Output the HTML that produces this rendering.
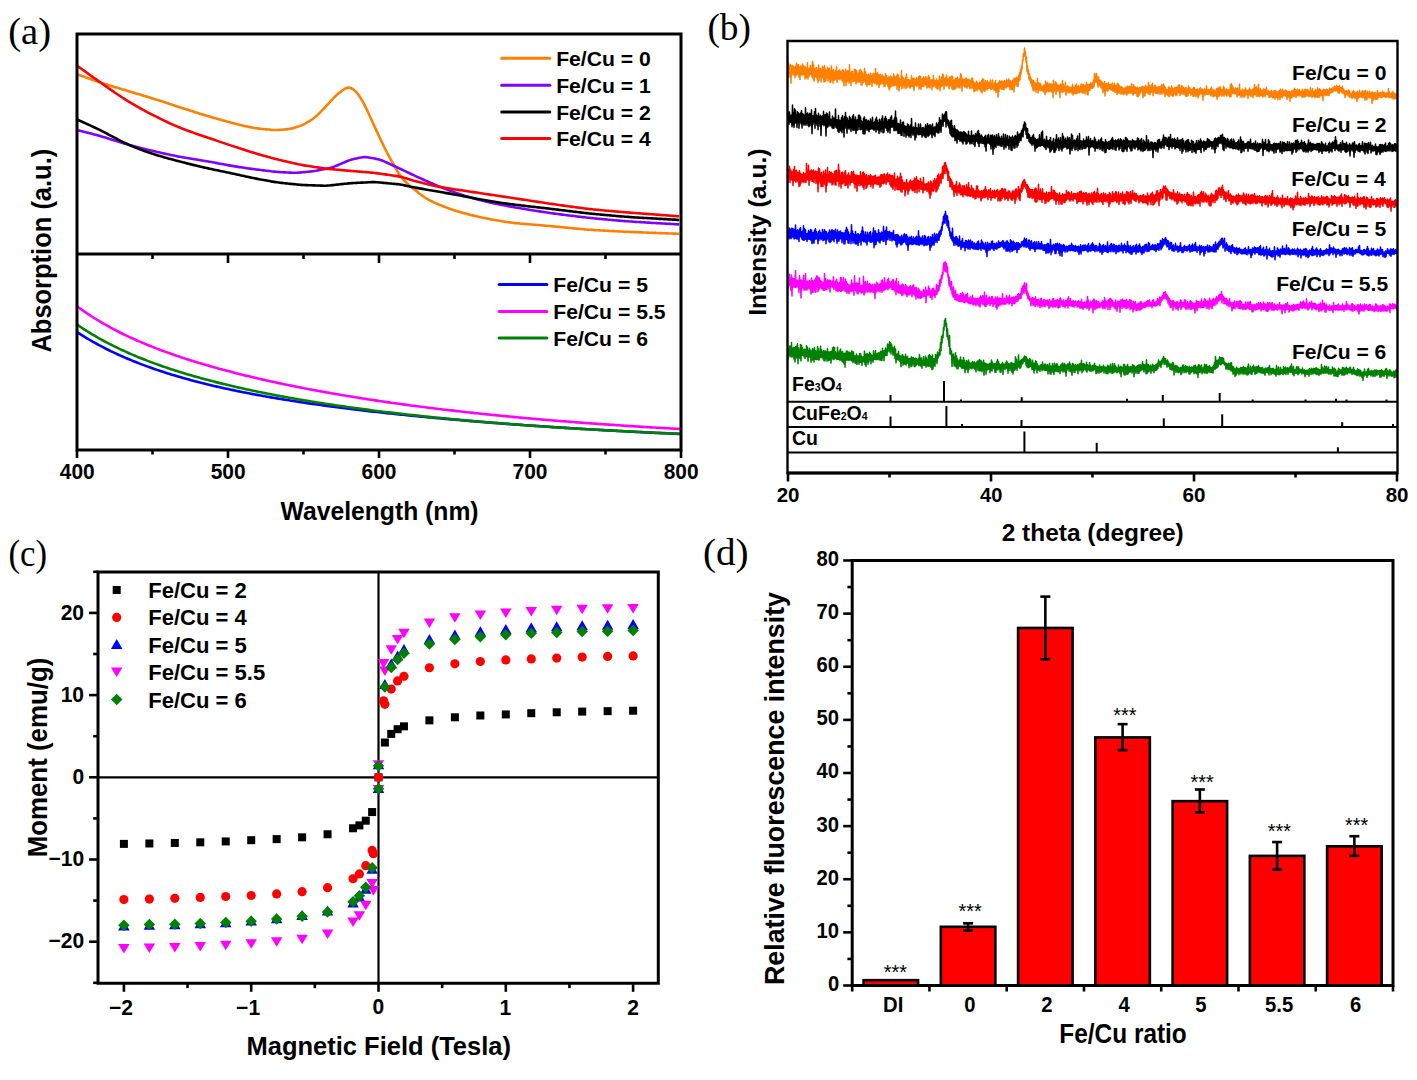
<!DOCTYPE html>
<html><head><meta charset="utf-8"><title>Figure</title>
<style>html,body{margin:0;padding:0;background:#fff;}svg{display:block;}</style></head>
<body><svg width="1417" height="1080" viewBox="0 0 1417 1080">
<rect x="0" y="0" width="1417" height="1080" fill="#fff"/>
<path d="M77.6,74.41 79.1,74.95 80.6,75.50 82.1,76.05 83.6,76.59 85.1,77.14 86.6,77.68 88.1,78.22 89.6,78.76 91.1,79.29 92.6,79.83 94.1,80.35 95.6,80.87 97.1,81.39 98.6,81.90 100.1,82.40 101.6,82.90 103.1,83.39 104.6,83.88 106.1,84.36 107.6,84.83 109.1,85.30 110.6,85.77 112.1,86.23 113.6,86.69 115.1,87.14 116.6,87.60 118.1,88.05 119.6,88.50 121.1,88.95 122.6,89.40 124.1,89.85 125.6,90.30 127.1,90.75 128.6,91.20 130.1,91.65 131.6,92.09 133.1,92.54 134.6,92.99 136.1,93.44 137.6,93.88 139.1,94.33 140.6,94.78 142.1,95.23 143.6,95.69 145.1,96.14 146.6,96.60 148.1,97.06 149.6,97.52 151.1,97.98 152.6,98.45 154.1,98.92 155.6,99.39 157.1,99.87 158.6,100.35 160.1,100.83 161.6,101.31 163.1,101.80 164.6,102.28 166.1,102.77 167.6,103.26 169.1,103.75 170.6,104.24 172.1,104.73 173.6,105.22 175.1,105.71 176.6,106.20 178.1,106.69 179.6,107.17 181.1,107.66 182.6,108.15 184.1,108.64 185.6,109.12 187.1,109.61 188.6,110.09 190.1,110.57 191.6,111.05 193.1,111.53 194.6,112.01 196.1,112.49 197.6,112.96 199.1,113.43 200.6,113.89 202.1,114.36 203.6,114.81 205.1,115.27 206.6,115.72 208.1,116.16 209.6,116.60 211.1,117.04 212.6,117.48 214.1,117.91 215.6,118.33 217.1,118.76 218.6,119.18 220.1,119.61 221.6,120.02 223.1,120.44 224.6,120.86 226.1,121.27 227.6,121.68 229.1,122.09 230.6,122.50 232.1,122.90 233.6,123.30 235.1,123.69 236.6,124.08 238.1,124.46 239.6,124.83 241.1,125.20 242.6,125.55 244.1,125.90 245.6,126.23 247.1,126.55 248.6,126.86 250.1,127.15 251.6,127.43 253.1,127.69 254.6,127.94 256.1,128.17 257.6,128.39 259.1,128.60 260.6,128.79 262.1,128.96 263.6,129.12 265.1,129.26 266.6,129.38 268.1,129.48 269.6,129.56 271.1,129.93 272.6,129.99 274.1,130.02 275.6,130.03 277.1,130.02 278.6,129.97 280.1,129.90 281.6,129.80 283.1,129.67 284.6,129.52 286.1,129.34 287.6,129.13 289.1,128.89 290.6,128.72 292.1,128.37 293.6,127.96 295.1,127.52 296.6,127.08 298.1,126.61 299.6,126.12 301.1,125.57 302.6,124.92 304.1,124.17 305.6,123.35 307.1,122.48 308.6,121.59 310.1,120.68 311.6,119.73 313.1,118.70 314.6,117.54 316.1,116.24 317.6,114.83 319.1,113.35 320.6,111.84 322.1,110.33 323.6,108.80 325.1,107.25 326.6,105.66 328.1,104.03 329.6,102.38 331.1,100.71 332.6,99.05 334.1,97.46 335.6,95.96 337.1,94.60 338.6,93.36 340.1,92.20 341.6,91.07 343.1,89.98 344.6,88.96 346.1,88.14 347.6,87.66 349.1,87.64 350.6,88.05 352.1,88.76 353.6,89.69 355.1,90.87 356.6,92.40 358.1,94.29 359.6,96.50 361.1,98.90 362.6,101.45 364.1,104.16 365.6,107.08 367.1,110.19 368.6,113.44 370.1,116.76 371.6,120.09 373.1,123.41 374.6,126.69 376.1,129.92 377.6,133.12 379.1,136.29 380.6,139.46 382.1,142.61 383.6,145.74 385.1,148.80 386.6,151.77 388.1,154.63 389.6,157.39 391.1,160.10 392.6,162.79 394.1,165.46 395.6,168.12 397.1,170.71 398.6,173.17 400.1,175.41 401.6,177.39 403.1,179.15 404.6,180.78 406.1,182.32 407.6,183.78 409.1,185.14 410.6,186.43 412.1,187.67 413.6,188.88 415.1,190.08 416.6,191.28 418.1,192.48 419.6,193.68 421.1,194.81 422.6,195.93 424.1,196.99 425.6,197.99 427.1,198.91 428.6,199.75 430.1,200.53 431.6,201.27 433.1,201.97 434.6,202.66 436.1,203.34 437.6,204.02 439.1,204.69 440.6,205.17 442.1,205.82 443.6,206.45 445.1,207.06 446.6,207.65 448.1,208.22 449.6,208.77 451.1,209.30 452.6,209.81 454.1,210.30 455.6,210.78 457.1,211.23 458.6,211.68 460.1,212.11 461.6,212.53 463.1,212.94 464.6,213.35 466.1,213.74 467.6,214.13 469.1,214.52 470.6,214.89 472.1,215.27 473.6,215.63 475.1,215.99 476.6,216.34 478.1,216.69 479.6,217.02 481.1,217.35 482.6,217.67 484.1,217.98 485.6,218.29 487.1,218.59 488.6,218.88 490.1,219.17 491.6,219.45 493.1,219.72 494.6,220.00 496.1,220.26 497.6,220.53 499.1,220.78 500.6,221.04 502.1,221.28 503.6,221.52 505.1,221.75 506.6,221.97 508.1,222.19 509.6,222.39 511.1,222.58 512.6,222.76 514.1,222.94 515.6,223.10 517.1,223.26 518.6,223.41 520.1,223.55 521.6,223.69 523.1,223.82 524.6,223.95 526.1,224.07 527.6,224.20 529.1,224.32 530.6,224.45 532.1,224.57 533.6,224.69 535.1,224.81 536.6,224.93 538.1,225.06 539.6,225.18 541.1,225.30 542.6,225.43 544.1,225.55 545.6,225.68 547.1,225.81 548.6,225.94 550.1,226.08 551.6,226.21 553.1,226.35 554.6,226.49 556.1,226.63 557.6,226.77 559.1,226.91 560.6,227.06 562.1,227.20 563.6,227.35 565.1,227.49 566.6,227.64 568.1,227.79 569.6,227.93 571.1,228.08 572.6,228.23 574.1,228.37 575.6,228.52 577.1,228.66 578.6,228.80 580.1,228.94 581.6,229.07 583.1,229.21 584.6,229.34 586.1,229.46 587.6,229.58 589.1,229.70 590.6,229.81 592.1,229.91 593.6,230.02 595.1,230.11 596.6,230.21 598.1,230.30 599.6,230.38 601.1,230.47 602.6,230.55 604.1,230.63 605.6,230.71 607.1,230.79 608.6,230.86 610.1,230.94 611.6,231.02 613.1,231.09 614.6,231.17 616.1,231.24 617.6,231.32 619.1,231.39 620.6,231.46 622.1,231.54 623.6,231.61 625.1,231.68 626.6,231.75 628.1,231.82 629.6,231.88 631.1,231.95 632.6,232.02 634.1,232.08 635.6,232.14 637.1,232.20 638.6,232.27 640.1,232.33 641.6,232.39 643.1,232.45 644.6,232.51 646.1,232.56 647.6,232.62 649.1,232.68 650.6,232.74 652.1,232.80 653.6,232.86 655.1,232.92 656.6,232.97 658.1,233.03 659.6,233.09 661.1,233.15 662.6,233.21 664.1,233.27 665.6,233.32 667.1,233.38 668.6,233.44 670.1,233.50 671.6,233.56 673.1,233.62 674.6,233.67 676.1,233.73 677.6,233.79 679.1,233.85" stroke="#FF8000" stroke-width="2.6" fill="none" stroke-linejoin="round" />
<path d="M77.6,130.19 79.1,130.56 80.6,130.94 82.1,131.31 83.6,131.69 85.1,132.06 86.6,132.44 88.1,132.82 89.6,133.21 91.1,133.60 92.6,133.99 94.1,134.39 95.6,134.79 97.1,135.20 98.6,135.62 100.1,136.05 101.6,136.48 103.1,136.92 104.6,137.37 106.1,137.82 107.6,138.28 109.1,138.74 110.6,139.21 112.1,139.68 113.6,140.16 115.1,140.63 116.6,141.10 118.1,141.57 119.6,142.04 121.1,142.50 122.6,142.96 124.1,143.41 125.6,143.85 127.1,144.29 128.6,144.71 130.1,145.13 131.6,145.55 133.1,145.96 134.6,146.36 136.1,146.75 137.6,147.14 139.1,147.53 140.6,147.91 142.1,148.29 143.6,148.66 145.1,149.04 146.6,149.41 148.1,149.77 149.6,150.14 151.1,150.50 152.6,150.85 154.1,151.21 155.6,151.56 157.1,151.91 158.6,152.26 160.1,152.60 161.6,152.94 163.1,153.28 164.6,153.61 166.1,153.95 167.6,154.27 169.1,154.60 170.6,154.92 172.1,155.23 173.6,155.54 175.1,155.84 176.6,156.13 178.1,156.42 179.6,156.70 181.1,156.97 182.6,157.24 184.1,157.50 185.6,157.75 187.1,158.00 188.6,158.25 190.1,158.49 191.6,158.73 193.1,158.96 194.6,159.20 196.1,159.44 197.6,159.68 199.1,159.93 200.6,160.17 202.1,160.43 203.6,160.68 205.1,160.94 206.6,161.20 208.1,161.47 209.6,161.75 211.1,162.02 212.6,162.30 214.1,162.58 215.6,162.87 217.1,163.15 218.6,163.44 220.1,163.72 221.6,164.00 223.1,164.28 224.6,164.56 226.1,164.84 227.6,165.10 229.1,165.37 230.6,165.63 232.1,165.89 233.6,166.14 235.1,166.38 236.6,166.62 238.1,166.86 239.6,167.10 241.1,167.33 242.6,167.55 244.1,167.78 245.6,168.00 247.1,168.21 248.6,168.43 250.1,168.64 251.6,168.84 253.1,169.05 254.6,169.25 256.1,169.44 257.6,169.63 259.1,169.82 260.6,170.01 262.1,170.19 263.6,170.37 265.1,170.54 266.6,170.71 268.1,170.88 269.6,171.04 271.1,171.27 272.6,171.44 274.1,171.60 275.6,171.75 277.1,171.89 278.6,172.02 280.1,172.13 281.6,172.22 283.1,172.30 284.6,172.38 286.1,172.45 287.6,172.51 289.1,172.58 290.6,172.65 292.1,172.71 293.6,172.76 295.1,172.77 296.6,172.74 298.1,172.66 299.6,172.55 301.1,172.41 302.6,172.26 304.1,172.11 305.6,171.97 307.1,171.82 308.6,171.67 310.1,171.51 311.6,171.35 313.1,171.17 314.6,170.95 316.1,170.71 317.6,170.43 319.1,170.14 320.6,169.84 322.1,169.54 323.6,169.24 325.1,168.94 326.6,168.64 328.1,168.33 329.6,168.00 331.1,167.62 332.6,167.17 334.1,166.64 335.6,166.05 337.1,165.43 338.6,164.78 340.1,164.14 341.6,163.49 343.1,162.85 344.6,162.20 346.1,161.56 347.6,160.94 349.1,160.37 350.6,159.86 352.1,159.43 353.6,159.06 355.1,158.73 356.6,158.41 358.1,158.10 359.6,157.79 361.1,157.50 362.6,157.26 364.1,157.12 365.6,157.11 367.1,157.24 368.6,157.45 370.1,157.72 371.6,158.00 373.1,158.29 374.6,158.57 376.1,158.87 377.6,159.19 379.1,159.55 380.6,160.00 382.1,160.55 383.6,161.17 385.1,161.83 386.6,162.52 388.1,163.21 389.6,163.90 391.1,164.59 392.6,165.28 394.1,165.98 395.6,166.67 397.1,167.36 398.6,168.06 400.1,168.76 401.6,169.47 403.1,170.19 404.6,170.90 406.1,171.62 407.6,172.34 409.1,173.05 410.6,173.77 412.1,174.48 413.6,175.19 415.1,175.88 416.6,176.56 418.1,177.24 419.6,177.92 421.1,178.59 422.6,179.27 424.1,179.94 425.6,180.62 427.1,181.29 428.6,181.97 430.1,182.64 431.6,183.31 433.1,183.98 434.6,184.64 436.1,185.28 437.6,185.91 439.1,186.53 440.6,186.99 442.1,187.59 443.6,188.18 445.1,188.77 446.6,189.35 448.1,189.92 449.6,190.48 451.1,191.04 452.6,191.59 454.1,192.13 455.6,192.67 457.1,193.19 458.6,193.71 460.1,194.21 461.6,194.71 463.1,195.19 464.6,195.67 466.1,196.13 467.6,196.59 469.1,197.03 470.6,197.47 472.1,197.90 473.6,198.32 475.1,198.74 476.6,199.14 478.1,199.54 479.6,199.94 481.1,200.32 482.6,200.70 484.1,201.07 485.6,201.43 487.1,201.79 488.6,202.14 490.1,202.48 491.6,202.81 493.1,203.13 494.6,203.45 496.1,203.77 497.6,204.08 499.1,204.38 500.6,204.68 502.1,204.97 503.6,205.27 505.1,205.55 506.6,205.84 508.1,206.12 509.6,206.39 511.1,206.66 512.6,206.93 514.1,207.19 515.6,207.46 517.1,207.71 518.6,207.97 520.1,208.22 521.6,208.47 523.1,208.72 524.6,208.96 526.1,209.21 527.6,209.46 529.1,209.70 530.6,209.94 532.1,210.19 533.6,210.43 535.1,210.67 536.6,210.91 538.1,211.15 539.6,211.39 541.1,211.62 542.6,211.86 544.1,212.09 545.6,212.32 547.1,212.54 548.6,212.76 550.1,212.98 551.6,213.19 553.1,213.40 554.6,213.60 556.1,213.81 557.6,214.00 559.1,214.20 560.6,214.39 562.1,214.59 563.6,214.78 565.1,214.97 566.6,215.15 568.1,215.34 569.6,215.53 571.1,215.71 572.6,215.90 574.1,216.08 575.6,216.27 577.1,216.45 578.6,216.63 580.1,216.81 581.6,216.99 583.1,217.16 584.6,217.33 586.1,217.50 587.6,217.67 589.1,217.83 590.6,217.99 592.1,218.14 593.6,218.30 595.1,218.44 596.6,218.59 598.1,218.73 599.6,218.87 601.1,219.01 602.6,219.15 604.1,219.29 605.6,219.42 607.1,219.56 608.6,219.69 610.1,219.82 611.6,219.95 613.1,220.09 614.6,220.22 616.1,220.35 617.6,220.48 619.1,220.60 620.6,220.73 622.1,220.85 623.6,220.98 625.1,221.09 626.6,221.21 628.1,221.32 629.6,221.44 631.1,221.54 632.6,221.65 634.1,221.75 635.6,221.85 637.1,221.95 638.6,222.04 640.1,222.13 641.6,222.23 643.1,222.32 644.6,222.41 646.1,222.50 647.6,222.58 649.1,222.67 650.6,222.76 652.1,222.85 653.6,222.94 655.1,223.02 656.6,223.11 658.1,223.20 659.6,223.29 661.1,223.37 662.6,223.46 664.1,223.55 665.6,223.64 667.1,223.72 668.6,223.81 670.1,223.90 671.6,223.99 673.1,224.07 674.6,224.16 676.1,224.25 677.6,224.34 679.1,224.42" stroke="#8000FF" stroke-width="2.6" fill="none" stroke-linejoin="round" />
<path d="M77.6,119.79 79.1,120.46 80.6,121.13 82.1,121.80 83.6,122.47 85.1,123.14 86.6,123.82 88.1,124.50 89.6,125.18 91.1,125.87 92.6,126.57 94.1,127.27 95.6,127.98 97.1,128.70 98.6,129.43 100.1,130.17 101.6,130.92 103.1,131.67 104.6,132.44 106.1,133.22 107.6,134.00 109.1,134.79 110.6,135.58 112.1,136.37 113.6,137.17 115.1,137.96 116.6,138.75 118.1,139.53 119.6,140.31 121.1,141.07 122.6,141.81 124.1,142.55 125.6,143.26 127.1,143.96 128.6,144.64 130.1,145.31 131.6,145.96 133.1,146.59 134.6,147.20 136.1,147.81 137.6,148.40 139.1,148.98 140.6,149.55 142.1,150.11 143.6,150.66 145.1,151.21 146.6,151.74 148.1,152.26 149.6,152.78 151.1,153.28 152.6,153.77 154.1,154.26 155.6,154.73 157.1,155.19 158.6,155.65 160.1,156.09 161.6,156.53 163.1,156.96 164.6,157.39 166.1,157.81 167.6,158.23 169.1,158.64 170.6,159.05 172.1,159.46 173.6,159.86 175.1,160.26 176.6,160.66 178.1,161.06 179.6,161.45 181.1,161.84 182.6,162.23 184.1,162.61 185.6,162.99 187.1,163.38 188.6,163.75 190.1,164.13 191.6,164.50 193.1,164.87 194.6,165.24 196.1,165.61 197.6,165.97 199.1,166.33 200.6,166.68 202.1,167.03 203.6,167.38 205.1,167.72 206.6,168.05 208.1,168.38 209.6,168.71 211.1,169.03 212.6,169.35 214.1,169.67 215.6,169.98 217.1,170.29 218.6,170.60 220.1,170.91 221.6,171.22 223.1,171.54 224.6,171.85 226.1,172.16 227.6,172.48 229.1,172.80 230.6,173.12 232.1,173.45 233.6,173.77 235.1,174.10 236.6,174.43 238.1,174.77 239.6,175.10 241.1,175.43 242.6,175.76 244.1,176.09 245.6,176.42 247.1,176.74 248.6,177.07 250.1,177.38 251.6,177.70 253.1,178.00 254.6,178.31 256.1,178.60 257.6,178.89 259.1,179.18 260.6,179.46 262.1,179.73 263.6,180.00 265.1,180.27 266.6,180.53 268.1,180.78 269.6,181.03 271.1,181.36 272.6,181.61 274.1,181.86 275.6,182.10 277.1,182.33 278.6,182.54 280.1,182.73 281.6,182.91 283.1,183.07 284.6,183.23 286.1,183.39 287.6,183.54 289.1,183.69 290.6,183.84 292.1,183.99 293.6,184.14 295.1,184.29 296.6,184.44 298.1,184.59 299.6,184.73 301.1,184.85 302.6,184.96 304.1,185.04 305.6,185.11 307.1,185.16 308.6,185.21 310.1,185.26 311.6,185.31 313.1,185.36 314.6,185.41 316.1,185.46 317.6,185.51 319.1,185.56 320.6,185.61 322.1,185.65 323.6,185.69 325.1,185.69 326.6,185.65 328.1,185.56 329.6,185.43 331.1,185.28 332.6,185.12 334.1,184.96 335.6,184.80 337.1,184.63 338.6,184.47 340.1,184.31 341.6,184.15 343.1,183.99 344.6,183.83 346.1,183.67 347.6,183.51 349.1,183.37 350.6,183.24 352.1,183.14 353.6,183.05 355.1,182.97 356.6,182.89 358.1,182.82 359.6,182.74 361.1,182.67 362.6,182.59 364.1,182.52 365.6,182.44 367.1,182.37 368.6,182.29 370.1,182.22 371.6,182.17 373.1,182.13 374.6,182.15 376.1,182.21 377.6,182.31 379.1,182.44 380.6,182.57 382.1,182.72 383.6,182.86 385.1,183.00 386.6,183.14 388.1,183.28 389.6,183.42 391.1,183.56 392.6,183.70 394.1,183.85 395.6,183.99 397.1,184.15 398.6,184.32 400.1,184.54 401.6,184.79 403.1,185.08 404.6,185.39 406.1,185.71 407.6,186.03 409.1,186.35 410.6,186.67 412.1,186.98 413.6,187.28 415.1,187.57 416.6,187.85 418.1,188.12 419.6,188.38 421.1,188.64 422.6,188.90 424.1,189.17 425.6,189.43 427.1,189.69 428.6,189.95 430.1,190.22 431.6,190.48 433.1,190.74 434.6,191.00 436.1,191.27 437.6,191.53 439.1,191.79 440.6,192.06 442.1,192.32 443.6,192.58 445.1,192.85 446.6,193.11 448.1,193.37 449.6,193.64 451.1,193.90 452.6,194.17 454.1,194.44 455.6,194.71 457.1,194.98 458.6,195.26 460.1,195.54 461.6,195.81 463.1,196.10 464.6,196.38 466.1,196.67 467.6,196.95 469.1,197.24 470.6,197.53 472.1,197.82 473.6,198.11 475.1,198.40 476.6,198.69 478.1,198.98 479.6,199.26 481.1,199.54 482.6,199.81 484.1,200.08 485.6,200.35 487.1,200.61 488.6,200.87 490.1,201.12 491.6,201.36 493.1,201.61 494.6,201.84 496.1,202.08 497.6,202.31 499.1,202.53 500.6,202.75 502.1,202.97 503.6,203.19 505.1,203.40 506.6,203.61 508.1,203.81 509.6,204.01 511.1,204.21 512.6,204.40 514.1,204.59 515.6,204.78 517.1,204.96 518.6,205.14 520.1,205.31 521.6,205.49 523.1,205.66 524.6,205.84 526.1,206.01 527.6,206.18 529.1,206.35 530.6,206.52 532.1,206.69 533.6,206.86 535.1,207.03 536.6,207.20 538.1,207.37 539.6,207.54 541.1,207.71 542.6,207.88 544.1,208.05 545.6,208.23 547.1,208.40 548.6,208.58 550.1,208.75 551.6,208.93 553.1,209.11 554.6,209.29 556.1,209.47 557.6,209.65 559.1,209.84 560.6,210.02 562.1,210.21 563.6,210.39 565.1,210.57 566.6,210.76 568.1,210.95 569.6,211.13 571.1,211.32 572.6,211.50 574.1,211.68 575.6,211.87 577.1,212.05 578.6,212.23 580.1,212.41 581.6,212.59 583.1,212.76 584.6,212.93 586.1,213.10 587.6,213.27 589.1,213.43 590.6,213.59 592.1,213.74 593.6,213.90 595.1,214.04 596.6,214.19 598.1,214.33 599.6,214.47 601.1,214.61 602.6,214.75 604.1,214.89 605.6,215.02 607.1,215.16 608.6,215.29 610.1,215.42 611.6,215.55 613.1,215.69 614.6,215.82 616.1,215.95 617.6,216.08 619.1,216.20 620.6,216.33 622.1,216.45 623.6,216.57 625.1,216.69 626.6,216.81 628.1,216.92 629.6,217.03 631.1,217.13 632.6,217.24 634.1,217.34 635.6,217.43 637.1,217.53 638.6,217.62 640.1,217.71 641.6,217.80 643.1,217.89 644.6,217.98 646.1,218.06 647.6,218.15 649.1,218.23 650.6,218.32 652.1,218.40 653.6,218.49 655.1,218.57 656.6,218.66 658.1,218.74 659.6,218.83 661.1,218.91 662.6,219.00 664.1,219.08 665.6,219.16 667.1,219.25 668.6,219.33 670.1,219.42 671.6,219.50 673.1,219.59 674.6,219.67 676.1,219.76 677.6,219.84 679.1,219.93" stroke="#000" stroke-width="2.6" fill="none" stroke-linejoin="round" />
<path d="M77.6,66.00 79.1,67.09 80.6,68.18 82.1,69.27 83.6,70.35 85.1,71.44 86.6,72.53 88.1,73.61 89.6,74.70 91.1,75.78 92.6,76.86 94.1,77.94 95.6,79.01 97.1,80.09 98.6,81.16 100.1,82.23 101.6,83.29 103.1,84.35 104.6,85.41 106.1,86.47 107.6,87.52 109.1,88.57 110.6,89.62 112.1,90.66 113.6,91.69 115.1,92.72 116.6,93.74 118.1,94.76 119.6,95.76 121.1,96.76 122.6,97.74 124.1,98.71 125.6,99.67 127.1,100.61 128.6,101.53 130.1,102.45 131.6,103.35 133.1,104.23 134.6,105.10 136.1,105.97 137.6,106.82 139.1,107.66 140.6,108.50 142.1,109.33 143.6,110.15 145.1,110.96 146.6,111.77 148.1,112.57 149.6,113.36 151.1,114.14 152.6,114.92 154.1,115.69 155.6,116.45 157.1,117.20 158.6,117.94 160.1,118.68 161.6,119.41 163.1,120.13 164.6,120.84 166.1,121.55 167.6,122.26 169.1,122.95 170.6,123.63 172.1,124.31 173.6,124.98 175.1,125.63 176.6,126.27 178.1,126.90 179.6,127.52 181.1,128.13 182.6,128.72 184.1,129.30 185.6,129.87 187.1,130.43 188.6,130.99 190.1,131.53 191.6,132.07 193.1,132.61 194.6,133.14 196.1,133.67 197.6,134.19 199.1,134.71 200.6,135.24 202.1,135.75 203.6,136.27 205.1,136.79 206.6,137.30 208.1,137.81 209.6,138.32 211.1,138.83 212.6,139.34 214.1,139.85 215.6,140.35 217.1,140.86 218.6,141.36 220.1,141.87 221.6,142.37 223.1,142.87 224.6,143.37 226.1,143.87 227.6,144.37 229.1,144.87 230.6,145.37 232.1,145.87 233.6,146.36 235.1,146.86 236.6,147.35 238.1,147.84 239.6,148.33 241.1,148.82 242.6,149.30 244.1,149.79 245.6,150.27 247.1,150.74 248.6,151.22 250.1,151.68 251.6,152.15 253.1,152.60 254.6,153.06 256.1,153.50 257.6,153.94 259.1,154.38 260.6,154.81 262.1,155.23 263.6,155.66 265.1,156.07 266.6,156.48 268.1,156.89 269.6,157.30 271.1,157.75 272.6,158.16 274.1,158.56 275.6,158.96 277.1,159.34 278.6,159.72 280.1,160.09 281.6,160.44 283.1,160.79 284.6,161.14 286.1,161.48 287.6,161.81 289.1,162.15 290.6,162.49 292.1,162.83 293.6,163.16 295.1,163.50 296.6,163.84 298.1,164.17 299.6,164.50 301.1,164.81 302.6,165.10 304.1,165.36 305.6,165.60 307.1,165.83 308.6,166.06 310.1,166.28 311.6,166.50 313.1,166.73 314.6,166.95 316.1,167.18 317.6,167.40 319.1,167.62 320.6,167.85 322.1,168.07 323.6,168.29 325.1,168.49 326.6,168.68 328.1,168.84 329.6,168.99 331.1,169.14 332.6,169.27 334.1,169.41 335.6,169.55 337.1,169.69 338.6,169.82 340.1,169.96 341.6,170.10 343.1,170.23 344.6,170.37 346.1,170.51 347.6,170.64 349.1,170.78 350.6,170.91 352.1,171.04 353.6,171.16 355.1,171.29 356.6,171.41 358.1,171.54 359.6,171.66 361.1,171.79 362.6,171.91 364.1,172.04 365.6,172.16 367.1,172.29 368.6,172.41 370.1,172.54 371.6,172.67 373.1,172.81 374.6,172.97 376.1,173.15 377.6,173.35 379.1,173.55 380.6,173.76 382.1,173.97 383.6,174.18 385.1,174.40 386.6,174.61 388.1,174.82 389.6,175.03 391.1,175.24 392.6,175.46 394.1,175.67 395.6,175.89 397.1,176.12 398.6,176.38 400.1,176.69 401.6,177.06 403.1,177.47 404.6,177.92 406.1,178.37 407.6,178.83 409.1,179.29 410.6,179.75 412.1,180.20 413.6,180.63 415.1,181.04 416.6,181.44 418.1,181.82 419.6,182.20 421.1,182.57 422.6,182.95 424.1,183.32 425.6,183.70 427.1,184.07 428.6,184.45 430.1,184.82 431.6,185.19 433.1,185.55 434.6,185.91 436.1,186.24 437.6,186.56 439.1,186.85 440.6,186.95 442.1,187.22 443.6,187.49 445.1,187.75 446.6,188.01 448.1,188.26 449.6,188.50 451.1,188.74 452.6,188.97 454.1,189.20 455.6,189.43 457.1,189.66 458.6,189.89 460.1,190.11 461.6,190.34 463.1,190.56 464.6,190.79 466.1,191.01 467.6,191.24 469.1,191.46 470.6,191.69 472.1,191.91 473.6,192.14 475.1,192.36 476.6,192.59 478.1,192.82 479.6,193.04 481.1,193.27 482.6,193.49 484.1,193.72 485.6,193.94 487.1,194.17 488.6,194.39 490.1,194.62 491.6,194.84 493.1,195.07 494.6,195.29 496.1,195.52 497.6,195.74 499.1,195.97 500.6,196.19 502.1,196.42 503.6,196.64 505.1,196.87 506.6,197.10 508.1,197.32 509.6,197.55 511.1,197.78 512.6,198.00 514.1,198.23 515.6,198.46 517.1,198.69 518.6,198.91 520.1,199.14 521.6,199.37 523.1,199.60 524.6,199.83 526.1,200.06 527.6,200.28 529.1,200.51 530.6,200.74 532.1,200.97 533.6,201.20 535.1,201.43 536.6,201.65 538.1,201.88 539.6,202.11 541.1,202.33 542.6,202.56 544.1,202.78 545.6,203.00 547.1,203.23 548.6,203.45 550.1,203.67 551.6,203.89 553.1,204.10 554.6,204.32 556.1,204.53 557.6,204.74 559.1,204.96 560.6,205.17 562.1,205.38 563.6,205.59 565.1,205.80 566.6,206.01 568.1,206.22 569.6,206.43 571.1,206.63 572.6,206.84 574.1,207.05 575.6,207.25 577.1,207.45 578.6,207.66 580.1,207.85 581.6,208.05 583.1,208.24 584.6,208.43 586.1,208.61 587.6,208.79 589.1,208.96 590.6,209.13 592.1,209.29 593.6,209.45 595.1,209.60 596.6,209.75 598.1,209.90 599.6,210.04 601.1,210.18 602.6,210.31 604.1,210.45 605.6,210.58 607.1,210.71 608.6,210.84 610.1,210.97 611.6,211.10 613.1,211.23 614.6,211.36 616.1,211.49 617.6,211.61 619.1,211.74 620.6,211.87 622.1,211.99 623.6,212.12 625.1,212.24 626.6,212.36 628.1,212.48 629.6,212.60 631.1,212.72 632.6,212.84 634.1,212.96 635.6,213.07 637.1,213.19 638.6,213.30 640.1,213.41 641.6,213.53 643.1,213.64 644.6,213.75 646.1,213.86 647.6,213.97 649.1,214.09 650.6,214.20 652.1,214.31 653.6,214.42 655.1,214.53 656.6,214.64 658.1,214.75 659.6,214.86 661.1,214.97 662.6,215.08 664.1,215.19 665.6,215.31 667.1,215.42 668.6,215.53 670.1,215.64 671.6,215.75 673.1,215.86 674.6,215.97 676.1,216.08 677.6,216.19 679.1,216.30" stroke="#FF0000" stroke-width="2.6" fill="none" stroke-linejoin="round" />
<path d="M77.0,306.23 79.0,307.71 81.0,309.16 83.0,310.58 85.0,311.97 87.0,313.33 89.0,314.66 91.0,315.97 93.0,317.25 95.0,318.51 97.0,319.75 99.0,320.96 101.0,322.15 103.0,323.32 105.0,324.47 107.0,325.60 109.0,326.70 111.0,327.79 113.0,328.86 115.0,329.92 117.0,330.95 119.0,331.97 121.0,332.97 123.0,333.96 125.0,334.93 127.0,335.88 129.0,336.82 131.0,337.75 133.0,338.66 135.0,339.56 137.0,340.44 139.0,341.32 141.0,342.18 143.0,343.03 145.0,343.86 147.0,344.69 149.0,345.50 151.0,346.30 153.0,347.10 155.0,347.88 157.0,348.65 159.0,349.41 161.0,350.17 163.0,350.91 165.0,351.64 167.0,352.37 169.0,353.08 171.0,353.79 173.0,354.49 175.0,355.18 177.0,355.87 179.0,356.54 181.0,357.21 183.0,357.87 185.0,358.53 187.0,359.17 189.0,359.81 191.0,360.45 193.0,361.07 195.0,361.69 197.0,362.31 199.0,362.91 201.0,363.51 203.0,364.11 205.0,364.70 207.0,365.28 209.0,365.86 211.0,366.43 213.0,367.00 215.0,367.56 217.0,368.11 219.0,368.66 221.0,369.21 223.0,369.75 225.0,370.29 227.0,370.82 229.0,371.34 231.0,371.86 233.0,372.38 235.0,372.89 237.0,373.40 239.0,373.90 241.0,374.40 243.0,374.90 245.0,375.39 247.0,375.87 249.0,376.36 251.0,376.83 253.0,377.31 255.0,377.78 257.0,378.25 259.0,378.71 261.0,379.17 263.0,379.62 265.0,380.07 267.0,380.52 269.0,380.97 271.0,381.41 273.0,381.84 275.0,382.28 277.0,382.71 279.0,383.14 281.0,383.56 283.0,383.98 285.0,384.40 287.0,384.81 289.0,385.22 291.0,385.63 293.0,386.04 295.0,386.44 297.0,386.84 299.0,387.23 301.0,387.63 303.0,388.02 305.0,388.41 307.0,388.79 309.0,389.17 311.0,389.55 313.0,389.93 315.0,390.30 317.0,390.67 319.0,391.04 321.0,391.40 323.0,391.77 325.0,392.13 327.0,392.48 329.0,392.84 331.0,393.19 333.0,393.54 335.0,393.89 337.0,394.23 339.0,394.57 341.0,394.91 343.0,395.25 345.0,395.59 347.0,395.92 349.0,396.25 351.0,396.58 353.0,396.90 355.0,397.23 357.0,397.55 359.0,397.87 361.0,398.19 363.0,398.50 365.0,398.81 367.0,399.12 369.0,399.43 371.0,399.74 373.0,400.04 375.0,400.34 377.0,400.64 379.0,400.94 381.0,401.24 383.0,401.53 385.0,401.82 387.0,402.11 389.0,402.40 391.0,402.68 393.0,402.97 395.0,403.25 397.0,403.53 399.0,403.81 401.0,404.08 403.0,404.36 405.0,404.63 407.0,404.90 409.0,405.17 411.0,405.44 413.0,405.70 415.0,405.96 417.0,406.23 419.0,406.49 421.0,406.74 423.0,407.00 425.0,407.25 427.0,407.51 429.0,407.76 431.0,408.01 433.0,408.25 435.0,408.50 437.0,408.75 439.0,408.99 441.0,409.23 443.0,409.47 445.0,409.71 447.0,409.94 449.0,410.18 451.0,410.41 453.0,410.64 455.0,410.87 457.0,411.10 459.0,411.33 461.0,411.55 463.0,411.78 465.0,412.00 467.0,412.22 469.0,412.44 471.0,412.66 473.0,412.87 475.0,413.09 477.0,413.30 479.0,413.51 481.0,413.72 483.0,413.93 485.0,414.14 487.0,414.35 489.0,414.55 491.0,414.76 493.0,414.96 495.0,415.16 497.0,415.36 499.0,415.56 501.0,415.75 503.0,415.95 505.0,416.14 507.0,416.34 509.0,416.53 511.0,416.72 513.0,416.91 515.0,417.10 517.0,417.28 519.0,417.47 521.0,417.65 523.0,417.84 525.0,418.02 527.0,418.20 529.0,418.38 531.0,418.55 533.0,418.73 535.0,418.91 537.0,419.08 539.0,419.26 541.0,419.43 543.0,419.60 545.0,419.77 547.0,419.94 549.0,420.11 551.0,420.27 553.0,420.44 555.0,420.60 557.0,420.77 559.0,420.93 561.0,421.09 563.0,421.25 565.0,421.41 567.0,421.57 569.0,421.72 571.0,421.88 573.0,422.03 575.0,422.19 577.0,422.34 579.0,422.49 581.0,422.64 583.0,422.79 585.0,422.94 587.0,423.09 589.0,423.24 591.0,423.38 593.0,423.53 595.0,423.67 597.0,423.81 599.0,423.96 601.0,424.10 603.0,424.24 605.0,424.38 607.0,424.51 609.0,424.65 611.0,424.79 613.0,424.92 615.0,425.06 617.0,425.19 619.0,425.32 621.0,425.46 623.0,425.59 625.0,425.72 627.0,425.85 629.0,425.97 631.0,426.10 633.0,426.23 635.0,426.36 637.0,426.48 639.0,426.60 641.0,426.73 643.0,426.85 645.0,426.97 647.0,427.09 649.0,427.21 651.0,427.33 653.0,427.45 655.0,427.57 657.0,427.69 659.0,427.80 661.0,427.92 663.0,428.03 665.0,428.15 667.0,428.26 669.0,428.37 671.0,428.48 673.0,428.59 675.0,428.70 677.0,428.81 679.0,428.92 681.0,429.03" stroke="#FF00FF" stroke-width="2.6" fill="none" stroke-linejoin="round" />
<path d="M77.0,332.10 79.0,333.39 81.0,334.65 83.0,335.90 85.0,337.12 87.0,338.32 89.0,339.50 91.0,340.66 93.0,341.80 95.0,342.92 97.0,344.01 99.0,345.10 101.0,346.16 103.0,347.20 105.0,348.23 107.0,349.24 109.0,350.23 111.0,351.21 113.0,352.17 115.0,353.11 117.0,354.04 119.0,354.96 121.0,355.86 123.0,356.74 125.0,357.61 127.0,358.47 129.0,359.31 131.0,360.15 133.0,360.96 135.0,361.77 137.0,362.56 139.0,363.34 141.0,364.11 143.0,364.87 145.0,365.62 147.0,366.35 149.0,367.08 151.0,367.79 153.0,368.49 155.0,369.19 157.0,369.87 159.0,370.54 161.0,371.21 163.0,371.86 165.0,372.51 167.0,373.14 169.0,373.77 171.0,374.39 173.0,375.00 175.0,375.60 177.0,376.20 179.0,376.78 181.0,377.36 183.0,377.93 185.0,378.50 187.0,379.05 189.0,379.60 191.0,380.14 193.0,380.68 195.0,381.21 197.0,381.73 199.0,382.24 201.0,382.75 203.0,383.26 205.0,383.75 207.0,384.24 209.0,384.73 211.0,385.21 213.0,385.68 215.0,386.15 217.0,386.61 219.0,387.07 221.0,387.52 223.0,387.97 225.0,388.41 227.0,388.84 229.0,389.28 231.0,389.70 233.0,390.13 235.0,390.54 237.0,390.96 239.0,391.36 241.0,391.77 243.0,392.17 245.0,392.56 247.0,392.96 249.0,393.34 251.0,393.73 253.0,394.11 255.0,394.48 257.0,394.85 259.0,395.22 261.0,395.59 263.0,395.95 265.0,396.31 267.0,396.66 269.0,397.01 271.0,397.36 273.0,397.70 275.0,398.04 277.0,398.38 279.0,398.71 281.0,399.04 283.0,399.37 285.0,399.70 287.0,400.02 289.0,400.34 291.0,400.66 293.0,400.97 295.0,401.28 297.0,401.59 299.0,401.89 301.0,402.20 303.0,402.50 305.0,402.79 307.0,403.09 309.0,403.38 311.0,403.67 313.0,403.96 315.0,404.24 317.0,404.52 319.0,404.80 321.0,405.08 323.0,405.36 325.0,405.63 327.0,405.90 329.0,406.17 331.0,406.44 333.0,406.70 335.0,406.97 337.0,407.23 339.0,407.49 341.0,407.74 343.0,408.00 345.0,408.25 347.0,408.50 349.0,408.75 351.0,409.00 353.0,409.24 355.0,409.49 357.0,409.73 359.0,409.97 361.0,410.21 363.0,410.44 365.0,410.68 367.0,410.91 369.0,411.14 371.0,411.37 373.0,411.60 375.0,411.82 377.0,412.05 379.0,412.27 381.0,412.49 383.0,412.71 385.0,412.93 387.0,413.15 389.0,413.36 391.0,413.58 393.0,413.79 395.0,414.00 397.0,414.21 399.0,414.42 401.0,414.63 403.0,414.83 405.0,415.03 407.0,415.24 409.0,415.44 411.0,415.64 413.0,415.84 415.0,416.03 417.0,416.23 419.0,416.43 421.0,416.62 423.0,416.81 425.0,417.00 427.0,417.19 429.0,417.38 431.0,417.57 433.0,417.75 435.0,417.94 437.0,418.12 439.0,418.30 441.0,418.49 443.0,418.67 445.0,418.85 447.0,419.02 449.0,419.20 451.0,419.38 453.0,419.55 455.0,419.73 457.0,419.90 459.0,420.07 461.0,420.24 463.0,420.41 465.0,420.58 467.0,420.75 469.0,420.91 471.0,421.08 473.0,421.24 475.0,421.40 477.0,421.57 479.0,421.73 481.0,421.89 483.0,422.05 485.0,422.21 487.0,422.36 489.0,422.52 491.0,422.68 493.0,422.83 495.0,422.99 497.0,423.14 499.0,423.29 501.0,423.44 503.0,423.59 505.0,423.74 507.0,423.89 509.0,424.04 511.0,424.18 513.0,424.33 515.0,424.48 517.0,424.62 519.0,424.76 521.0,424.91 523.0,425.05 525.0,425.19 527.0,425.33 529.0,425.47 531.0,425.61 533.0,425.74 535.0,425.88 537.0,426.02 539.0,426.15 541.0,426.29 543.0,426.42 545.0,426.55 547.0,426.69 549.0,426.82 551.0,426.95 553.0,427.08 555.0,427.21 557.0,427.34 559.0,427.47 561.0,427.59 563.0,427.72 565.0,427.84 567.0,427.97 569.0,428.09 571.0,428.22 573.0,428.34 575.0,428.46 577.0,428.58 579.0,428.71 581.0,428.83 583.0,428.95 585.0,429.06 587.0,429.18 589.0,429.30 591.0,429.42 593.0,429.53 595.0,429.65 597.0,429.76 599.0,429.88 601.0,429.99 603.0,430.11 605.0,430.22 607.0,430.33 609.0,430.44 611.0,430.55 613.0,430.66 615.0,430.77 617.0,430.88 619.0,430.99 621.0,431.10 623.0,431.20 625.0,431.31 627.0,431.41 629.0,431.52 631.0,431.62 633.0,431.73 635.0,431.83 637.0,431.94 639.0,432.04 641.0,432.14 643.0,432.24 645.0,432.34 647.0,432.44 649.0,432.54 651.0,432.64 653.0,432.74 655.0,432.84 657.0,432.93 659.0,433.03 661.0,433.13 663.0,433.22 665.0,433.32 667.0,433.41 669.0,433.51 671.0,433.60 673.0,433.70 675.0,433.79 677.0,433.88 679.0,433.97 681.0,434.06" stroke="#0000FF" stroke-width="2.6" fill="none" stroke-linejoin="round" />
<path d="M77.0,324.58 79.0,325.94 81.0,327.28 83.0,328.60 85.0,329.89 87.0,331.15 89.0,332.40 91.0,333.62 93.0,334.82 95.0,335.99 97.0,337.15 99.0,338.28 101.0,339.40 103.0,340.49 105.0,341.57 107.0,342.63 109.0,343.67 111.0,344.70 113.0,345.70 115.0,346.69 117.0,347.67 119.0,348.63 121.0,349.57 123.0,350.50 125.0,351.41 127.0,352.31 129.0,353.20 131.0,354.07 133.0,354.93 135.0,355.78 137.0,356.62 139.0,357.44 141.0,358.25 143.0,359.05 145.0,359.83 147.0,360.61 149.0,361.38 151.0,362.13 153.0,362.88 155.0,363.61 157.0,364.33 159.0,365.05 161.0,365.75 163.0,366.45 165.0,367.14 167.0,367.82 169.0,368.49 171.0,369.15 173.0,369.80 175.0,370.44 177.0,371.08 179.0,371.71 181.0,372.33 183.0,372.95 185.0,373.55 187.0,374.15 189.0,374.75 191.0,375.33 193.0,375.91 195.0,376.48 197.0,377.05 199.0,377.61 201.0,378.16 203.0,378.71 205.0,379.25 207.0,379.78 209.0,380.31 211.0,380.84 213.0,381.36 215.0,381.87 217.0,382.38 219.0,382.88 221.0,383.37 223.0,383.87 225.0,384.35 227.0,384.83 229.0,385.31 231.0,385.78 233.0,386.25 235.0,386.71 237.0,387.17 239.0,387.62 241.0,388.07 243.0,388.52 245.0,388.96 247.0,389.40 249.0,389.83 251.0,390.26 253.0,390.68 255.0,391.10 257.0,391.52 259.0,391.93 261.0,392.34 263.0,392.74 265.0,393.14 267.0,393.54 269.0,393.94 271.0,394.33 273.0,394.71 275.0,395.10 277.0,395.48 279.0,395.85 281.0,396.23 283.0,396.60 285.0,396.96 287.0,397.33 289.0,397.69 291.0,398.05 293.0,398.40 295.0,398.75 297.0,399.10 299.0,399.45 301.0,399.79 303.0,400.13 305.0,400.46 307.0,400.80 309.0,401.13 311.0,401.46 313.0,401.78 315.0,402.11 317.0,402.43 319.0,402.75 321.0,403.06 323.0,403.37 325.0,403.68 327.0,403.99 329.0,404.30 331.0,404.60 333.0,404.90 335.0,405.20 337.0,405.49 339.0,405.79 341.0,406.08 343.0,406.36 345.0,406.65 347.0,406.93 349.0,407.22 351.0,407.50 353.0,407.77 355.0,408.05 357.0,408.32 359.0,408.59 361.0,408.86 363.0,409.13 365.0,409.39 367.0,409.65 369.0,409.91 371.0,410.17 373.0,410.43 375.0,410.68 377.0,410.94 379.0,411.19 381.0,411.43 383.0,411.68 385.0,411.93 387.0,412.17 389.0,412.41 391.0,412.65 393.0,412.89 395.0,413.12 397.0,413.36 399.0,413.59 401.0,413.82 403.0,414.05 405.0,414.27 407.0,414.50 409.0,414.72 411.0,414.94 413.0,415.16 415.0,415.38 417.0,415.60 419.0,415.81 421.0,416.03 423.0,416.24 425.0,416.45 427.0,416.66 429.0,416.86 431.0,417.07 433.0,417.27 435.0,417.48 437.0,417.68 439.0,417.88 441.0,418.08 443.0,418.27 445.0,418.47 447.0,418.66 449.0,418.85 451.0,419.04 453.0,419.23 455.0,419.42 457.0,419.61 459.0,419.79 461.0,419.98 463.0,420.16 465.0,420.34 467.0,420.52 469.0,420.70 471.0,420.88 473.0,421.05 475.0,421.23 477.0,421.40 479.0,421.57 481.0,421.74 483.0,421.91 485.0,422.08 487.0,422.25 489.0,422.41 491.0,422.58 493.0,422.74 495.0,422.90 497.0,423.06 499.0,423.22 501.0,423.38 503.0,423.54 505.0,423.69 507.0,423.85 509.0,424.00 511.0,424.16 513.0,424.31 515.0,424.46 517.0,424.61 519.0,424.76 521.0,424.90 523.0,425.05 525.0,425.19 527.0,425.34 529.0,425.48 531.0,425.62 533.0,425.76 535.0,425.90 537.0,426.04 539.0,426.18 541.0,426.32 543.0,426.45 545.0,426.59 547.0,426.72 549.0,426.86 551.0,426.99 553.0,427.12 555.0,427.25 557.0,427.38 559.0,427.51 561.0,427.63 563.0,427.76 565.0,427.89 567.0,428.01 569.0,428.13 571.0,428.26 573.0,428.38 575.0,428.50 577.0,428.62 579.0,428.74 581.0,428.86 583.0,428.97 585.0,429.09 587.0,429.21 589.0,429.32 591.0,429.43 593.0,429.55 595.0,429.66 597.0,429.77 599.0,429.88 601.0,429.99 603.0,430.10 605.0,430.21 607.0,430.32 609.0,430.42 611.0,430.53 613.0,430.64 615.0,430.74 617.0,430.84 619.0,430.95 621.0,431.05 623.0,431.15 625.0,431.25 627.0,431.35 629.0,431.45 631.0,431.55 633.0,431.65 635.0,431.74 637.0,431.84 639.0,431.94 641.0,432.03 643.0,432.12 645.0,432.22 647.0,432.31 649.0,432.40 651.0,432.50 653.0,432.59 655.0,432.68 657.0,432.77 659.0,432.86 661.0,432.94 663.0,433.03 665.0,433.12 667.0,433.20 669.0,433.29 671.0,433.38 673.0,433.46 675.0,433.54 677.0,433.63 679.0,433.71 681.0,433.79" stroke="#008000" stroke-width="2.6" fill="none" stroke-linejoin="round" />
<path d="M77,34 H681 V450 H77 Z" stroke="#000" stroke-width="3" fill="none" stroke-linejoin="miter"/>
<line x1="77.00" y1="254.00" x2="681.00" y2="254.00" stroke="#000" stroke-width="3" stroke-linecap="butt"/>
<line x1="77.00" y1="450.00" x2="77.00" y2="458.00" stroke="#000" stroke-width="2.6" stroke-linecap="butt"/>
<line x1="152.50" y1="450.00" x2="152.50" y2="454.50" stroke="#000" stroke-width="2.6" stroke-linecap="butt"/>
<line x1="152.50" y1="254.00" x2="152.50" y2="259.00" stroke="#000" stroke-width="2.6" stroke-linecap="butt"/>
<line x1="228.00" y1="450.00" x2="228.00" y2="458.00" stroke="#000" stroke-width="2.6" stroke-linecap="butt"/>
<line x1="228.00" y1="254.00" x2="228.00" y2="263.00" stroke="#000" stroke-width="2.6" stroke-linecap="butt"/>
<line x1="303.50" y1="450.00" x2="303.50" y2="454.50" stroke="#000" stroke-width="2.6" stroke-linecap="butt"/>
<line x1="303.50" y1="254.00" x2="303.50" y2="259.00" stroke="#000" stroke-width="2.6" stroke-linecap="butt"/>
<line x1="379.00" y1="450.00" x2="379.00" y2="458.00" stroke="#000" stroke-width="2.6" stroke-linecap="butt"/>
<line x1="379.00" y1="254.00" x2="379.00" y2="263.00" stroke="#000" stroke-width="2.6" stroke-linecap="butt"/>
<line x1="454.50" y1="450.00" x2="454.50" y2="454.50" stroke="#000" stroke-width="2.6" stroke-linecap="butt"/>
<line x1="454.50" y1="254.00" x2="454.50" y2="259.00" stroke="#000" stroke-width="2.6" stroke-linecap="butt"/>
<line x1="530.00" y1="450.00" x2="530.00" y2="458.00" stroke="#000" stroke-width="2.6" stroke-linecap="butt"/>
<line x1="530.00" y1="254.00" x2="530.00" y2="263.00" stroke="#000" stroke-width="2.6" stroke-linecap="butt"/>
<line x1="605.50" y1="450.00" x2="605.50" y2="454.50" stroke="#000" stroke-width="2.6" stroke-linecap="butt"/>
<line x1="605.50" y1="254.00" x2="605.50" y2="259.00" stroke="#000" stroke-width="2.6" stroke-linecap="butt"/>
<line x1="681.00" y1="450.00" x2="681.00" y2="458.00" stroke="#000" stroke-width="2.6" stroke-linecap="butt"/>
<line x1="501.70" y1="58.30" x2="549.80" y2="58.30" stroke="#FF8000" stroke-width="3" stroke-linecap="round"/>
<text x="556.18" y="66.10" font-family="Liberation Sans" font-weight="bold" font-size="20.5" fill="#000" textLength="94.68" lengthAdjust="spacingAndGlyphs">Fe/Cu = 0</text>
<line x1="501.70" y1="85.20" x2="549.80" y2="85.20" stroke="#8000FF" stroke-width="3" stroke-linecap="round"/>
<text x="556.18" y="93.00" font-family="Liberation Sans" font-weight="bold" font-size="20.5" fill="#000" textLength="94.68" lengthAdjust="spacingAndGlyphs">Fe/Cu = 1</text>
<line x1="501.70" y1="112.00" x2="549.80" y2="112.00" stroke="#000" stroke-width="3" stroke-linecap="round"/>
<text x="556.18" y="119.80" font-family="Liberation Sans" font-weight="bold" font-size="20.5" fill="#000" textLength="94.68" lengthAdjust="spacingAndGlyphs">Fe/Cu = 2</text>
<line x1="501.70" y1="138.40" x2="549.80" y2="138.40" stroke="#FF0000" stroke-width="3" stroke-linecap="round"/>
<text x="556.18" y="146.20" font-family="Liberation Sans" font-weight="bold" font-size="20.5" fill="#000" textLength="94.68" lengthAdjust="spacingAndGlyphs">Fe/Cu = 4</text>
<line x1="499.10" y1="284.40" x2="546.90" y2="284.40" stroke="#0000FF" stroke-width="3" stroke-linecap="round"/>
<text x="553.28" y="292.20" font-family="Liberation Sans" font-weight="bold" font-size="20.5" fill="#000" textLength="94.68" lengthAdjust="spacingAndGlyphs">Fe/Cu = 5</text>
<line x1="499.10" y1="311.50" x2="546.90" y2="311.50" stroke="#FF00FF" stroke-width="3" stroke-linecap="round"/>
<text x="553.28" y="319.30" font-family="Liberation Sans" font-weight="bold" font-size="20.5" fill="#000" textLength="112.33" lengthAdjust="spacingAndGlyphs">Fe/Cu = 5.5</text>
<line x1="499.10" y1="337.90" x2="546.90" y2="337.90" stroke="#008000" stroke-width="3" stroke-linecap="round"/>
<text x="553.28" y="345.70" font-family="Liberation Sans" font-weight="bold" font-size="20.5" fill="#000" textLength="94.68" lengthAdjust="spacingAndGlyphs">Fe/Cu = 6</text>
<text x="59.79" y="479.15" font-family="Liberation Sans" font-weight="bold" font-size="21.5" fill="#000" textLength="34.91" lengthAdjust="spacingAndGlyphs">400</text>
<text x="210.66" y="479.15" font-family="Liberation Sans" font-weight="bold" font-size="21.5" fill="#000" textLength="34.91" lengthAdjust="spacingAndGlyphs">500</text>
<text x="361.60" y="479.15" font-family="Liberation Sans" font-weight="bold" font-size="21.5" fill="#000" textLength="34.91" lengthAdjust="spacingAndGlyphs">600</text>
<text x="512.54" y="479.15" font-family="Liberation Sans" font-weight="bold" font-size="21.5" fill="#000" textLength="34.91" lengthAdjust="spacingAndGlyphs">700</text>
<text x="663.66" y="479.15" font-family="Liberation Sans" font-weight="bold" font-size="21.5" fill="#000" textLength="34.91" lengthAdjust="spacingAndGlyphs">800</text>
<text x="280.60" y="520.00" font-family="Liberation Sans" font-weight="bold" font-size="26.6" fill="#000" textLength="197.97" lengthAdjust="spacingAndGlyphs">Wavelength (nm)</text>
<text transform="translate(51.00,352.58) rotate(-90)" x="0" y="0" font-family="Liberation Sans" font-weight="bold" font-size="27.3" textLength="203.84" lengthAdjust="spacingAndGlyphs">Absorption (a.u.)</text>
<text x="8.23" y="43.60" font-family="Liberation Serif" font-weight="normal" font-size="37.5" fill="#000" textLength="42.84" lengthAdjust="spacingAndGlyphs">(a)</text>
<path d="M788.0,77.4 788.5,62.4 789.0,77.1 789.5,65.9 790.0,72.6 790.5,64.5 791.0,83.2 791.5,66.1 792.0,73.1 792.5,65.5 793.0,75.0 793.5,66.5 794.0,73.9 794.5,67.2 795.0,77.6 795.5,66.2 796.0,75.5 796.5,63.3 797.0,73.7 797.5,64.5 798.0,74.6 798.5,64.7 799.0,77.1 799.5,67.5 800.0,79.4 800.5,66.0 801.0,73.9 801.5,66.2 802.0,75.2 802.5,64.1 803.0,74.5 803.5,65.6 804.0,74.8 804.5,67.1 805.0,78.9 805.5,66.9 806.0,77.8 806.5,68.9 807.0,77.6 807.5,62.8 808.0,79.0 808.5,69.4 809.0,76.3 809.5,68.3 810.0,74.7 810.5,65.4 811.0,74.4 811.5,68.0 812.0,77.0 812.5,61.3 813.0,79.0 813.5,64.2 814.0,81.2 814.5,69.1 815.0,77.1 815.5,68.3 816.0,76.4 816.5,67.7 817.0,78.8 817.5,70.4 818.0,82.7 818.5,65.1 819.0,80.3 819.5,69.1 820.0,76.8 820.5,68.2 821.0,81.9 821.5,70.5 822.0,76.8 822.5,66.3 823.0,78.0 823.5,67.8 824.0,82.1 824.5,65.4 825.0,81.5 825.5,69.3 826.0,80.4 826.5,70.8 827.0,77.6 827.5,67.8 828.0,81.1 828.5,68.7 829.0,78.4 829.5,68.3 830.0,82.4 830.5,71.5 831.0,82.1 831.5,66.0 832.0,78.9 832.5,71.0 833.0,83.2 833.5,69.4 834.0,80.2 834.5,72.6 835.0,80.0 835.5,70.6 836.0,78.8 836.5,66.6 837.0,82.4 837.5,71.8 838.0,79.1 838.5,70.8 839.0,78.9 839.5,70.1 840.0,79.6 840.5,71.4 841.0,78.2 841.5,71.2 842.0,80.6 842.5,69.8 843.0,82.0 843.5,70.6 844.0,85.7 844.5,73.0 845.0,80.8 845.5,69.2 846.0,85.7 846.5,71.5 847.0,81.7 847.5,70.7 848.0,81.1 848.5,71.2 849.0,83.1 849.5,64.8 850.0,81.7 850.5,73.2 851.0,85.6 851.5,71.6 852.0,79.6 852.5,71.6 853.0,81.7 853.5,74.0 854.0,81.2 854.5,69.1 855.0,80.7 855.5,69.8 856.0,83.9 856.5,70.5 857.0,82.2 857.5,73.3 858.0,81.5 858.5,73.5 859.0,82.3 859.5,70.3 860.0,80.9 860.5,69.4 861.0,84.9 861.5,71.3 862.0,85.0 862.5,73.1 863.0,82.5 863.5,76.0 864.0,81.9 864.5,68.4 865.0,81.2 865.5,72.0 866.0,84.5 866.5,74.4 867.0,86.3 867.5,74.6 868.0,84.6 868.5,74.3 869.0,84.5 869.5,75.6 870.0,84.6 870.5,73.4 871.0,81.6 871.5,75.8 872.0,86.2 872.5,74.2 873.0,81.7 873.5,73.3 874.0,82.7 874.5,74.5 875.0,83.7 875.5,68.4 876.0,82.9 876.5,73.8 877.0,84.9 877.5,72.8 878.0,83.2 878.5,74.7 879.0,87.4 879.5,74.9 880.0,84.7 880.5,74.4 881.0,83.6 881.5,76.3 882.0,83.1 882.5,75.1 883.0,83.8 883.5,76.5 884.0,86.3 884.5,77.6 885.0,86.3 885.5,73.5 886.0,82.9 886.5,75.8 887.0,84.1 887.5,77.8 888.0,86.5 888.5,77.0 889.0,89.7 889.5,77.1 890.0,87.9 890.5,76.1 891.0,86.6 891.5,77.1 892.0,86.0 892.5,78.4 893.0,85.4 893.5,73.8 894.0,85.4 894.5,76.2 895.0,85.7 895.5,77.3 896.0,84.2 896.5,76.1 897.0,89.5 897.5,74.1 898.0,86.6 898.5,75.3 899.0,91.1 899.5,78.5 900.0,86.5 900.5,79.2 901.0,84.9 901.5,70.4 902.0,88.8 902.5,77.0 903.0,85.2 903.5,78.0 904.0,88.1 904.5,80.1 905.0,85.4 905.5,77.6 906.0,88.8 906.5,74.0 907.0,87.4 907.5,79.9 908.0,84.9 908.5,79.4 909.0,87.0 909.5,80.1 910.0,88.2 910.5,80.6 911.0,86.8 911.5,75.7 912.0,86.3 912.5,78.4 913.0,86.5 913.5,78.2 914.0,90.6 914.5,78.7 915.0,86.0 915.5,79.8 916.0,84.6 916.5,77.7 917.0,86.1 917.5,79.4 918.0,85.4 918.5,77.1 919.0,89.0 919.5,75.9 920.0,87.2 920.5,76.3 921.0,89.4 921.5,79.4 922.0,86.1 922.5,78.8 923.0,86.4 923.5,76.9 924.0,86.2 924.5,78.7 925.0,84.5 925.5,77.0 926.0,85.2 926.5,77.1 927.0,87.9 927.5,79.5 928.0,86.9 928.5,75.4 929.0,86.9 929.5,77.4 930.0,88.0 930.5,80.0 931.0,84.9 931.5,80.1 932.0,89.8 932.5,80.1 933.0,85.7 933.5,75.5 934.0,86.7 934.5,80.3 935.0,85.1 935.5,81.2 936.0,87.4 936.5,78.9 937.0,88.7 937.5,80.4 938.0,89.0 938.5,81.1 939.0,85.8 939.5,76.2 940.0,90.7 940.5,80.5 941.0,86.5 941.5,77.3 942.0,85.9 942.5,73.9 943.0,85.3 943.5,75.1 944.0,89.1 944.5,79.1 945.0,84.3 945.5,77.8 946.0,86.3 946.5,75.1 947.0,85.6 947.5,78.4 948.0,85.6 948.5,79.4 949.0,88.6 949.5,76.9 950.0,85.8 950.5,77.1 951.0,85.7 951.5,76.2 952.0,88.8 952.5,76.3 953.0,89.7 953.5,80.3 954.0,89.1 954.5,80.0 955.0,89.1 955.5,78.4 956.0,88.0 956.5,78.2 957.0,86.2 957.5,77.0 958.0,87.6 958.5,79.7 959.0,86.7 959.5,78.9 960.0,87.9 960.5,73.5 961.0,85.2 961.5,75.3 962.0,91.3 962.5,79.1 963.0,85.5 963.5,79.8 964.0,86.0 964.5,79.6 965.0,87.1 965.5,78.6 966.0,86.9 966.5,78.0 967.0,88.2 967.5,79.9 968.0,86.5 968.5,79.3 969.0,85.8 969.5,80.3 970.0,88.8 970.5,81.0 971.0,88.3 971.5,78.5 972.0,86.7 972.5,78.0 973.0,88.2 973.5,81.4 974.0,91.8 974.5,83.0 975.0,91.2 975.5,83.3 976.0,89.5 976.5,81.2 977.0,90.7 977.5,82.6 978.0,88.8 978.5,83.9 979.0,88.8 979.5,82.3 980.0,90.1 980.5,82.5 981.0,91.4 981.5,80.7 982.0,92.9 982.5,78.8 983.0,88.7 983.5,79.2 984.0,90.9 984.5,82.8 985.0,91.3 985.5,80.6 986.0,89.1 986.5,83.3 987.0,89.9 987.5,80.7 988.0,88.3 988.5,82.4 989.0,88.2 989.5,82.5 990.0,87.9 990.5,80.1 991.0,89.8 991.5,83.8 992.0,88.9 992.5,80.0 993.0,88.5 993.5,84.7 994.0,90.3 994.5,83.1 995.0,90.5 995.5,80.6 996.0,92.4 996.5,84.4 997.0,91.1 997.5,83.2 998.0,97.2 998.5,82.7 999.0,91.6 999.5,80.8 1000.0,87.0 1000.5,81.7 1001.0,89.1 1001.5,80.9 1002.0,89.0 1002.5,81.3 1003.0,89.2 1003.5,81.7 1004.0,89.8 1004.5,80.5 1005.0,86.9 1005.5,81.8 1006.0,88.1 1006.5,79.8 1007.0,86.6 1007.5,81.3 1008.0,86.7 1008.5,79.1 1009.0,86.7 1009.5,80.2 1010.0,89.7 1010.5,81.1 1011.0,88.5 1011.5,82.4 1012.0,89.8 1012.5,80.5 1013.0,89.3 1013.5,79.1 1014.0,91.9 1014.5,78.4 1015.0,85.7 1015.5,78.3 1016.0,83.8 1016.5,77.3 1017.0,86.1 1017.5,78.0 1018.0,86.5 1018.5,75.7 1019.0,81.3 1019.5,72.8 1020.0,80.0 1020.5,69.7 1021.0,74.1 1021.5,66.0 1022.0,69.1 1022.5,59.7 1023.0,60.8 1023.5,53.6 1024.0,56.4 1024.5,48.1 1025.0,55.5 1025.5,51.8 1026.0,62.2 1026.5,57.2 1027.0,71.4 1027.5,66.1 1028.0,74.2 1028.5,70.0 1029.0,78.9 1029.5,73.7 1030.0,80.9 1030.5,76.8 1031.0,83.8 1031.5,79.3 1032.0,86.8 1032.5,80.2 1033.0,90.1 1033.5,80.5 1034.0,90.9 1034.5,82.4 1035.0,88.8 1035.5,82.9 1036.0,92.3 1036.5,83.7 1037.0,89.5 1037.5,78.4 1038.0,92.9 1038.5,82.8 1039.0,90.6 1039.5,83.6 1040.0,89.6 1040.5,83.5 1041.0,90.6 1041.5,86.2 1042.0,90.4 1042.5,86.8 1043.0,91.2 1043.5,85.2 1044.0,92.2 1044.5,85.5 1045.0,94.8 1045.5,81.2 1046.0,92.5 1046.5,84.5 1047.0,91.0 1047.5,82.2 1048.0,91.0 1048.5,85.5 1049.0,91.8 1049.5,83.4 1050.0,91.2 1050.5,84.0 1051.0,90.7 1051.5,84.0 1052.0,92.2 1052.5,85.0 1053.0,97.7 1053.5,80.2 1054.0,91.8 1054.5,85.2 1055.0,90.4 1055.5,82.0 1056.0,94.5 1056.5,83.1 1057.0,91.1 1057.5,84.9 1058.0,90.6 1058.5,85.6 1059.0,91.5 1059.5,85.5 1060.0,97.8 1060.5,84.1 1061.0,90.9 1061.5,85.3 1062.0,92.3 1062.5,80.5 1063.0,92.0 1063.5,84.5 1064.0,91.2 1064.5,86.5 1065.0,91.0 1065.5,82.2 1066.0,95.3 1066.5,87.6 1067.0,91.2 1067.5,85.9 1068.0,92.9 1068.5,86.7 1069.0,91.6 1069.5,87.6 1070.0,92.8 1070.5,87.2 1071.0,92.2 1071.5,87.3 1072.0,93.6 1072.5,84.3 1073.0,94.9 1073.5,87.0 1074.0,93.3 1074.5,87.4 1075.0,93.5 1075.5,85.8 1076.0,93.5 1076.5,83.9 1077.0,93.6 1077.5,87.0 1078.0,92.5 1078.5,85.7 1079.0,93.0 1079.5,87.7 1080.0,92.5 1080.5,85.2 1081.0,91.5 1081.5,83.9 1082.0,92.4 1082.5,85.2 1083.0,93.3 1083.5,84.4 1084.0,91.9 1084.5,86.6 1085.0,94.0 1085.5,85.3 1086.0,90.7 1086.5,82.4 1087.0,94.0 1087.5,84.6 1088.0,94.9 1088.5,84.5 1089.0,90.7 1089.5,84.8 1090.0,90.2 1090.5,82.9 1091.0,88.0 1091.5,83.5 1092.0,88.4 1092.5,82.6 1093.0,87.8 1093.5,80.1 1094.0,86.7 1094.5,73.5 1095.0,82.2 1095.5,75.7 1096.0,81.9 1096.5,73.4 1097.0,82.4 1097.5,77.1 1098.0,86.9 1098.5,76.9 1099.0,84.9 1099.5,80.1 1100.0,85.9 1100.5,80.4 1101.0,87.4 1101.5,81.5 1102.0,88.6 1102.5,82.6 1103.0,92.6 1103.5,83.6 1104.0,89.9 1104.5,81.6 1105.0,95.9 1105.5,84.1 1106.0,89.4 1106.5,83.8 1107.0,91.1 1107.5,84.1 1108.0,90.7 1108.5,82.8 1109.0,88.8 1109.5,85.2 1110.0,88.8 1110.5,84.2 1111.0,90.2 1111.5,84.3 1112.0,89.9 1112.5,83.1 1113.0,91.2 1113.5,85.7 1114.0,91.1 1114.5,83.2 1115.0,92.2 1115.5,86.0 1116.0,91.9 1116.5,85.2 1117.0,94.5 1117.5,83.3 1118.0,92.9 1118.5,84.2 1119.0,93.1 1119.5,86.0 1120.0,91.8 1120.5,87.3 1121.0,94.3 1121.5,86.5 1122.0,93.3 1122.5,87.7 1123.0,94.5 1123.5,88.2 1124.0,94.1 1124.5,88.6 1125.0,93.0 1125.5,87.2 1126.0,94.0 1126.5,87.3 1127.0,95.0 1127.5,86.3 1128.0,93.4 1128.5,86.9 1129.0,92.2 1129.5,86.3 1130.0,93.1 1130.5,87.3 1131.0,92.8 1131.5,83.7 1132.0,93.5 1132.5,86.7 1133.0,95.2 1133.5,84.5 1134.0,93.6 1134.5,87.1 1135.0,93.2 1135.5,86.9 1136.0,93.2 1136.5,88.1 1137.0,96.3 1137.5,87.6 1138.0,96.7 1138.5,88.5 1139.0,95.5 1139.5,87.6 1140.0,93.5 1140.5,87.8 1141.0,91.6 1141.5,86.9 1142.0,91.7 1142.5,86.4 1143.0,97.8 1143.5,87.1 1144.0,95.6 1144.5,87.2 1145.0,95.9 1145.5,85.6 1146.0,92.8 1146.5,86.8 1147.0,92.0 1147.5,88.1 1148.0,93.4 1148.5,82.4 1149.0,94.1 1149.5,85.4 1150.0,94.7 1150.5,87.3 1151.0,92.3 1151.5,84.9 1152.0,91.8 1152.5,83.2 1153.0,95.8 1153.5,87.6 1154.0,91.8 1154.5,85.5 1155.0,92.7 1155.5,85.8 1156.0,93.3 1156.5,87.3 1157.0,93.6 1157.5,87.4 1158.0,93.7 1158.5,86.7 1159.0,91.7 1159.5,86.7 1160.0,94.5 1160.5,86.7 1161.0,92.7 1161.5,85.1 1162.0,94.1 1162.5,84.9 1163.0,92.1 1163.5,84.1 1164.0,93.1 1164.5,85.9 1165.0,96.7 1165.5,87.7 1166.0,94.5 1166.5,89.8 1167.0,93.8 1167.5,90.1 1168.0,95.8 1168.5,87.1 1169.0,96.8 1169.5,87.5 1170.0,93.6 1170.5,88.8 1171.0,95.8 1171.5,85.9 1172.0,95.0 1172.5,88.0 1173.0,96.4 1173.5,89.1 1174.0,94.8 1174.5,88.0 1175.0,93.5 1175.5,87.4 1176.0,95.8 1176.5,87.4 1177.0,95.0 1177.5,87.1 1178.0,92.6 1178.5,84.9 1179.0,92.4 1179.5,84.9 1180.0,95.4 1180.5,88.9 1181.0,93.8 1181.5,85.8 1182.0,93.2 1182.5,86.3 1183.0,94.4 1183.5,87.8 1184.0,93.6 1184.5,88.7 1185.0,95.0 1185.5,87.5 1186.0,96.2 1186.5,88.0 1187.0,96.5 1187.5,89.4 1188.0,95.4 1188.5,86.0 1189.0,93.0 1189.5,87.5 1190.0,92.9 1190.5,89.5 1191.0,95.2 1191.5,89.3 1192.0,94.2 1192.5,89.0 1193.0,96.2 1193.5,87.7 1194.0,96.3 1194.5,87.5 1195.0,93.8 1195.5,90.3 1196.0,96.6 1196.5,89.5 1197.0,95.1 1197.5,89.0 1198.0,97.9 1198.5,90.6 1199.0,95.6 1199.5,88.6 1200.0,93.7 1200.5,87.8 1201.0,93.5 1201.5,89.3 1202.0,94.5 1202.5,89.3 1203.0,100.2 1203.5,90.2 1204.0,93.6 1204.5,89.1 1205.0,95.2 1205.5,90.0 1206.0,93.9 1206.5,86.0 1207.0,94.2 1207.5,90.0 1208.0,94.6 1208.5,89.6 1209.0,93.9 1209.5,89.9 1210.0,93.7 1210.5,88.8 1211.0,95.9 1211.5,87.0 1212.0,94.8 1212.5,89.4 1213.0,96.8 1213.5,90.4 1214.0,96.2 1214.5,90.0 1215.0,95.6 1215.5,91.4 1216.0,95.8 1216.5,88.7 1217.0,99.2 1217.5,88.2 1218.0,96.6 1218.5,88.2 1219.0,96.1 1219.5,86.7 1220.0,95.3 1220.5,87.5 1221.0,94.4 1221.5,89.6 1222.0,96.1 1222.5,89.5 1223.0,94.6 1223.5,86.3 1224.0,96.2 1224.5,88.0 1225.0,94.0 1225.5,90.6 1226.0,94.9 1226.5,89.0 1227.0,96.1 1227.5,89.9 1228.0,94.1 1228.5,90.1 1229.0,95.4 1229.5,89.7 1230.0,97.0 1230.5,84.5 1231.0,96.6 1231.5,83.7 1232.0,93.5 1232.5,86.0 1233.0,93.6 1233.5,87.9 1234.0,92.8 1234.5,89.6 1235.0,94.2 1235.5,88.1 1236.0,93.1 1236.5,88.5 1237.0,96.9 1237.5,88.2 1238.0,95.6 1238.5,90.6 1239.0,94.9 1239.5,84.3 1240.0,95.0 1240.5,90.5 1241.0,96.9 1241.5,90.6 1242.0,97.0 1242.5,89.3 1243.0,95.2 1243.5,90.7 1244.0,97.4 1244.5,90.0 1245.0,96.1 1245.5,88.1 1246.0,94.5 1246.5,90.5 1247.0,95.0 1247.5,90.2 1248.0,98.4 1248.5,90.0 1249.0,94.6 1249.5,88.1 1250.0,95.5 1250.5,90.1 1251.0,96.8 1251.5,90.4 1252.0,94.2 1252.5,89.2 1253.0,97.8 1253.5,89.1 1254.0,94.8 1254.5,84.4 1255.0,94.8 1255.5,87.8 1256.0,94.7 1256.5,86.8 1257.0,96.6 1257.5,88.6 1258.0,95.1 1258.5,84.2 1259.0,96.8 1259.5,89.4 1260.0,96.1 1260.5,88.7 1261.0,95.0 1261.5,90.8 1262.0,96.0 1262.5,90.4 1263.0,96.9 1263.5,89.0 1264.0,95.6 1264.5,89.2 1265.0,96.7 1265.5,89.4 1266.0,93.8 1266.5,87.3 1267.0,94.5 1267.5,90.8 1268.0,94.3 1268.5,90.9 1269.0,97.3 1269.5,91.9 1270.0,97.5 1270.5,91.6 1271.0,96.4 1271.5,90.4 1272.0,96.8 1272.5,92.5 1273.0,98.1 1273.5,91.3 1274.0,97.4 1274.5,90.4 1275.0,98.9 1275.5,90.6 1276.0,97.2 1276.5,91.9 1277.0,97.4 1277.5,92.1 1278.0,99.7 1278.5,91.2 1279.0,96.6 1279.5,90.6 1280.0,99.4 1280.5,89.2 1281.0,96.4 1281.5,91.0 1282.0,97.7 1282.5,89.3 1283.0,96.4 1283.5,91.1 1284.0,95.6 1284.5,90.9 1285.0,95.7 1285.5,90.0 1286.0,96.2 1286.5,91.0 1287.0,99.4 1287.5,91.2 1288.0,97.5 1288.5,91.8 1289.0,96.2 1289.5,91.6 1290.0,101.3 1290.5,92.3 1291.0,97.9 1291.5,91.0 1292.0,97.4 1292.5,91.0 1293.0,96.0 1293.5,90.1 1294.0,96.8 1294.5,88.2 1295.0,95.5 1295.5,89.8 1296.0,97.5 1296.5,90.9 1297.0,95.6 1297.5,89.0 1298.0,95.9 1298.5,90.9 1299.0,94.7 1299.5,89.6 1300.0,96.0 1300.5,91.4 1301.0,95.1 1301.5,91.2 1302.0,97.5 1302.5,89.2 1303.0,96.2 1303.5,91.7 1304.0,97.4 1304.5,89.7 1305.0,96.3 1305.5,89.2 1306.0,96.2 1306.5,90.3 1307.0,95.0 1307.5,89.5 1308.0,96.1 1308.5,90.8 1309.0,96.4 1309.5,91.9 1310.0,95.6 1310.5,87.5 1311.0,96.2 1311.5,91.7 1312.0,97.4 1312.5,88.7 1313.0,96.5 1313.5,91.9 1314.0,96.1 1314.5,91.3 1315.0,97.7 1315.5,90.1 1316.0,96.2 1316.5,90.2 1317.0,97.2 1317.5,87.7 1318.0,96.7 1318.5,90.1 1319.0,97.6 1319.5,88.7 1320.0,95.7 1320.5,89.7 1321.0,96.0 1321.5,91.5 1322.0,94.9 1322.5,90.4 1323.0,100.6 1323.5,89.2 1324.0,95.5 1324.5,90.0 1325.0,94.5 1325.5,89.9 1326.0,95.7 1326.5,89.3 1327.0,95.0 1327.5,89.7 1328.0,94.9 1328.5,90.5 1329.0,95.8 1329.5,88.0 1330.0,93.5 1330.5,89.6 1331.0,92.8 1331.5,88.4 1332.0,92.3 1332.5,88.2 1333.0,91.8 1333.5,87.2 1334.0,90.4 1334.5,86.2 1335.0,90.8 1335.5,87.6 1336.0,90.7 1336.5,85.3 1337.0,90.6 1337.5,86.4 1338.0,92.6 1338.5,86.8 1339.0,93.5 1339.5,85.6 1340.0,91.6 1340.5,87.7 1341.0,91.5 1341.5,87.8 1342.0,92.6 1342.5,86.2 1343.0,93.3 1343.5,88.9 1344.0,94.0 1344.5,90.4 1345.0,97.5 1345.5,91.6 1346.0,94.9 1346.5,90.4 1347.0,94.3 1347.5,91.6 1348.0,95.4 1348.5,90.1 1349.0,96.7 1349.5,90.7 1350.0,97.2 1350.5,93.2 1351.0,96.7 1351.5,93.8 1352.0,98.6 1352.5,91.7 1353.0,97.4 1353.5,90.7 1354.0,97.1 1354.5,92.0 1355.0,98.6 1355.5,93.1 1356.0,97.6 1356.5,92.6 1357.0,101.6 1357.5,91.3 1358.0,98.9 1358.5,93.2 1359.0,97.5 1359.5,90.5 1360.0,96.9 1360.5,94.0 1361.0,96.7 1361.5,92.0 1362.0,97.3 1362.5,90.8 1363.0,97.6 1363.5,91.7 1364.0,96.7 1364.5,91.1 1365.0,100.3 1365.5,90.4 1366.0,98.5 1366.5,93.3 1367.0,99.8 1367.5,91.3 1368.0,97.1 1368.5,93.9 1369.0,97.3 1369.5,91.2 1370.0,98.2 1370.5,93.4 1371.0,96.6 1371.5,92.4 1372.0,103.4 1372.5,92.0 1373.0,100.6 1373.5,92.9 1374.0,98.2 1374.5,93.1 1375.0,99.4 1375.5,92.6 1376.0,99.0 1376.5,93.9 1377.0,99.6 1377.5,90.6 1378.0,97.9 1378.5,93.0 1379.0,96.5 1379.5,92.9 1380.0,97.1 1380.5,92.4 1381.0,97.4 1381.5,93.0 1382.0,97.6 1382.5,91.3 1383.0,96.6 1383.5,93.1 1384.0,96.6 1384.5,92.6 1385.0,97.0 1385.5,93.6 1386.0,97.3 1386.5,93.1 1387.0,97.1 1387.5,93.1 1388.0,96.3 1388.5,88.4 1389.0,97.8 1389.5,92.2 1390.0,97.0 1390.5,93.7 1391.0,98.0 1391.5,93.1 1392.0,97.6 1392.5,91.6 1393.0,99.0 1393.5,92.5 1394.0,98.7 1394.5,93.8 1395.0,98.8 1395.5,94.3 1396.0,98.3 1396.5,93.0 1397.0,99.3" stroke="#FF8000" stroke-width="1.5" fill="none" stroke-linejoin="round" />
<path d="M788.0,123.7 788.5,112.0 789.0,124.3 789.5,112.0 790.0,122.4 790.5,115.5 791.0,122.3 791.5,115.1 792.0,126.8 792.5,104.9 793.0,124.8 793.5,113.2 794.0,127.4 794.5,108.7 795.0,123.3 795.5,110.2 796.0,122.6 796.5,115.5 797.0,127.4 797.5,111.8 798.0,121.2 798.5,113.1 799.0,128.3 799.5,114.2 800.0,121.7 800.5,113.0 801.0,123.8 801.5,110.5 802.0,128.1 802.5,113.8 803.0,123.4 803.5,114.3 804.0,125.3 804.5,116.4 805.0,124.1 805.5,107.8 806.0,125.3 806.5,113.9 807.0,123.3 807.5,112.9 808.0,125.4 808.5,115.0 809.0,126.8 809.5,113.2 810.0,125.7 810.5,114.2 811.0,124.0 811.5,109.9 812.0,133.8 812.5,116.0 813.0,124.2 813.5,115.8 814.0,122.3 814.5,111.7 815.0,128.3 815.5,108.4 816.0,123.3 816.5,115.2 817.0,125.2 817.5,116.2 818.0,129.8 818.5,113.2 819.0,123.3 819.5,116.8 820.0,126.3 820.5,115.3 821.0,135.6 821.5,116.5 822.0,124.5 822.5,115.8 823.0,124.4 823.5,111.3 824.0,125.7 824.5,115.0 825.0,124.3 825.5,114.7 826.0,136.0 826.5,112.9 827.0,127.4 827.5,114.1 828.0,126.7 828.5,116.7 829.0,124.8 829.5,111.9 830.0,126.0 830.5,119.3 831.0,125.5 831.5,119.5 832.0,127.8 832.5,116.0 833.0,128.4 833.5,118.3 834.0,128.2 834.5,118.1 835.0,125.6 835.5,109.0 836.0,127.4 836.5,119.7 837.0,128.2 837.5,120.0 838.0,131.2 838.5,115.4 839.0,132.4 839.5,120.2 840.0,129.8 840.5,120.6 841.0,131.3 841.5,117.4 842.0,132.7 842.5,115.4 843.0,129.2 843.5,119.3 844.0,137.0 844.5,116.7 845.0,126.7 845.5,112.5 846.0,128.5 846.5,117.3 847.0,133.3 847.5,118.3 848.0,127.1 848.5,120.9 849.0,129.3 849.5,116.3 850.0,127.9 850.5,118.0 851.0,131.4 851.5,119.8 852.0,129.0 852.5,116.2 853.0,130.5 853.5,114.4 854.0,129.8 854.5,120.0 855.0,130.2 855.5,117.1 856.0,133.4 856.5,120.4 857.0,130.3 857.5,119.4 858.0,129.7 858.5,115.3 859.0,126.4 859.5,115.2 860.0,129.4 860.5,116.9 861.0,129.5 861.5,121.1 862.0,128.8 862.5,121.7 863.0,133.4 863.5,118.2 864.0,134.0 864.5,117.1 865.0,133.8 865.5,120.3 866.0,128.5 866.5,119.5 867.0,130.2 867.5,121.6 868.0,129.7 868.5,120.5 869.0,131.7 869.5,122.1 870.0,129.3 870.5,119.1 871.0,129.0 871.5,121.6 872.0,128.4 872.5,117.3 873.0,129.3 873.5,123.1 874.0,130.3 874.5,122.0 875.0,129.4 875.5,119.3 876.0,131.9 876.5,117.3 877.0,129.2 877.5,120.5 878.0,129.9 878.5,123.1 879.0,133.4 879.5,119.3 880.0,130.0 880.5,121.6 881.0,131.9 881.5,119.0 882.0,129.1 882.5,116.1 883.0,132.7 883.5,122.0 884.0,132.3 884.5,118.4 885.0,127.5 885.5,116.5 886.0,128.1 886.5,118.8 887.0,130.4 887.5,121.7 888.0,132.2 888.5,119.8 889.0,129.6 889.5,120.1 890.0,132.9 890.5,117.6 891.0,127.0 891.5,115.8 892.0,127.3 892.5,120.8 893.0,126.7 893.5,120.3 894.0,130.7 894.5,118.3 895.0,129.7 895.5,110.9 896.0,130.8 896.5,117.9 897.0,129.7 897.5,123.6 898.0,133.4 898.5,123.4 899.0,133.3 899.5,124.6 900.0,133.0 900.5,119.9 901.0,135.2 901.5,125.2 902.0,135.4 902.5,122.6 903.0,131.4 903.5,122.1 904.0,136.3 904.5,125.7 905.0,132.4 905.5,126.2 906.0,137.1 906.5,126.8 907.0,134.8 907.5,124.1 908.0,135.2 908.5,124.5 909.0,137.0 909.5,126.8 910.0,135.3 910.5,125.3 911.0,137.6 911.5,118.5 912.0,132.7 912.5,128.1 913.0,135.3 913.5,126.9 914.0,134.1 914.5,127.7 915.0,139.9 915.5,123.0 916.0,137.4 916.5,127.7 917.0,133.6 917.5,128.3 918.0,134.8 918.5,124.0 919.0,134.5 919.5,127.9 920.0,134.5 920.5,124.0 921.0,134.3 921.5,128.4 922.0,137.0 922.5,127.4 923.0,135.8 923.5,127.5 924.0,134.8 924.5,129.3 925.0,136.9 925.5,124.7 926.0,137.6 926.5,126.6 927.0,135.0 927.5,123.6 928.0,136.5 928.5,125.7 929.0,135.5 929.5,124.9 930.0,134.1 930.5,125.0 931.0,133.5 931.5,126.5 932.0,137.6 932.5,123.9 933.0,134.0 933.5,127.5 934.0,135.1 934.5,127.0 935.0,136.4 935.5,127.0 936.0,131.6 936.5,123.1 937.0,132.5 937.5,125.1 938.0,132.9 938.5,122.8 939.0,132.7 939.5,117.8 940.0,130.0 940.5,120.2 941.0,132.3 941.5,120.5 942.0,124.5 942.5,113.9 943.0,126.3 943.5,115.7 944.0,121.3 944.5,114.4 945.0,121.1 945.5,112.0 946.0,127.0 946.5,111.7 947.0,123.4 947.5,119.2 948.0,125.4 948.5,120.5 949.0,128.0 949.5,123.0 950.0,133.6 950.5,120.9 951.0,135.2 951.5,120.2 952.0,136.6 952.5,126.0 953.0,136.9 953.5,128.8 954.0,136.0 954.5,125.8 955.0,140.8 955.5,129.3 956.0,139.5 956.5,130.0 957.0,143.1 957.5,130.0 958.0,138.8 958.5,131.3 959.0,139.5 959.5,132.6 960.0,141.1 960.5,131.9 961.0,140.6 961.5,132.2 962.0,141.9 962.5,133.0 963.0,143.9 963.5,131.4 964.0,140.2 964.5,131.9 965.0,141.5 965.5,133.1 966.0,144.1 966.5,134.2 967.0,143.5 967.5,135.6 968.0,141.4 968.5,131.2 969.0,141.8 969.5,135.6 970.0,144.0 970.5,136.1 971.0,142.7 971.5,131.0 972.0,143.7 972.5,135.9 973.0,141.3 973.5,134.9 974.0,144.8 974.5,135.9 975.0,146.5 975.5,133.6 976.0,141.0 976.5,134.6 977.0,141.5 977.5,131.6 978.0,143.2 978.5,130.6 979.0,146.6 979.5,133.7 980.0,143.2 980.5,136.3 981.0,142.0 981.5,134.9 982.0,143.4 982.5,137.1 983.0,143.2 983.5,137.8 984.0,143.7 984.5,136.8 985.0,146.7 985.5,135.3 986.0,151.1 986.5,138.5 987.0,143.8 987.5,135.6 988.0,142.8 988.5,134.6 989.0,143.3 989.5,138.9 990.0,144.5 990.5,135.3 991.0,149.0 991.5,135.5 992.0,145.5 992.5,134.9 993.0,154.2 993.5,137.0 994.0,148.7 994.5,135.5 995.0,145.9 995.5,137.3 996.0,147.5 996.5,134.7 997.0,143.9 997.5,138.2 998.0,145.6 998.5,133.5 999.0,144.2 999.5,137.1 1000.0,145.7 1000.5,138.8 1001.0,145.9 1001.5,136.3 1002.0,146.4 1002.5,139.1 1003.0,144.0 1003.5,134.1 1004.0,149.3 1004.5,138.9 1005.0,145.9 1005.5,134.6 1006.0,147.7 1006.5,138.2 1007.0,144.8 1007.5,135.6 1008.0,145.6 1008.5,140.1 1009.0,149.2 1009.5,136.3 1010.0,145.1 1010.5,137.7 1011.0,149.9 1011.5,137.4 1012.0,150.4 1012.5,136.0 1013.0,145.1 1013.5,138.2 1014.0,148.1 1014.5,136.5 1015.0,147.9 1015.5,135.6 1016.0,143.8 1016.5,137.0 1017.0,147.3 1017.5,132.0 1018.0,145.4 1018.5,134.6 1019.0,142.4 1019.5,134.2 1020.0,140.0 1020.5,133.2 1021.0,140.7 1021.5,130.7 1022.0,136.0 1022.5,129.1 1023.0,137.0 1023.5,124.9 1024.0,130.6 1024.5,121.9 1025.0,128.9 1025.5,123.2 1026.0,134.3 1026.5,128.0 1027.0,138.5 1027.5,128.8 1028.0,138.0 1028.5,133.8 1029.0,141.5 1029.5,135.1 1030.0,142.7 1030.5,137.4 1031.0,143.8 1031.5,137.8 1032.0,145.2 1032.5,135.9 1033.0,143.5 1033.5,134.6 1034.0,145.1 1034.5,138.0 1035.0,151.1 1035.5,138.6 1036.0,148.3 1036.5,139.9 1037.0,147.4 1037.5,139.3 1038.0,146.5 1038.5,139.2 1039.0,145.6 1039.5,134.5 1040.0,146.2 1040.5,139.3 1041.0,145.7 1041.5,132.4 1042.0,145.3 1042.5,131.1 1043.0,145.5 1043.5,140.6 1044.0,146.6 1044.5,139.3 1045.0,147.8 1045.5,141.6 1046.0,149.5 1046.5,136.3 1047.0,146.1 1047.5,140.4 1048.0,147.7 1048.5,141.1 1049.0,146.9 1049.5,139.8 1050.0,152.1 1050.5,137.4 1051.0,151.0 1051.5,142.6 1052.0,149.4 1052.5,141.2 1053.0,148.4 1053.5,138.6 1054.0,152.5 1054.5,142.7 1055.0,152.1 1055.5,139.5 1056.0,149.9 1056.5,134.7 1057.0,146.8 1057.5,140.1 1058.0,148.0 1058.5,138.1 1059.0,150.6 1059.5,140.8 1060.0,147.0 1060.5,137.6 1061.0,149.2 1061.5,141.4 1062.0,150.9 1062.5,133.5 1063.0,148.1 1063.5,136.5 1064.0,147.5 1064.5,139.7 1065.0,146.6 1065.5,138.3 1066.0,147.1 1066.5,140.9 1067.0,148.9 1067.5,137.1 1068.0,147.7 1068.5,138.5 1069.0,148.4 1069.5,137.8 1070.0,153.9 1070.5,139.7 1071.0,148.6 1071.5,133.9 1072.0,150.4 1072.5,135.6 1073.0,148.1 1073.5,140.9 1074.0,145.3 1074.5,140.0 1075.0,149.9 1075.5,141.1 1076.0,149.4 1076.5,139.1 1077.0,146.6 1077.5,136.1 1078.0,150.8 1078.5,141.1 1079.0,148.6 1079.5,133.6 1080.0,149.6 1080.5,140.8 1081.0,147.2 1081.5,141.1 1082.0,149.5 1082.5,141.5 1083.0,148.3 1083.5,138.9 1084.0,147.9 1084.5,141.0 1085.0,148.5 1085.5,140.6 1086.0,148.0 1086.5,136.9 1087.0,146.3 1087.5,139.7 1088.0,146.7 1088.5,136.6 1089.0,155.1 1089.5,141.1 1090.0,147.8 1090.5,138.6 1091.0,147.0 1091.5,141.2 1092.0,146.0 1092.5,140.4 1093.0,147.0 1093.5,141.5 1094.0,147.9 1094.5,137.3 1095.0,151.1 1095.5,139.6 1096.0,148.0 1096.5,142.1 1097.0,148.3 1097.5,142.0 1098.0,148.8 1098.5,139.9 1099.0,146.9 1099.5,141.6 1100.0,149.4 1100.5,139.5 1101.0,147.7 1101.5,138.1 1102.0,150.3 1102.5,141.7 1103.0,150.9 1103.5,142.1 1104.0,147.3 1104.5,143.1 1105.0,152.7 1105.5,139.6 1106.0,152.3 1106.5,142.1 1107.0,148.6 1107.5,142.7 1108.0,148.0 1108.5,141.4 1109.0,149.5 1109.5,141.6 1110.0,149.0 1110.5,140.8 1111.0,147.9 1111.5,139.1 1112.0,148.8 1112.5,137.5 1113.0,149.2 1113.5,140.3 1114.0,146.0 1114.5,141.1 1115.0,149.7 1115.5,139.9 1116.0,150.3 1116.5,141.0 1117.0,147.0 1117.5,139.9 1118.0,145.9 1118.5,139.0 1119.0,149.9 1119.5,140.9 1120.0,148.4 1120.5,138.7 1121.0,145.8 1121.5,139.9 1122.0,151.0 1122.5,141.4 1123.0,151.7 1123.5,140.0 1124.0,151.1 1124.5,140.7 1125.0,147.9 1125.5,137.4 1126.0,149.5 1126.5,138.0 1127.0,151.2 1127.5,139.3 1128.0,146.6 1128.5,141.0 1129.0,146.8 1129.5,140.9 1130.0,148.6 1130.5,141.0 1131.0,151.0 1131.5,141.6 1132.0,150.6 1132.5,139.5 1133.0,146.4 1133.5,140.8 1134.0,148.1 1134.5,140.9 1135.0,149.0 1135.5,141.3 1136.0,146.5 1136.5,141.0 1137.0,147.2 1137.5,137.9 1138.0,149.9 1138.5,138.6 1139.0,148.2 1139.5,140.9 1140.0,149.5 1140.5,140.1 1141.0,151.0 1141.5,138.4 1142.0,149.4 1142.5,143.4 1143.0,151.4 1143.5,140.0 1144.0,150.2 1144.5,141.5 1145.0,150.2 1145.5,143.1 1146.0,149.0 1146.5,135.5 1147.0,147.8 1147.5,142.6 1148.0,150.6 1148.5,140.1 1149.0,149.4 1149.5,143.9 1150.0,150.5 1150.5,142.2 1151.0,148.6 1151.5,141.9 1152.0,149.9 1152.5,142.8 1153.0,157.6 1153.5,143.9 1154.0,148.5 1154.5,142.4 1155.0,149.6 1155.5,142.8 1156.0,151.2 1156.5,143.8 1157.0,149.0 1157.5,140.6 1158.0,152.1 1158.5,139.7 1159.0,148.0 1159.5,139.6 1160.0,146.5 1160.5,142.4 1161.0,148.4 1161.5,141.7 1162.0,147.6 1162.5,139.5 1163.0,145.3 1163.5,135.0 1164.0,148.3 1164.5,137.4 1165.0,144.8 1165.5,137.6 1166.0,144.4 1166.5,137.9 1167.0,146.2 1167.5,139.4 1168.0,146.2 1168.5,137.3 1169.0,149.6 1169.5,137.4 1170.0,146.7 1170.5,134.6 1171.0,146.0 1171.5,139.8 1172.0,148.1 1172.5,138.8 1173.0,146.3 1173.5,139.9 1174.0,146.4 1174.5,138.3 1175.0,148.9 1175.5,139.8 1176.0,147.6 1176.5,140.9 1177.0,147.3 1177.5,137.7 1178.0,147.5 1178.5,140.4 1179.0,148.3 1179.5,140.2 1180.0,150.4 1180.5,139.9 1181.0,146.4 1181.5,140.0 1182.0,153.2 1182.5,138.6 1183.0,151.1 1183.5,140.5 1184.0,147.8 1184.5,144.2 1185.0,149.5 1185.5,141.4 1186.0,152.0 1186.5,140.6 1187.0,149.2 1187.5,140.0 1188.0,151.6 1188.5,139.5 1189.0,150.3 1189.5,142.9 1190.0,150.3 1190.5,144.1 1191.0,148.9 1191.5,140.3 1192.0,152.4 1192.5,141.2 1193.0,148.9 1193.5,141.8 1194.0,151.7 1194.5,144.7 1195.0,151.6 1195.5,143.4 1196.0,153.3 1196.5,140.5 1197.0,149.5 1197.5,144.0 1198.0,149.5 1198.5,140.4 1199.0,149.2 1199.5,141.9 1200.0,149.5 1200.5,138.9 1201.0,152.5 1201.5,141.1 1202.0,147.4 1202.5,142.8 1203.0,147.2 1203.5,141.0 1204.0,151.1 1204.5,141.5 1205.0,148.8 1205.5,142.2 1206.0,149.6 1206.5,141.4 1207.0,147.7 1207.5,138.4 1208.0,146.7 1208.5,139.5 1209.0,147.2 1209.5,140.1 1210.0,146.4 1210.5,141.4 1211.0,145.6 1211.5,141.7 1212.0,148.9 1212.5,142.0 1213.0,146.5 1213.5,141.3 1214.0,149.3 1214.5,138.9 1215.0,152.8 1215.5,138.1 1216.0,148.6 1216.5,139.2 1217.0,145.2 1217.5,138.2 1218.0,146.8 1218.5,137.6 1219.0,142.8 1219.5,137.9 1220.0,143.4 1220.5,135.5 1221.0,142.5 1221.5,135.6 1222.0,143.9 1222.5,134.3 1223.0,149.4 1223.5,137.6 1224.0,150.6 1224.5,137.6 1225.0,144.0 1225.5,138.7 1226.0,148.1 1226.5,140.6 1227.0,146.2 1227.5,138.6 1228.0,146.9 1228.5,139.9 1229.0,146.7 1229.5,142.3 1230.0,148.0 1230.5,140.0 1231.0,147.1 1231.5,138.9 1232.0,148.0 1232.5,141.8 1233.0,148.8 1233.5,139.2 1234.0,148.5 1234.5,141.2 1235.0,148.3 1235.5,142.9 1236.0,149.1 1236.5,142.8 1237.0,147.6 1237.5,141.8 1238.0,149.6 1238.5,139.9 1239.0,149.9 1239.5,143.8 1240.0,147.8 1240.5,137.1 1241.0,152.8 1241.5,140.0 1242.0,152.0 1242.5,141.7 1243.0,149.5 1243.5,141.5 1244.0,151.1 1244.5,143.9 1245.0,148.2 1245.5,143.8 1246.0,148.4 1246.5,143.4 1247.0,147.4 1247.5,141.9 1248.0,151.3 1248.5,141.7 1249.0,147.6 1249.5,142.3 1250.0,148.7 1250.5,139.3 1251.0,148.1 1251.5,143.9 1252.0,148.9 1252.5,143.8 1253.0,148.5 1253.5,142.9 1254.0,149.8 1254.5,144.0 1255.0,149.9 1255.5,141.1 1256.0,150.3 1256.5,144.9 1257.0,151.8 1257.5,143.0 1258.0,151.3 1258.5,144.2 1259.0,151.2 1259.5,143.5 1260.0,149.3 1260.5,143.7 1261.0,148.0 1261.5,144.5 1262.0,147.8 1262.5,139.2 1263.0,155.4 1263.5,142.2 1264.0,149.6 1264.5,143.0 1265.0,148.9 1265.5,139.5 1266.0,149.0 1266.5,144.4 1267.0,151.0 1267.5,144.3 1268.0,150.4 1268.5,139.6 1269.0,151.7 1269.5,141.3 1270.0,150.2 1270.5,144.6 1271.0,148.9 1271.5,144.8 1272.0,150.7 1272.5,144.8 1273.0,150.8 1273.5,143.5 1274.0,153.1 1274.5,143.2 1275.0,149.3 1275.5,143.7 1276.0,152.6 1276.5,143.6 1277.0,149.5 1277.5,144.1 1278.0,148.8 1278.5,143.5 1279.0,148.8 1279.5,143.4 1280.0,152.1 1280.5,141.6 1281.0,151.0 1281.5,145.3 1282.0,153.5 1282.5,142.1 1283.0,150.4 1283.5,142.6 1284.0,151.5 1284.5,142.6 1285.0,150.6 1285.5,143.8 1286.0,150.4 1286.5,144.5 1287.0,150.4 1287.5,141.4 1288.0,150.4 1288.5,144.7 1289.0,150.1 1289.5,142.1 1290.0,150.7 1290.5,145.4 1291.0,149.9 1291.5,143.2 1292.0,154.1 1292.5,143.8 1293.0,152.1 1293.5,142.9 1294.0,149.2 1294.5,144.4 1295.0,148.4 1295.5,140.5 1296.0,152.2 1296.5,140.5 1297.0,150.9 1297.5,140.1 1298.0,148.6 1298.5,141.7 1299.0,149.8 1299.5,144.1 1300.0,148.3 1300.5,143.0 1301.0,148.7 1301.5,140.3 1302.0,148.7 1302.5,142.4 1303.0,150.9 1303.5,142.5 1304.0,151.8 1304.5,141.8 1305.0,150.6 1305.5,143.8 1306.0,152.1 1306.5,145.7 1307.0,150.5 1307.5,143.9 1308.0,152.1 1308.5,139.9 1309.0,150.7 1309.5,143.3 1310.0,149.3 1310.5,142.3 1311.0,151.4 1311.5,144.1 1312.0,150.4 1312.5,143.8 1313.0,150.1 1313.5,144.1 1314.0,148.9 1314.5,144.4 1315.0,149.6 1315.5,144.5 1316.0,149.5 1316.5,144.1 1317.0,150.1 1317.5,143.5 1318.0,149.8 1318.5,143.4 1319.0,152.3 1319.5,143.4 1320.0,150.8 1320.5,145.4 1321.0,151.3 1321.5,141.7 1322.0,153.5 1322.5,143.3 1323.0,150.9 1323.5,144.6 1324.0,150.4 1324.5,145.3 1325.0,150.7 1325.5,143.3 1326.0,151.2 1326.5,146.0 1327.0,150.7 1327.5,146.0 1328.0,150.3 1328.5,143.8 1329.0,152.8 1329.5,142.2 1330.0,151.3 1330.5,144.4 1331.0,150.5 1331.5,143.4 1332.0,152.0 1332.5,142.0 1333.0,148.2 1333.5,142.9 1334.0,148.5 1334.5,140.6 1335.0,150.6 1335.5,136.8 1336.0,148.7 1336.5,140.4 1337.0,148.9 1337.5,145.2 1338.0,150.2 1338.5,145.0 1339.0,151.1 1339.5,144.7 1340.0,149.6 1340.5,142.6 1341.0,152.3 1341.5,145.3 1342.0,149.7 1342.5,140.7 1343.0,149.8 1343.5,143.4 1344.0,149.4 1344.5,143.5 1345.0,151.4 1345.5,143.9 1346.0,152.4 1346.5,142.3 1347.0,151.6 1347.5,144.9 1348.0,151.1 1348.5,145.4 1349.0,149.5 1349.5,143.4 1350.0,156.0 1350.5,145.1 1351.0,150.7 1351.5,145.6 1352.0,149.1 1352.5,142.9 1353.0,151.2 1353.5,143.3 1354.0,157.2 1354.5,141.7 1355.0,152.4 1355.5,145.5 1356.0,149.9 1356.5,145.0 1357.0,149.7 1357.5,146.5 1358.0,150.9 1358.5,144.6 1359.0,151.3 1359.5,143.4 1360.0,151.9 1360.5,145.7 1361.0,150.3 1361.5,145.5 1362.0,150.0 1362.5,141.7 1363.0,150.4 1363.5,146.3 1364.0,152.0 1364.5,143.2 1365.0,153.9 1365.5,143.5 1366.0,149.4 1366.5,143.7 1367.0,152.1 1367.5,144.1 1368.0,153.5 1368.5,142.4 1369.0,149.6 1369.5,145.2 1370.0,149.5 1370.5,142.3 1371.0,153.0 1371.5,145.7 1372.0,150.6 1372.5,145.2 1373.0,151.2 1373.5,146.7 1374.0,150.3 1374.5,146.4 1375.0,150.8 1375.5,144.1 1376.0,154.4 1376.5,146.8 1377.0,154.4 1377.5,147.1 1378.0,151.7 1378.5,147.0 1379.0,151.8 1379.5,144.8 1380.0,154.4 1380.5,144.5 1381.0,152.6 1381.5,145.1 1382.0,150.9 1382.5,144.5 1383.0,152.1 1383.5,145.8 1384.0,150.2 1384.5,144.7 1385.0,151.2 1385.5,143.0 1386.0,151.5 1386.5,146.4 1387.0,150.5 1387.5,145.8 1388.0,151.0 1388.5,143.6 1389.0,150.2 1389.5,142.6 1390.0,151.0 1390.5,143.6 1391.0,149.4 1391.5,145.3 1392.0,151.4 1392.5,144.7 1393.0,151.1 1393.5,145.3 1394.0,150.5 1394.5,143.8 1395.0,150.6 1395.5,143.8 1396.0,151.5 1396.5,144.8 1397.0,151.4" stroke="#000" stroke-width="1.5" fill="none" stroke-linejoin="round" />
<path d="M788.0,183.0 788.5,169.4 789.0,179.2 789.5,166.3 790.0,182.6 790.5,169.4 791.0,179.5 791.5,171.3 792.0,180.0 792.5,172.2 793.0,185.4 793.5,169.4 794.0,179.9 794.5,166.6 795.0,181.0 795.5,171.0 796.0,182.2 796.5,170.2 797.0,180.6 797.5,172.2 798.0,181.8 798.5,172.4 799.0,186.6 799.5,170.8 800.0,185.7 800.5,173.2 801.0,183.1 801.5,174.4 802.0,181.5 802.5,174.5 803.0,181.5 803.5,172.6 804.0,182.6 804.5,174.0 805.0,181.4 805.5,173.8 806.0,182.4 806.5,163.6 807.0,179.4 807.5,172.8 808.0,179.8 808.5,165.2 809.0,185.2 809.5,171.6 810.0,180.5 810.5,171.1 811.0,179.1 811.5,170.0 812.0,181.2 812.5,170.9 813.0,181.3 813.5,170.1 814.0,182.5 814.5,172.0 815.0,178.4 815.5,171.1 816.0,183.5 816.5,171.9 817.0,181.7 817.5,171.7 818.0,191.7 818.5,167.9 819.0,183.1 819.5,168.7 820.0,180.7 820.5,173.9 821.0,186.7 821.5,172.4 822.0,185.9 822.5,176.1 823.0,186.6 823.5,171.3 824.0,183.1 824.5,174.2 825.0,184.7 825.5,170.0 826.0,191.9 826.5,175.1 827.0,185.4 827.5,167.5 828.0,182.1 828.5,175.1 829.0,181.2 829.5,171.6 830.0,182.6 830.5,172.8 831.0,182.1 831.5,172.3 832.0,184.9 832.5,173.8 833.0,183.9 833.5,174.5 834.0,181.6 834.5,171.5 835.0,185.0 835.5,170.7 836.0,184.9 836.5,170.2 837.0,181.0 837.5,175.5 838.0,181.3 838.5,164.2 839.0,186.3 839.5,170.4 840.0,183.0 840.5,176.1 841.0,188.1 841.5,172.4 842.0,183.8 842.5,172.3 843.0,183.7 843.5,175.4 844.0,182.1 844.5,172.3 845.0,185.5 845.5,170.5 846.0,185.2 846.5,176.2 847.0,184.3 847.5,175.1 848.0,187.9 848.5,173.0 849.0,182.7 849.5,176.2 850.0,184.9 850.5,175.2 851.0,182.3 851.5,171.6 852.0,182.3 852.5,173.1 853.0,181.8 853.5,171.3 854.0,183.6 854.5,174.5 855.0,187.9 855.5,175.3 856.0,183.9 856.5,175.2 857.0,191.3 857.5,175.6 858.0,185.8 858.5,176.1 859.0,183.0 859.5,176.0 860.0,185.7 860.5,171.7 861.0,184.3 861.5,176.2 862.0,185.2 862.5,172.7 863.0,187.3 863.5,171.9 864.0,189.2 864.5,173.8 865.0,184.6 865.5,176.1 866.0,188.4 866.5,174.8 867.0,187.1 867.5,177.4 868.0,184.7 868.5,175.5 869.0,183.4 869.5,176.5 870.0,184.5 870.5,174.5 871.0,186.7 871.5,176.0 872.0,183.0 872.5,176.6 873.0,188.1 873.5,176.4 874.0,183.9 874.5,175.7 875.0,183.7 875.5,175.2 876.0,183.6 876.5,177.8 877.0,184.6 877.5,177.3 878.0,183.9 878.5,177.1 879.0,184.7 879.5,176.9 880.0,187.2 880.5,174.9 881.0,185.9 881.5,174.6 882.0,183.5 882.5,175.2 883.0,183.5 883.5,174.3 884.0,183.4 884.5,174.1 885.0,182.2 885.5,176.7 886.0,184.3 886.5,174.7 887.0,181.8 887.5,173.1 888.0,181.7 888.5,175.3 889.0,181.2 889.5,174.6 890.0,184.8 890.5,175.5 891.0,186.6 891.5,175.4 892.0,187.3 892.5,175.6 893.0,189.3 893.5,176.8 894.0,184.8 894.5,173.0 895.0,190.2 895.5,179.4 896.0,185.4 896.5,179.3 897.0,189.4 897.5,176.2 898.0,189.4 898.5,178.7 899.0,189.7 899.5,177.3 900.0,189.6 900.5,173.2 901.0,191.8 901.5,176.5 902.0,192.1 902.5,180.3 903.0,188.9 903.5,183.1 904.0,189.1 904.5,182.6 905.0,195.9 905.5,183.2 906.0,190.5 906.5,179.5 907.0,189.2 907.5,183.1 908.0,194.3 908.5,183.2 909.0,191.0 909.5,181.5 910.0,188.6 910.5,179.9 911.0,188.4 911.5,182.0 912.0,190.1 912.5,181.3 913.0,191.0 913.5,180.7 914.0,190.1 914.5,177.9 915.0,192.5 915.5,179.0 916.0,188.9 916.5,176.7 917.0,192.9 917.5,180.3 918.0,187.9 918.5,180.6 919.0,191.7 919.5,181.7 920.0,188.3 920.5,178.6 921.0,189.4 921.5,182.1 922.0,189.2 922.5,182.3 923.0,193.0 923.5,177.6 924.0,189.7 924.5,184.2 925.0,190.3 925.5,184.1 926.0,189.3 926.5,183.8 927.0,191.5 927.5,183.5 928.0,190.6 928.5,181.9 929.0,193.5 929.5,184.2 930.0,198.3 930.5,181.0 931.0,194.7 931.5,182.3 932.0,190.4 932.5,184.3 933.0,191.3 933.5,181.0 934.0,190.8 934.5,178.6 935.0,187.8 935.5,181.3 936.0,191.9 936.5,178.9 937.0,190.8 937.5,175.8 938.0,188.6 938.5,174.0 939.0,185.9 939.5,176.4 940.0,182.6 940.5,174.6 941.0,183.2 941.5,173.8 942.0,177.7 942.5,166.8 943.0,178.7 943.5,166.1 944.0,173.5 944.5,162.9 945.0,173.6 945.5,162.4 946.0,170.3 946.5,166.1 947.0,173.4 947.5,169.0 948.0,180.4 948.5,171.3 949.0,180.0 949.5,176.8 950.0,186.7 950.5,178.8 951.0,186.7 951.5,179.9 952.0,189.2 952.5,182.3 953.0,189.9 953.5,185.4 954.0,196.2 954.5,185.5 955.0,191.4 955.5,185.0 956.0,192.7 956.5,181.4 957.0,195.5 957.5,187.2 958.0,191.6 958.5,185.6 959.0,192.6 959.5,182.9 960.0,193.8 960.5,185.3 961.0,194.9 961.5,188.8 962.0,194.6 962.5,185.8 963.0,196.7 963.5,186.0 964.0,194.1 964.5,186.1 965.0,194.8 965.5,189.3 966.0,194.8 966.5,184.8 967.0,195.7 967.5,187.8 968.0,196.1 968.5,182.6 969.0,195.3 969.5,188.1 970.0,196.5 970.5,190.2 971.0,196.0 971.5,185.6 972.0,195.7 972.5,188.6 973.0,197.6 973.5,189.1 974.0,196.4 974.5,190.9 975.0,198.9 975.5,190.9 976.0,198.5 976.5,186.1 977.0,195.9 977.5,186.1 978.0,197.4 978.5,190.3 979.0,197.1 979.5,191.3 980.0,197.0 980.5,191.4 981.0,200.9 981.5,190.7 982.0,198.6 982.5,191.2 983.0,197.3 983.5,190.2 984.0,197.1 984.5,189.6 985.0,197.8 985.5,186.6 986.0,196.8 986.5,189.9 987.0,196.3 987.5,191.8 988.0,199.7 988.5,190.1 989.0,196.4 989.5,190.6 990.0,197.5 990.5,188.5 991.0,200.2 991.5,192.8 992.0,197.5 992.5,190.6 993.0,197.7 993.5,191.6 994.0,197.2 994.5,190.2 995.0,198.3 995.5,191.7 996.0,196.6 996.5,190.6 997.0,196.0 997.5,189.5 998.0,200.9 998.5,191.5 999.0,199.8 999.5,190.9 1000.0,201.1 1000.5,190.8 1001.0,200.2 1001.5,189.0 1002.0,198.8 1002.5,188.6 1003.0,196.2 1003.5,190.3 1004.0,197.4 1004.5,189.0 1005.0,199.6 1005.5,189.3 1006.0,198.0 1006.5,192.5 1007.0,198.3 1007.5,192.2 1008.0,200.6 1008.5,190.9 1009.0,197.8 1009.5,191.0 1010.0,198.0 1010.5,193.7 1011.0,199.2 1011.5,193.1 1012.0,200.5 1012.5,191.0 1013.0,199.1 1013.5,191.1 1014.0,197.7 1014.5,191.2 1015.0,203.5 1015.5,189.2 1016.0,199.9 1016.5,188.9 1017.0,196.7 1017.5,191.5 1018.0,196.6 1018.5,186.4 1019.0,199.1 1019.5,189.4 1020.0,200.6 1020.5,188.9 1021.0,192.6 1021.5,184.4 1022.0,191.4 1022.5,182.0 1023.0,189.0 1023.5,180.4 1024.0,186.7 1024.5,179.4 1025.0,186.5 1025.5,182.3 1026.0,189.0 1026.5,184.8 1027.0,192.2 1027.5,184.8 1028.0,197.1 1028.5,186.8 1029.0,197.2 1029.5,188.7 1030.0,197.8 1030.5,189.5 1031.0,196.2 1031.5,189.7 1032.0,198.2 1032.5,189.4 1033.0,198.1 1033.5,192.5 1034.0,197.4 1034.5,189.3 1035.0,201.8 1035.5,188.0 1036.0,202.0 1036.5,189.1 1037.0,201.7 1037.5,192.0 1038.0,198.3 1038.5,184.3 1039.0,199.8 1039.5,192.5 1040.0,199.4 1040.5,188.9 1041.0,199.4 1041.5,192.7 1042.0,202.2 1042.5,188.7 1043.0,199.3 1043.5,193.3 1044.0,198.6 1044.5,193.0 1045.0,203.5 1045.5,193.9 1046.0,202.8 1046.5,192.0 1047.0,200.3 1047.5,194.9 1048.0,201.6 1048.5,192.5 1049.0,201.0 1049.5,192.6 1050.0,199.1 1050.5,192.9 1051.0,199.0 1051.5,186.8 1052.0,198.4 1052.5,193.1 1053.0,198.0 1053.5,190.2 1054.0,200.1 1054.5,190.7 1055.0,200.0 1055.5,192.5 1056.0,204.3 1056.5,193.5 1057.0,200.4 1057.5,194.1 1058.0,200.2 1058.5,195.6 1059.0,204.2 1059.5,192.8 1060.0,200.0 1060.5,195.8 1061.0,203.9 1061.5,195.4 1062.0,204.3 1062.5,193.8 1063.0,201.4 1063.5,194.9 1064.0,202.8 1064.5,194.2 1065.0,202.4 1065.5,194.7 1066.0,200.8 1066.5,190.4 1067.0,199.5 1067.5,192.5 1068.0,198.0 1068.5,192.0 1069.0,199.7 1069.5,192.9 1070.0,201.2 1070.5,195.2 1071.0,200.0 1071.5,191.7 1072.0,199.3 1072.5,195.3 1073.0,200.9 1073.5,193.4 1074.0,198.7 1074.5,193.7 1075.0,198.6 1075.5,193.8 1076.0,199.3 1076.5,193.9 1077.0,203.4 1077.5,192.9 1078.0,201.9 1078.5,193.0 1079.0,201.4 1079.5,191.8 1080.0,201.1 1080.5,191.3 1081.0,201.8 1081.5,191.6 1082.0,200.0 1082.5,193.7 1083.0,203.9 1083.5,192.8 1084.0,201.4 1084.5,194.0 1085.0,199.4 1085.5,192.7 1086.0,201.4 1086.5,193.0 1087.0,205.1 1087.5,194.4 1088.0,201.9 1088.5,194.0 1089.0,204.5 1089.5,193.4 1090.0,201.6 1090.5,195.5 1091.0,201.5 1091.5,192.9 1092.0,203.0 1092.5,194.4 1093.0,204.4 1093.5,192.6 1094.0,200.9 1094.5,191.5 1095.0,202.0 1095.5,194.5 1096.0,201.4 1096.5,192.7 1097.0,202.3 1097.5,188.2 1098.0,199.5 1098.5,193.7 1099.0,202.1 1099.5,195.5 1100.0,200.8 1100.5,194.4 1101.0,201.2 1101.5,193.4 1102.0,202.3 1102.5,196.3 1103.0,204.5 1103.5,192.8 1104.0,200.9 1104.5,195.3 1105.0,201.3 1105.5,193.4 1106.0,201.7 1106.5,195.6 1107.0,200.2 1107.5,194.8 1108.0,202.5 1108.5,194.9 1109.0,206.7 1109.5,192.4 1110.0,203.7 1110.5,194.0 1111.0,201.0 1111.5,196.6 1112.0,202.0 1112.5,191.8 1113.0,201.5 1113.5,194.0 1114.0,201.1 1114.5,194.2 1115.0,200.2 1115.5,191.7 1116.0,201.1 1116.5,191.9 1117.0,202.7 1117.5,196.2 1118.0,201.2 1118.5,192.0 1119.0,204.4 1119.5,195.5 1120.0,200.7 1120.5,193.4 1121.0,200.9 1121.5,194.6 1122.0,200.7 1122.5,191.9 1123.0,203.5 1123.5,195.3 1124.0,203.6 1124.5,194.2 1125.0,204.7 1125.5,195.1 1126.0,200.3 1126.5,191.8 1127.0,200.5 1127.5,192.0 1128.0,202.2 1128.5,192.6 1129.0,203.9 1129.5,194.7 1130.0,201.2 1130.5,191.6 1131.0,203.4 1131.5,194.5 1132.0,199.1 1132.5,190.6 1133.0,198.7 1133.5,194.3 1134.0,200.1 1134.5,192.9 1135.0,200.6 1135.5,194.0 1136.0,201.6 1136.5,193.7 1137.0,199.3 1137.5,195.7 1138.0,199.8 1138.5,196.2 1139.0,203.0 1139.5,196.0 1140.0,201.0 1140.5,195.5 1141.0,201.2 1141.5,196.1 1142.0,202.0 1142.5,195.2 1143.0,202.9 1143.5,194.5 1144.0,202.3 1144.5,196.5 1145.0,202.8 1145.5,195.9 1146.0,202.6 1146.5,196.4 1147.0,203.7 1147.5,193.0 1148.0,205.0 1148.5,195.8 1149.0,200.4 1149.5,196.4 1150.0,201.7 1150.5,194.2 1151.0,204.6 1151.5,193.6 1152.0,200.6 1152.5,192.2 1153.0,205.1 1153.5,195.1 1154.0,204.3 1154.5,195.7 1155.0,202.7 1155.5,194.4 1156.0,200.4 1156.5,191.3 1157.0,201.2 1157.5,190.4 1158.0,198.8 1158.5,193.2 1159.0,205.7 1159.5,192.9 1160.0,200.0 1160.5,189.6 1161.0,196.8 1161.5,191.7 1162.0,199.1 1162.5,189.2 1163.0,197.6 1163.5,185.9 1164.0,193.0 1164.5,187.2 1165.0,192.8 1165.5,186.1 1166.0,200.0 1166.5,188.3 1167.0,200.1 1167.5,189.5 1168.0,195.4 1168.5,191.1 1169.0,195.9 1169.5,192.1 1170.0,198.6 1170.5,192.5 1171.0,198.4 1171.5,192.7 1172.0,199.8 1172.5,193.2 1173.0,197.9 1173.5,189.8 1174.0,200.1 1174.5,193.3 1175.0,201.3 1175.5,193.8 1176.0,200.6 1176.5,194.2 1177.0,204.1 1177.5,191.8 1178.0,202.9 1178.5,194.8 1179.0,200.6 1179.5,192.9 1180.0,200.5 1180.5,195.1 1181.0,201.1 1181.5,194.4 1182.0,203.0 1182.5,194.7 1183.0,200.2 1183.5,196.0 1184.0,200.7 1184.5,194.2 1185.0,201.9 1185.5,197.0 1186.0,201.8 1186.5,194.3 1187.0,204.1 1187.5,192.5 1188.0,205.2 1188.5,194.6 1189.0,205.2 1189.5,194.8 1190.0,203.9 1190.5,197.1 1191.0,205.7 1191.5,195.6 1192.0,204.8 1192.5,197.8 1193.0,206.0 1193.5,192.1 1194.0,202.4 1194.5,196.8 1195.0,204.0 1195.5,196.5 1196.0,203.2 1196.5,197.7 1197.0,202.8 1197.5,195.6 1198.0,203.5 1198.5,194.7 1199.0,202.7 1199.5,194.8 1200.0,206.1 1200.5,192.7 1201.0,200.4 1201.5,191.3 1202.0,201.9 1202.5,194.0 1203.0,201.7 1203.5,191.8 1204.0,202.1 1204.5,196.8 1205.0,200.6 1205.5,193.3 1206.0,201.7 1206.5,194.9 1207.0,202.3 1207.5,196.0 1208.0,200.2 1208.5,195.7 1209.0,205.0 1209.5,198.0 1210.0,205.9 1210.5,195.0 1211.0,205.7 1211.5,193.3 1212.0,200.9 1212.5,194.9 1213.0,202.8 1213.5,195.3 1214.0,200.4 1214.5,195.6 1215.0,202.6 1215.5,190.9 1216.0,199.6 1216.5,190.2 1217.0,200.3 1217.5,192.2 1218.0,198.3 1218.5,187.9 1219.0,194.4 1219.5,188.0 1220.0,195.1 1220.5,189.2 1221.0,197.5 1221.5,187.4 1222.0,195.0 1222.5,185.3 1223.0,194.9 1223.5,189.7 1224.0,199.5 1224.5,191.8 1225.0,198.6 1225.5,192.6 1226.0,201.6 1226.5,192.0 1227.0,198.1 1227.5,194.2 1228.0,198.5 1228.5,190.5 1229.0,200.9 1229.5,195.1 1230.0,200.3 1230.5,194.0 1231.0,204.5 1231.5,195.4 1232.0,202.3 1232.5,196.5 1233.0,203.3 1233.5,196.3 1234.0,200.7 1234.5,197.0 1235.0,201.8 1235.5,196.2 1236.0,202.9 1236.5,195.0 1237.0,204.8 1237.5,195.5 1238.0,204.3 1238.5,194.1 1239.0,202.0 1239.5,195.7 1240.0,201.5 1240.5,195.7 1241.0,200.6 1241.5,196.3 1242.0,201.7 1242.5,195.5 1243.0,203.3 1243.5,192.9 1244.0,202.8 1244.5,194.7 1245.0,203.9 1245.5,196.5 1246.0,205.0 1246.5,194.0 1247.0,202.0 1247.5,197.6 1248.0,203.0 1248.5,194.3 1249.0,202.9 1249.5,196.8 1250.0,203.8 1250.5,195.3 1251.0,203.8 1251.5,195.1 1252.0,202.7 1252.5,194.7 1253.0,203.3 1253.5,195.6 1254.0,201.2 1254.5,193.4 1255.0,203.1 1255.5,196.2 1256.0,203.8 1256.5,196.7 1257.0,203.5 1257.5,196.1 1258.0,202.2 1258.5,196.5 1259.0,201.8 1259.5,195.7 1260.0,202.9 1260.5,197.3 1261.0,202.5 1261.5,196.8 1262.0,206.0 1262.5,196.8 1263.0,202.8 1263.5,197.8 1264.0,202.3 1264.5,196.5 1265.0,204.3 1265.5,195.4 1266.0,204.8 1266.5,196.5 1267.0,202.6 1267.5,196.0 1268.0,207.0 1268.5,197.9 1269.0,203.3 1269.5,195.4 1270.0,202.8 1270.5,197.4 1271.0,205.4 1271.5,193.9 1272.0,204.1 1272.5,190.7 1273.0,203.6 1273.5,198.1 1274.0,202.9 1274.5,197.4 1275.0,205.2 1275.5,198.5 1276.0,203.7 1276.5,197.7 1277.0,206.4 1277.5,195.8 1278.0,205.0 1278.5,197.9 1279.0,203.4 1279.5,199.5 1280.0,204.0 1280.5,198.1 1281.0,204.7 1281.5,198.8 1282.0,207.7 1282.5,195.3 1283.0,202.7 1283.5,199.2 1284.0,206.2 1284.5,198.5 1285.0,204.8 1285.5,198.3 1286.0,203.7 1286.5,199.2 1287.0,204.6 1287.5,196.5 1288.0,204.0 1288.5,200.2 1289.0,205.1 1289.5,199.0 1290.0,205.7 1290.5,198.0 1291.0,207.6 1291.5,198.5 1292.0,205.8 1292.5,198.5 1293.0,209.7 1293.5,199.7 1294.0,207.5 1294.5,199.2 1295.0,203.3 1295.5,195.9 1296.0,205.0 1296.5,199.3 1297.0,204.6 1297.5,192.3 1298.0,203.8 1298.5,198.8 1299.0,205.0 1299.5,199.5 1300.0,204.5 1300.5,196.6 1301.0,205.8 1301.5,198.1 1302.0,203.3 1302.5,199.6 1303.0,204.8 1303.5,197.9 1304.0,204.4 1304.5,199.2 1305.0,205.2 1305.5,197.5 1306.0,203.6 1306.5,198.6 1307.0,203.4 1307.5,199.3 1308.0,203.8 1308.5,193.6 1309.0,202.6 1309.5,197.1 1310.0,206.4 1310.5,197.6 1311.0,203.6 1311.5,196.0 1312.0,203.1 1312.5,196.2 1313.0,202.1 1313.5,197.9 1314.0,205.6 1314.5,196.4 1315.0,203.7 1315.5,198.4 1316.0,202.1 1316.5,197.3 1317.0,203.8 1317.5,197.2 1318.0,204.6 1318.5,196.8 1319.0,204.7 1319.5,198.2 1320.0,204.9 1320.5,198.9 1321.0,202.9 1321.5,195.7 1322.0,204.5 1322.5,197.6 1323.0,204.7 1323.5,196.9 1324.0,203.6 1324.5,197.2 1325.0,202.4 1325.5,197.5 1326.0,203.5 1326.5,196.4 1327.0,205.0 1327.5,196.5 1328.0,204.5 1328.5,198.2 1329.0,206.9 1329.5,199.1 1330.0,203.2 1330.5,199.4 1331.0,202.5 1331.5,195.4 1332.0,205.2 1332.5,196.7 1333.0,204.0 1333.5,196.7 1334.0,203.5 1334.5,195.7 1335.0,203.6 1335.5,196.7 1336.0,202.8 1336.5,197.8 1337.0,206.3 1337.5,197.2 1338.0,202.2 1338.5,197.3 1339.0,204.6 1339.5,196.9 1340.0,202.9 1340.5,195.6 1341.0,203.8 1341.5,194.0 1342.0,206.2 1342.5,197.8 1343.0,202.8 1343.5,198.3 1344.0,202.7 1344.5,194.7 1345.0,203.9 1345.5,195.2 1346.0,203.4 1346.5,195.9 1347.0,202.3 1347.5,196.5 1348.0,201.5 1348.5,195.7 1349.0,202.4 1349.5,197.4 1350.0,207.1 1350.5,198.1 1351.0,202.2 1351.5,197.4 1352.0,202.6 1352.5,197.0 1353.0,204.5 1353.5,197.7 1354.0,205.5 1354.5,196.2 1355.0,203.9 1355.5,198.9 1356.0,208.5 1356.5,199.3 1357.0,205.7 1357.5,193.3 1358.0,206.1 1358.5,198.1 1359.0,202.9 1359.5,198.7 1360.0,205.1 1360.5,197.5 1361.0,203.9 1361.5,198.3 1362.0,203.5 1362.5,198.1 1363.0,204.0 1363.5,196.8 1364.0,207.5 1364.5,196.9 1365.0,206.6 1365.5,200.0 1366.0,209.0 1366.5,197.2 1367.0,206.3 1367.5,197.8 1368.0,203.2 1368.5,199.3 1369.0,206.5 1369.5,199.8 1370.0,207.3 1370.5,199.8 1371.0,207.2 1371.5,196.6 1372.0,204.4 1372.5,199.9 1373.0,204.6 1373.5,198.9 1374.0,205.0 1374.5,200.4 1375.0,204.0 1375.5,200.4 1376.0,207.3 1376.5,198.5 1377.0,206.1 1377.5,198.6 1378.0,206.2 1378.5,199.4 1379.0,203.9 1379.5,199.2 1380.0,207.4 1380.5,197.8 1381.0,203.4 1381.5,199.1 1382.0,204.4 1382.5,198.0 1383.0,206.3 1383.5,198.8 1384.0,202.7 1384.5,197.8 1385.0,203.2 1385.5,200.0 1386.0,203.8 1386.5,200.4 1387.0,206.8 1387.5,198.9 1388.0,207.6 1388.5,200.8 1389.0,206.4 1389.5,199.6 1390.0,205.4 1390.5,197.9 1391.0,211.3 1391.5,201.6 1392.0,206.3 1392.5,201.2 1393.0,204.8 1393.5,201.5 1394.0,207.5 1394.5,200.7 1395.0,207.3 1395.5,199.4 1396.0,204.9 1396.5,200.8 1397.0,206.7" stroke="#FF0000" stroke-width="1.5" fill="none" stroke-linejoin="round" />
<path d="M788.0,237.1 788.5,230.3 789.0,239.0 789.5,227.9 790.0,237.6 790.5,229.7 791.0,238.7 791.5,228.3 792.0,237.4 792.5,228.5 793.0,236.4 793.5,229.0 794.0,238.9 794.5,229.4 795.0,238.5 795.5,225.0 796.0,238.0 796.5,231.0 797.0,239.1 797.5,229.7 798.0,238.7 798.5,230.9 799.0,241.4 799.5,229.1 800.0,236.4 800.5,227.7 801.0,237.0 801.5,231.8 802.0,239.2 802.5,231.2 803.0,239.9 803.5,225.8 804.0,240.4 804.5,228.8 805.0,239.1 805.5,229.8 806.0,239.4 806.5,234.1 807.0,241.5 807.5,233.4 808.0,239.0 808.5,230.6 809.0,239.2 809.5,232.1 810.0,239.3 810.5,229.5 811.0,240.5 811.5,230.0 812.0,243.6 812.5,232.5 813.0,242.3 813.5,232.6 814.0,243.2 814.5,230.3 815.0,238.9 815.5,228.7 816.0,239.3 816.5,231.7 817.0,238.3 817.5,233.8 818.0,243.6 818.5,231.8 819.0,240.2 819.5,230.3 820.0,238.1 820.5,232.6 821.0,239.7 821.5,233.2 822.0,238.7 822.5,229.4 823.0,240.7 823.5,232.3 824.0,240.1 824.5,229.8 825.0,239.5 825.5,231.4 826.0,243.8 826.5,231.7 827.0,239.7 827.5,234.0 828.0,238.2 828.5,232.8 829.0,241.6 829.5,230.0 830.0,242.6 830.5,231.9 831.0,241.6 831.5,229.9 832.0,239.2 832.5,229.9 833.0,240.1 833.5,230.8 834.0,241.6 834.5,231.2 835.0,237.8 835.5,229.2 836.0,238.7 836.5,233.5 837.0,243.3 837.5,230.0 838.0,241.0 838.5,232.3 839.0,240.9 839.5,231.5 840.0,239.0 840.5,231.1 841.0,238.6 841.5,232.7 842.0,242.8 842.5,232.7 843.0,238.9 843.5,233.1 844.0,243.9 844.5,232.9 845.0,243.7 845.5,230.2 846.0,239.3 846.5,227.3 847.0,239.6 847.5,229.4 848.0,242.9 848.5,231.9 849.0,243.2 849.5,234.7 850.0,238.8 850.5,233.2 851.0,243.8 851.5,224.7 852.0,240.1 852.5,230.9 853.0,243.1 853.5,233.7 854.0,240.0 854.5,235.1 855.0,243.5 855.5,231.5 856.0,244.1 856.5,234.8 857.0,243.2 857.5,233.8 858.0,245.6 858.5,234.0 859.0,242.4 859.5,235.3 860.0,239.8 860.5,233.9 861.0,245.0 861.5,231.3 862.0,240.3 862.5,227.1 863.0,240.9 863.5,231.3 864.0,242.0 864.5,235.4 865.0,241.0 865.5,232.1 866.0,242.8 866.5,235.9 867.0,245.0 867.5,232.2 868.0,241.2 868.5,235.6 869.0,240.8 869.5,232.7 870.0,241.9 870.5,231.5 871.0,242.3 871.5,236.7 872.0,241.9 872.5,233.3 873.0,241.2 873.5,228.0 874.0,247.8 874.5,231.3 875.0,244.7 875.5,230.9 876.0,244.5 876.5,233.5 877.0,241.0 877.5,233.9 878.0,240.4 878.5,229.8 879.0,241.9 879.5,232.7 880.0,242.9 880.5,233.6 881.0,240.3 881.5,232.1 882.0,239.6 882.5,233.0 883.0,241.2 883.5,226.3 884.0,241.5 884.5,231.4 885.0,238.4 885.5,230.5 886.0,244.6 886.5,227.0 887.0,239.8 887.5,231.7 888.0,239.5 888.5,232.0 889.0,237.0 889.5,231.2 890.0,240.5 890.5,233.1 891.0,237.5 891.5,232.7 892.0,241.0 892.5,233.0 893.0,239.4 893.5,230.4 894.0,240.0 894.5,235.4 895.0,240.3 895.5,234.8 896.0,244.8 896.5,234.8 897.0,246.9 897.5,234.5 898.0,243.7 898.5,235.4 899.0,242.3 899.5,236.9 900.0,243.6 900.5,237.0 901.0,244.9 901.5,235.2 902.0,244.3 902.5,237.5 903.0,242.7 903.5,235.1 904.0,242.0 904.5,233.7 905.0,241.7 905.5,235.3 906.0,244.0 906.5,234.5 907.0,244.9 907.5,236.5 908.0,250.3 908.5,238.5 909.0,244.1 909.5,237.3 910.0,244.2 910.5,237.4 911.0,243.4 911.5,236.2 912.0,244.8 912.5,239.5 913.0,244.0 913.5,237.0 914.0,243.9 914.5,238.8 915.0,243.4 915.5,237.5 916.0,244.4 916.5,236.3 917.0,244.4 917.5,238.1 918.0,244.5 918.5,230.7 919.0,245.2 919.5,236.4 920.0,244.5 920.5,237.9 921.0,243.3 921.5,238.2 922.0,244.5 922.5,235.9 923.0,243.8 923.5,239.1 924.0,245.8 924.5,235.4 925.0,245.0 925.5,236.6 926.0,244.7 926.5,239.7 927.0,245.2 927.5,237.6 928.0,244.1 928.5,236.6 929.0,244.3 929.5,239.6 930.0,250.2 930.5,236.8 931.0,247.1 931.5,237.9 932.0,245.4 932.5,234.4 933.0,244.0 933.5,237.9 934.0,245.2 934.5,233.2 935.0,242.4 935.5,236.0 936.0,240.8 936.5,234.1 937.0,242.5 937.5,235.3 938.0,239.9 938.5,233.2 939.0,240.3 939.5,231.3 940.0,236.4 940.5,230.3 941.0,234.1 941.5,227.0 942.0,230.4 942.5,222.1 943.0,224.5 943.5,216.4 944.0,222.7 944.5,214.3 945.0,223.3 945.5,211.3 946.0,219.3 946.5,215.6 947.0,225.6 947.5,216.1 948.0,227.4 948.5,220.9 949.0,230.5 949.5,228.1 950.0,235.9 950.5,231.9 951.0,238.6 951.5,233.5 952.0,240.2 952.5,228.3 953.0,242.0 953.5,237.1 954.0,245.5 954.5,238.2 955.0,243.4 955.5,236.9 956.0,245.0 956.5,236.5 957.0,244.2 957.5,238.5 958.0,246.1 958.5,240.2 959.0,246.3 959.5,236.0 960.0,244.9 960.5,241.7 961.0,249.4 961.5,241.0 962.0,247.5 962.5,238.6 963.0,246.8 963.5,242.8 964.0,247.2 964.5,242.7 965.0,250.7 965.5,240.4 966.0,247.2 966.5,240.7 967.0,247.6 967.5,241.7 968.0,249.1 968.5,240.1 969.0,248.1 969.5,241.3 970.0,249.2 970.5,240.1 971.0,247.5 971.5,242.6 972.0,247.9 972.5,241.6 973.0,248.6 973.5,243.4 974.0,249.2 974.5,243.0 975.0,248.4 975.5,244.5 976.0,249.3 976.5,243.5 977.0,248.9 977.5,242.1 978.0,249.6 978.5,241.0 979.0,248.9 979.5,243.9 980.0,247.7 980.5,243.6 981.0,250.2 981.5,240.1 982.0,247.9 982.5,242.1 983.0,248.9 983.5,243.3 984.0,248.8 984.5,245.1 985.0,249.4 985.5,242.5 986.0,252.3 986.5,245.6 987.0,256.6 987.5,242.2 988.0,250.8 988.5,244.5 989.0,249.4 989.5,243.5 990.0,250.1 990.5,244.2 991.0,248.6 991.5,241.6 992.0,247.7 992.5,241.0 993.0,248.9 993.5,243.8 994.0,250.4 994.5,243.5 995.0,248.2 995.5,244.0 996.0,249.1 996.5,242.9 997.0,248.8 997.5,244.3 998.0,247.8 998.5,240.9 999.0,247.6 999.5,242.6 1000.0,247.3 1000.5,242.6 1001.0,246.0 1001.5,242.3 1002.0,246.0 1002.5,240.8 1003.0,247.1 1003.5,241.0 1004.0,249.0 1004.5,243.0 1005.0,247.4 1005.5,242.4 1006.0,251.0 1006.5,241.1 1007.0,251.0 1007.5,241.1 1008.0,251.0 1008.5,242.7 1009.0,250.6 1009.5,243.9 1010.0,252.0 1010.5,239.7 1011.0,249.3 1011.5,241.1 1012.0,251.5 1012.5,242.6 1013.0,250.3 1013.5,241.3 1014.0,249.8 1014.5,242.8 1015.0,249.5 1015.5,243.7 1016.0,248.9 1016.5,242.6 1017.0,252.6 1017.5,243.0 1018.0,249.2 1018.5,242.8 1019.0,249.5 1019.5,243.8 1020.0,247.6 1020.5,244.4 1021.0,247.0 1021.5,242.1 1022.0,246.1 1022.5,241.8 1023.0,245.5 1023.5,240.4 1024.0,246.9 1024.5,238.1 1025.0,245.7 1025.5,240.0 1026.0,247.2 1026.5,238.7 1027.0,247.1 1027.5,243.4 1028.0,246.6 1028.5,240.2 1029.0,248.6 1029.5,240.2 1030.0,250.2 1030.5,242.3 1031.0,248.0 1031.5,240.8 1032.0,248.7 1032.5,244.5 1033.0,247.9 1033.5,242.8 1034.0,249.1 1034.5,241.7 1035.0,251.6 1035.5,243.4 1036.0,249.1 1036.5,241.8 1037.0,248.2 1037.5,245.6 1038.0,248.9 1038.5,241.6 1039.0,248.4 1039.5,243.6 1040.0,249.0 1040.5,243.7 1041.0,249.1 1041.5,241.5 1042.0,248.5 1042.5,244.4 1043.0,250.3 1043.5,245.2 1044.0,250.4 1044.5,244.7 1045.0,250.2 1045.5,244.9 1046.0,253.5 1046.5,244.6 1047.0,252.1 1047.5,243.6 1048.0,253.0 1048.5,243.7 1049.0,252.5 1049.5,246.6 1050.0,251.1 1050.5,239.4 1051.0,254.7 1051.5,245.5 1052.0,252.0 1052.5,245.9 1053.0,249.1 1053.5,244.2 1054.0,250.0 1054.5,245.6 1055.0,253.5 1055.5,243.7 1056.0,253.4 1056.5,244.1 1057.0,249.3 1057.5,243.3 1058.0,250.3 1058.5,245.2 1059.0,253.2 1059.5,243.5 1060.0,255.6 1060.5,245.0 1061.0,251.3 1061.5,245.0 1062.0,256.2 1062.5,245.9 1063.0,250.9 1063.5,244.5 1064.0,250.5 1064.5,245.4 1065.0,252.1 1065.5,246.9 1066.0,250.1 1066.5,246.3 1067.0,251.9 1067.5,246.7 1068.0,251.0 1068.5,245.9 1069.0,249.8 1069.5,245.3 1070.0,250.8 1070.5,246.0 1071.0,250.5 1071.5,243.3 1072.0,250.1 1072.5,245.3 1073.0,250.7 1073.5,245.8 1074.0,250.5 1074.5,246.5 1075.0,251.5 1075.5,245.4 1076.0,250.9 1076.5,246.4 1077.0,250.2 1077.5,246.8 1078.0,252.1 1078.5,246.3 1079.0,254.5 1079.5,247.2 1080.0,251.9 1080.5,244.8 1081.0,254.0 1081.5,247.1 1082.0,250.5 1082.5,245.5 1083.0,250.6 1083.5,245.2 1084.0,250.7 1084.5,245.2 1085.0,250.3 1085.5,245.1 1086.0,250.0 1086.5,246.6 1087.0,250.8 1087.5,245.2 1088.0,252.1 1088.5,243.5 1089.0,250.4 1089.5,246.5 1090.0,251.0 1090.5,245.6 1091.0,250.9 1091.5,244.3 1092.0,250.0 1092.5,242.8 1093.0,250.3 1093.5,244.6 1094.0,250.5 1094.5,246.3 1095.0,251.8 1095.5,245.6 1096.0,250.0 1096.5,245.4 1097.0,251.2 1097.5,247.0 1098.0,250.5 1098.5,246.9 1099.0,250.6 1099.5,243.3 1100.0,252.2 1100.5,245.1 1101.0,251.2 1101.5,247.2 1102.0,254.3 1102.5,245.6 1103.0,252.4 1103.5,244.5 1104.0,250.8 1104.5,247.3 1105.0,251.5 1105.5,245.4 1106.0,251.1 1106.5,247.1 1107.0,252.2 1107.5,242.1 1108.0,252.6 1108.5,247.8 1109.0,251.6 1109.5,245.7 1110.0,250.4 1110.5,244.3 1111.0,251.8 1111.5,243.4 1112.0,249.8 1112.5,246.0 1113.0,251.6 1113.5,244.3 1114.0,251.7 1114.5,245.1 1115.0,250.6 1115.5,246.0 1116.0,253.8 1116.5,245.4 1117.0,251.0 1117.5,246.6 1118.0,251.9 1118.5,245.5 1119.0,251.6 1119.5,245.3 1120.0,250.1 1120.5,247.1 1121.0,250.9 1121.5,243.3 1122.0,250.4 1122.5,246.0 1123.0,252.9 1123.5,245.8 1124.0,250.0 1124.5,244.1 1125.0,250.3 1125.5,245.7 1126.0,252.8 1126.5,246.4 1127.0,251.1 1127.5,241.5 1128.0,251.7 1128.5,245.6 1129.0,252.8 1129.5,247.6 1130.0,253.1 1130.5,245.5 1131.0,254.2 1131.5,247.8 1132.0,254.1 1132.5,246.6 1133.0,251.3 1133.5,245.7 1134.0,252.0 1134.5,247.8 1135.0,250.9 1135.5,245.5 1136.0,253.9 1136.5,244.3 1137.0,251.8 1137.5,246.7 1138.0,252.3 1138.5,245.8 1139.0,251.7 1139.5,243.9 1140.0,250.8 1140.5,246.5 1141.0,252.8 1141.5,247.9 1142.0,254.4 1142.5,246.5 1143.0,252.6 1143.5,246.4 1144.0,252.9 1144.5,245.3 1145.0,251.1 1145.5,244.6 1146.0,249.3 1146.5,244.3 1147.0,251.6 1147.5,247.4 1148.0,250.9 1148.5,242.4 1149.0,251.3 1149.5,243.8 1150.0,249.9 1150.5,246.7 1151.0,249.6 1151.5,245.9 1152.0,249.3 1152.5,244.5 1153.0,249.3 1153.5,245.4 1154.0,250.1 1154.5,245.1 1155.0,249.9 1155.5,244.9 1156.0,251.6 1156.5,245.8 1157.0,249.3 1157.5,243.8 1158.0,249.4 1158.5,244.1 1159.0,250.3 1159.5,243.6 1160.0,247.8 1160.5,240.5 1161.0,249.7 1161.5,241.6 1162.0,247.9 1162.5,238.6 1163.0,246.0 1163.5,240.0 1164.0,244.5 1164.5,239.2 1165.0,243.0 1165.5,237.4 1166.0,245.0 1166.5,239.6 1167.0,246.9 1167.5,240.7 1168.0,246.3 1168.5,241.1 1169.0,249.6 1169.5,243.6 1170.0,248.7 1170.5,242.5 1171.0,248.4 1171.5,242.5 1172.0,250.6 1172.5,245.9 1173.0,250.7 1173.5,245.1 1174.0,251.3 1174.5,246.7 1175.0,249.3 1175.5,243.3 1176.0,250.4 1176.5,246.4 1177.0,249.4 1177.5,246.1 1178.0,252.1 1178.5,246.8 1179.0,251.3 1179.5,245.9 1180.0,250.6 1180.5,242.8 1181.0,250.5 1181.5,247.4 1182.0,252.4 1182.5,247.6 1183.0,252.5 1183.5,247.1 1184.0,250.9 1184.5,245.4 1185.0,249.9 1185.5,246.9 1186.0,250.3 1186.5,246.8 1187.0,251.1 1187.5,246.6 1188.0,249.8 1188.5,245.9 1189.0,250.1 1189.5,244.5 1190.0,252.1 1190.5,247.1 1191.0,250.7 1191.5,245.7 1192.0,251.4 1192.5,244.1 1193.0,250.7 1193.5,246.6 1194.0,250.2 1194.5,244.5 1195.0,250.7 1195.5,242.6 1196.0,250.6 1196.5,246.6 1197.0,252.2 1197.5,247.1 1198.0,250.3 1198.5,247.3 1199.0,250.4 1199.5,245.3 1200.0,254.8 1200.5,246.7 1201.0,252.4 1201.5,245.5 1202.0,251.4 1202.5,247.5 1203.0,251.1 1203.5,246.6 1204.0,256.0 1204.5,247.4 1205.0,253.5 1205.5,246.8 1206.0,250.0 1206.5,246.9 1207.0,250.5 1207.5,245.0 1208.0,251.9 1208.5,247.8 1209.0,251.7 1209.5,245.4 1210.0,251.7 1210.5,246.7 1211.0,250.5 1211.5,247.1 1212.0,251.5 1212.5,247.3 1213.0,251.0 1213.5,244.6 1214.0,252.1 1214.5,245.4 1215.0,251.3 1215.5,242.1 1216.0,252.1 1216.5,245.0 1217.0,249.1 1217.5,243.7 1218.0,249.3 1218.5,242.2 1219.0,247.0 1219.5,241.4 1220.0,245.6 1220.5,239.9 1221.0,244.1 1221.5,238.6 1222.0,244.3 1222.5,238.3 1223.0,248.0 1223.5,241.2 1224.0,246.5 1224.5,238.3 1225.0,251.1 1225.5,245.4 1226.0,248.5 1226.5,242.8 1227.0,250.1 1227.5,244.9 1228.0,250.2 1228.5,246.8 1229.0,251.6 1229.5,245.9 1230.0,251.5 1230.5,247.2 1231.0,253.6 1231.5,245.6 1232.0,250.7 1232.5,244.7 1233.0,251.2 1233.5,247.4 1234.0,252.4 1234.5,248.0 1235.0,253.3 1235.5,248.5 1236.0,251.2 1236.5,247.6 1237.0,254.8 1237.5,248.4 1238.0,253.7 1238.5,248.8 1239.0,252.4 1239.5,247.9 1240.0,252.6 1240.5,249.8 1241.0,253.6 1241.5,249.5 1242.0,253.9 1242.5,250.0 1243.0,253.6 1243.5,249.7 1244.0,253.7 1244.5,248.6 1245.0,253.6 1245.5,247.9 1246.0,254.1 1246.5,249.8 1247.0,254.8 1247.5,250.0 1248.0,252.6 1248.5,246.8 1249.0,254.0 1249.5,249.9 1250.0,252.4 1250.5,249.6 1251.0,257.6 1251.5,249.8 1252.0,255.2 1252.5,247.9 1253.0,252.4 1253.5,248.5 1254.0,252.7 1254.5,247.1 1255.0,254.1 1255.5,247.7 1256.0,252.5 1256.5,248.5 1257.0,252.3 1257.5,247.7 1258.0,252.9 1258.5,248.0 1259.0,254.8 1259.5,246.7 1260.0,254.3 1260.5,245.5 1261.0,255.3 1261.5,250.0 1262.0,254.4 1262.5,249.0 1263.0,254.5 1263.5,247.3 1264.0,256.1 1264.5,250.2 1265.0,255.0 1265.5,249.8 1266.0,254.4 1266.5,246.6 1267.0,258.9 1267.5,250.0 1268.0,254.1 1268.5,250.2 1269.0,255.3 1269.5,248.3 1270.0,255.4 1270.5,250.9 1271.0,256.6 1271.5,250.9 1272.0,257.0 1272.5,250.7 1273.0,256.7 1273.5,250.8 1274.0,254.3 1274.5,246.8 1275.0,259.7 1275.5,251.4 1276.0,254.9 1276.5,250.9 1277.0,253.6 1277.5,247.9 1278.0,255.9 1278.5,249.6 1279.0,255.0 1279.5,250.6 1280.0,257.1 1280.5,248.9 1281.0,254.3 1281.5,249.8 1282.0,253.5 1282.5,246.0 1283.0,254.2 1283.5,249.1 1284.0,253.8 1284.5,248.6 1285.0,254.5 1285.5,249.6 1286.0,254.4 1286.5,244.9 1287.0,253.5 1287.5,249.9 1288.0,254.0 1288.5,247.8 1289.0,254.2 1289.5,249.0 1290.0,254.9 1290.5,250.5 1291.0,253.7 1291.5,250.0 1292.0,254.0 1292.5,249.0 1293.0,254.2 1293.5,249.9 1294.0,254.2 1294.5,249.0 1295.0,253.7 1295.5,250.6 1296.0,254.8 1296.5,250.2 1297.0,253.6 1297.5,248.3 1298.0,256.8 1298.5,249.5 1299.0,254.8 1299.5,250.6 1300.0,253.6 1300.5,249.3 1301.0,258.0 1301.5,250.6 1302.0,254.0 1302.5,250.7 1303.0,255.1 1303.5,249.3 1304.0,255.1 1304.5,249.3 1305.0,254.5 1305.5,248.5 1306.0,256.8 1306.5,248.9 1307.0,255.6 1307.5,251.0 1308.0,257.6 1308.5,251.0 1309.0,256.5 1309.5,250.1 1310.0,254.2 1310.5,251.1 1311.0,254.7 1311.5,248.7 1312.0,255.6 1312.5,246.6 1313.0,255.4 1313.5,249.7 1314.0,254.7 1314.5,250.7 1315.0,254.9 1315.5,249.5 1316.0,253.8 1316.5,247.9 1317.0,256.7 1317.5,249.6 1318.0,254.6 1318.5,250.9 1319.0,254.0 1319.5,250.2 1320.0,256.7 1320.5,248.7 1321.0,254.8 1321.5,250.6 1322.0,255.1 1322.5,251.5 1323.0,255.4 1323.5,250.7 1324.0,254.7 1324.5,250.5 1325.0,253.9 1325.5,250.3 1326.0,253.8 1326.5,248.7 1327.0,253.9 1327.5,249.8 1328.0,252.7 1328.5,249.8 1329.0,255.6 1329.5,244.8 1330.0,254.1 1330.5,248.0 1331.0,252.4 1331.5,247.9 1332.0,252.5 1332.5,249.3 1333.0,254.7 1333.5,247.1 1334.0,251.9 1334.5,248.9 1335.0,253.6 1335.5,249.3 1336.0,257.3 1336.5,250.0 1337.0,254.3 1337.5,249.5 1338.0,253.3 1338.5,249.3 1339.0,254.0 1339.5,250.4 1340.0,255.7 1340.5,250.4 1341.0,254.3 1341.5,250.4 1342.0,255.6 1342.5,248.8 1343.0,252.5 1343.5,248.6 1344.0,254.1 1344.5,247.5 1345.0,252.9 1345.5,249.0 1346.0,253.3 1346.5,248.1 1347.0,254.7 1347.5,249.6 1348.0,253.6 1348.5,250.3 1349.0,254.0 1349.5,247.6 1350.0,255.4 1350.5,249.0 1351.0,253.5 1351.5,248.6 1352.0,255.5 1352.5,247.8 1353.0,256.2 1353.5,250.6 1354.0,253.9 1354.5,250.8 1355.0,254.0 1355.5,249.6 1356.0,253.0 1356.5,249.5 1357.0,252.5 1357.5,249.7 1358.0,252.5 1358.5,247.0 1359.0,252.5 1359.5,245.4 1360.0,253.4 1360.5,250.6 1361.0,253.7 1361.5,250.6 1362.0,254.9 1362.5,251.2 1363.0,254.7 1363.5,249.8 1364.0,254.5 1364.5,249.6 1365.0,253.4 1365.5,250.5 1366.0,254.0 1366.5,249.3 1367.0,255.0 1367.5,246.6 1368.0,255.5 1368.5,249.0 1369.0,256.0 1369.5,251.0 1370.0,253.8 1370.5,251.0 1371.0,255.2 1371.5,248.2 1372.0,254.9 1372.5,249.9 1373.0,253.7 1373.5,248.4 1374.0,254.8 1374.5,251.0 1375.0,255.1 1375.5,250.9 1376.0,255.8 1376.5,250.6 1377.0,255.0 1377.5,249.0 1378.0,254.7 1378.5,250.5 1379.0,256.0 1379.5,249.9 1380.0,254.5 1380.5,247.0 1381.0,253.8 1381.5,249.7 1382.0,254.2 1382.5,249.5 1383.0,256.8 1383.5,252.2 1384.0,255.7 1384.5,252.2 1385.0,257.4 1385.5,251.0 1386.0,256.6 1386.5,251.5 1387.0,252.9 1387.5,248.7 1388.0,253.3 1388.5,250.3 1389.0,253.7 1389.5,250.4 1390.0,255.4 1390.5,248.9 1391.0,256.3 1391.5,249.2 1392.0,253.9 1392.5,249.5 1393.0,254.0 1393.5,248.8 1394.0,254.5 1394.5,251.0 1395.0,253.6 1395.5,249.4 1396.0,253.3 1396.5,250.1 1397.0,254.1" stroke="#0000FF" stroke-width="1.5" fill="none" stroke-linejoin="round" />
<path d="M788.0,288.1 788.5,278.1 789.0,285.8 789.5,274.2 790.0,285.1 790.5,279.6 791.0,290.7 791.5,275.1 792.0,296.1 792.5,277.9 793.0,287.1 793.5,278.7 794.0,287.1 794.5,279.0 795.0,287.2 795.5,270.4 796.0,287.7 796.5,280.0 797.0,286.2 797.5,280.2 798.0,286.9 798.5,281.2 799.0,292.6 799.5,275.6 800.0,288.8 800.5,280.0 801.0,297.9 801.5,280.3 802.0,288.3 802.5,281.0 803.0,287.7 803.5,275.4 804.0,289.9 804.5,280.8 805.0,290.1 805.5,273.5 806.0,288.9 806.5,281.7 807.0,290.1 807.5,281.1 808.0,288.5 808.5,282.3 809.0,288.0 809.5,280.6 810.0,289.2 810.5,282.1 811.0,293.9 811.5,277.9 812.0,292.3 812.5,280.4 813.0,292.4 813.5,281.7 814.0,288.5 814.5,280.2 815.0,292.1 815.5,278.5 816.0,291.9 816.5,276.1 817.0,286.7 817.5,276.3 818.0,291.4 818.5,277.5 819.0,289.7 819.5,277.9 820.0,287.5 820.5,280.7 821.0,287.7 821.5,281.5 822.0,288.9 822.5,282.2 823.0,289.9 823.5,282.7 824.0,290.4 824.5,273.4 825.0,290.0 825.5,278.8 826.0,289.5 826.5,280.9 827.0,289.2 827.5,279.7 828.0,286.4 828.5,280.8 829.0,288.6 829.5,279.9 830.0,291.9 830.5,280.6 831.0,286.3 831.5,282.0 832.0,287.0 832.5,281.3 833.0,287.3 833.5,276.7 834.0,289.4 834.5,282.8 835.0,287.7 835.5,281.2 836.0,290.8 836.5,279.2 837.0,290.9 837.5,282.4 838.0,291.2 838.5,283.7 839.0,290.4 839.5,282.5 840.0,291.0 840.5,277.4 841.0,291.6 841.5,278.1 842.0,290.7 842.5,283.4 843.0,290.3 843.5,277.7 844.0,288.3 844.5,283.1 845.0,291.2 845.5,279.1 846.0,291.1 846.5,281.8 847.0,293.2 847.5,283.8 848.0,291.6 848.5,284.9 849.0,293.8 849.5,284.9 850.0,291.8 850.5,285.0 851.0,290.9 851.5,280.1 852.0,291.1 852.5,283.4 853.0,290.5 853.5,284.6 854.0,295.2 854.5,275.8 855.0,290.2 855.5,283.5 856.0,290.8 856.5,282.9 857.0,293.0 857.5,283.5 858.0,294.0 858.5,283.2 859.0,291.6 859.5,278.1 860.0,291.6 860.5,285.8 861.0,293.0 861.5,285.8 862.0,292.8 862.5,285.2 863.0,292.1 863.5,276.2 864.0,295.0 864.5,282.8 865.0,293.1 865.5,281.6 866.0,290.6 866.5,284.8 867.0,292.0 867.5,281.3 868.0,292.0 868.5,284.9 869.0,290.6 869.5,283.6 870.0,292.3 870.5,284.6 871.0,292.0 871.5,285.5 872.0,290.8 872.5,284.6 873.0,292.6 873.5,286.2 874.0,291.9 874.5,284.2 875.0,298.4 875.5,285.3 876.0,292.6 876.5,282.3 877.0,290.7 877.5,283.2 878.0,291.1 878.5,284.5 879.0,290.4 879.5,284.5 880.0,291.9 880.5,283.8 881.0,290.4 881.5,280.6 882.0,292.2 882.5,280.0 883.0,290.8 883.5,283.6 884.0,290.1 884.5,277.8 885.0,289.8 885.5,283.0 886.0,288.8 886.5,283.6 887.0,288.8 887.5,279.8 888.0,289.7 888.5,278.2 889.0,288.1 889.5,281.8 890.0,287.6 890.5,282.5 891.0,288.0 891.5,281.8 892.0,289.5 892.5,280.0 893.0,289.3 893.5,279.8 894.0,289.3 894.5,284.7 895.0,291.8 895.5,281.3 896.0,294.8 896.5,278.5 897.0,291.2 897.5,286.1 898.0,292.7 898.5,281.8 899.0,292.9 899.5,285.7 900.0,292.9 900.5,286.0 901.0,293.8 901.5,285.1 902.0,295.6 902.5,283.9 903.0,294.8 903.5,285.0 904.0,292.7 904.5,288.4 905.0,293.3 905.5,284.5 906.0,294.7 906.5,286.1 907.0,296.7 907.5,287.2 908.0,294.2 908.5,287.8 909.0,295.1 909.5,286.8 910.0,293.9 910.5,285.7 911.0,293.9 911.5,288.0 912.0,296.8 912.5,285.8 913.0,293.6 913.5,284.8 914.0,294.4 914.5,287.8 915.0,295.7 915.5,288.0 916.0,299.0 916.5,287.5 917.0,296.6 917.5,291.3 918.0,298.3 918.5,288.2 919.0,297.3 919.5,289.9 920.0,298.5 920.5,291.9 921.0,298.1 921.5,291.8 922.0,297.3 922.5,291.9 923.0,296.5 923.5,289.6 924.0,296.5 924.5,291.4 925.0,296.1 925.5,287.2 926.0,302.7 926.5,290.6 927.0,295.1 927.5,290.6 928.0,295.5 928.5,286.2 929.0,294.5 929.5,288.4 930.0,297.1 930.5,291.4 931.0,297.2 931.5,290.0 932.0,299.4 932.5,288.6 933.0,294.9 933.5,288.3 934.0,295.5 934.5,290.2 935.0,297.4 935.5,290.4 936.0,294.7 936.5,284.5 937.0,294.0 937.5,285.5 938.0,291.3 938.5,285.7 939.0,290.4 939.5,280.3 940.0,286.3 940.5,279.3 941.0,282.8 941.5,275.4 942.0,279.0 942.5,272.2 943.0,274.4 943.5,263.3 944.0,269.4 944.5,262.2 945.0,271.8 945.5,262.1 946.0,270.7 946.5,263.4 947.0,272.6 947.5,267.1 948.0,277.2 948.5,275.0 949.0,285.2 949.5,277.4 950.0,286.8 950.5,282.3 951.0,290.2 951.5,281.6 952.0,294.1 952.5,288.8 953.0,297.0 953.5,286.8 954.0,297.1 954.5,292.0 955.0,299.7 955.5,290.4 956.0,299.5 956.5,295.1 957.0,300.6 957.5,294.2 958.0,300.5 958.5,295.5 959.0,301.2 959.5,296.2 960.0,301.6 960.5,293.4 961.0,301.7 961.5,294.3 962.0,300.8 962.5,292.4 963.0,301.9 963.5,294.1 964.0,302.5 964.5,296.9 965.0,302.6 965.5,294.9 966.0,301.3 966.5,294.6 967.0,301.9 967.5,293.3 968.0,302.7 968.5,298.0 969.0,303.8 969.5,298.4 970.0,303.6 970.5,296.7 971.0,303.8 971.5,299.7 972.0,303.1 972.5,295.2 973.0,304.9 973.5,298.0 974.0,304.1 974.5,298.9 975.0,304.7 975.5,298.2 976.0,305.4 976.5,299.0 977.0,303.8 977.5,298.4 978.0,304.8 978.5,299.2 979.0,305.9 979.5,298.0 980.0,306.9 980.5,295.9 981.0,303.8 981.5,297.6 982.0,303.1 982.5,295.7 983.0,304.3 983.5,296.0 984.0,305.0 984.5,292.0 985.0,306.5 985.5,298.5 986.0,306.5 986.5,295.4 987.0,304.4 987.5,298.9 988.0,303.7 988.5,298.0 989.0,303.7 989.5,297.1 990.0,305.5 990.5,298.4 991.0,303.5 991.5,296.8 992.0,303.4 992.5,296.5 993.0,306.4 993.5,299.4 994.0,303.9 994.5,299.1 995.0,303.5 995.5,296.9 996.0,307.5 996.5,299.0 997.0,309.1 997.5,296.9 998.0,306.3 998.5,298.6 999.0,305.8 999.5,297.9 1000.0,304.5 1000.5,298.7 1001.0,304.9 1001.5,298.8 1002.0,303.3 1002.5,293.8 1003.0,304.5 1003.5,300.2 1004.0,303.7 1004.5,298.2 1005.0,304.4 1005.5,299.5 1006.0,303.7 1006.5,295.5 1007.0,302.4 1007.5,298.5 1008.0,302.9 1008.5,297.2 1009.0,304.1 1009.5,295.3 1010.0,303.0 1010.5,298.8 1011.0,302.3 1011.5,297.4 1012.0,305.8 1012.5,298.1 1013.0,303.4 1013.5,297.1 1014.0,303.7 1014.5,297.4 1015.0,303.3 1015.5,296.4 1016.0,301.1 1016.5,296.5 1017.0,301.2 1017.5,294.7 1018.0,300.9 1018.5,293.7 1019.0,298.7 1019.5,294.7 1020.0,298.5 1020.5,293.4 1021.0,298.5 1021.5,288.8 1022.0,294.7 1022.5,286.4 1023.0,292.0 1023.5,285.2 1024.0,293.3 1024.5,282.8 1025.0,290.6 1025.5,286.8 1026.0,293.3 1026.5,283.3 1027.0,295.8 1027.5,291.5 1028.0,298.7 1028.5,294.1 1029.0,299.8 1029.5,296.7 1030.0,301.1 1030.5,298.2 1031.0,305.8 1031.5,298.6 1032.0,303.1 1032.5,297.5 1033.0,305.2 1033.5,298.2 1034.0,304.5 1034.5,299.1 1035.0,306.4 1035.5,296.7 1036.0,304.9 1036.5,299.7 1037.0,304.4 1037.5,300.0 1038.0,306.4 1038.5,299.3 1039.0,304.5 1039.5,301.6 1040.0,307.6 1040.5,298.5 1041.0,305.2 1041.5,298.5 1042.0,307.0 1042.5,301.5 1043.0,305.1 1043.5,299.9 1044.0,306.3 1044.5,299.7 1045.0,306.7 1045.5,300.6 1046.0,304.7 1046.5,301.2 1047.0,304.8 1047.5,299.9 1048.0,305.7 1048.5,301.6 1049.0,308.4 1049.5,299.4 1050.0,307.3 1050.5,301.3 1051.0,305.7 1051.5,301.5 1052.0,306.2 1052.5,299.3 1053.0,307.2 1053.5,298.6 1054.0,306.0 1054.5,301.4 1055.0,306.7 1055.5,300.4 1056.0,306.9 1056.5,299.9 1057.0,305.0 1057.5,299.7 1058.0,307.9 1058.5,300.8 1059.0,307.5 1059.5,298.9 1060.0,307.1 1060.5,297.9 1061.0,304.2 1061.5,300.5 1062.0,304.8 1062.5,301.5 1063.0,306.6 1063.5,300.0 1064.0,305.9 1064.5,301.9 1065.0,307.8 1065.5,300.5 1066.0,306.0 1066.5,301.1 1067.0,305.3 1067.5,299.1 1068.0,308.0 1068.5,296.7 1069.0,305.4 1069.5,302.1 1070.0,305.5 1070.5,298.6 1071.0,305.9 1071.5,301.7 1072.0,306.0 1072.5,301.0 1073.0,306.4 1073.5,300.7 1074.0,307.2 1074.5,301.9 1075.0,305.3 1075.5,301.0 1076.0,305.0 1076.5,302.0 1077.0,306.9 1077.5,301.8 1078.0,306.8 1078.5,300.7 1079.0,306.7 1079.5,302.1 1080.0,308.3 1080.5,301.9 1081.0,307.7 1081.5,299.2 1082.0,308.0 1082.5,302.6 1083.0,309.4 1083.5,302.8 1084.0,307.4 1084.5,302.0 1085.0,307.2 1085.5,303.3 1086.0,307.2 1086.5,300.9 1087.0,308.4 1087.5,296.6 1088.0,307.1 1088.5,300.3 1089.0,310.3 1089.5,303.5 1090.0,308.1 1090.5,301.2 1091.0,306.3 1091.5,302.8 1092.0,307.8 1092.5,300.9 1093.0,312.7 1093.5,299.3 1094.0,307.8 1094.5,299.5 1095.0,309.7 1095.5,301.5 1096.0,307.8 1096.5,300.8 1097.0,308.2 1097.5,301.4 1098.0,307.6 1098.5,301.6 1099.0,307.6 1099.5,303.3 1100.0,306.9 1100.5,303.3 1101.0,306.7 1101.5,302.4 1102.0,306.8 1102.5,300.7 1103.0,308.8 1103.5,301.5 1104.0,307.6 1104.5,297.5 1105.0,308.7 1105.5,300.4 1106.0,306.8 1106.5,302.1 1107.0,306.8 1107.5,301.0 1108.0,309.8 1108.5,299.9 1109.0,304.7 1109.5,299.0 1110.0,309.6 1110.5,298.6 1111.0,307.0 1111.5,299.4 1112.0,305.1 1112.5,300.6 1113.0,306.5 1113.5,302.5 1114.0,307.0 1114.5,303.2 1115.0,308.4 1115.5,300.0 1116.0,309.0 1116.5,302.9 1117.0,311.3 1117.5,301.1 1118.0,306.8 1118.5,301.5 1119.0,306.4 1119.5,301.7 1120.0,312.3 1120.5,300.1 1121.0,305.9 1121.5,300.4 1122.0,308.2 1122.5,298.9 1123.0,306.5 1123.5,301.0 1124.0,307.7 1124.5,300.2 1125.0,306.2 1125.5,301.1 1126.0,308.8 1126.5,299.5 1127.0,307.8 1127.5,301.5 1128.0,307.9 1128.5,302.0 1129.0,306.0 1129.5,299.8 1130.0,309.8 1130.5,300.1 1131.0,308.0 1131.5,300.6 1132.0,308.8 1132.5,304.0 1133.0,312.0 1133.5,301.6 1134.0,309.4 1134.5,302.2 1135.0,308.2 1135.5,301.7 1136.0,310.8 1136.5,305.1 1137.0,310.6 1137.5,303.9 1138.0,308.2 1138.5,303.6 1139.0,310.3 1139.5,303.1 1140.0,309.7 1140.5,301.8 1141.0,309.7 1141.5,302.0 1142.0,308.5 1142.5,303.5 1143.0,307.4 1143.5,303.5 1144.0,307.7 1144.5,302.7 1145.0,307.3 1145.5,302.8 1146.0,306.8 1146.5,301.5 1147.0,305.7 1147.5,300.8 1148.0,306.4 1148.5,300.8 1149.0,305.4 1149.5,300.1 1150.0,306.2 1150.5,302.2 1151.0,305.9 1151.5,302.4 1152.0,307.9 1152.5,300.4 1153.0,305.4 1153.5,299.5 1154.0,305.6 1154.5,302.6 1155.0,305.9 1155.5,302.1 1156.0,305.9 1156.5,301.6 1157.0,305.4 1157.5,298.4 1158.0,304.7 1158.5,300.2 1159.0,304.3 1159.5,297.1 1160.0,305.8 1160.5,298.2 1161.0,302.1 1161.5,297.0 1162.0,300.5 1162.5,295.6 1163.0,297.9 1163.5,292.4 1164.0,298.9 1164.5,292.5 1165.0,297.7 1165.5,291.7 1166.0,298.8 1166.5,294.6 1167.0,299.3 1167.5,295.4 1168.0,303.1 1168.5,297.3 1169.0,304.5 1169.5,298.7 1170.0,307.0 1170.5,300.4 1171.0,307.6 1171.5,301.3 1172.0,305.3 1172.5,300.7 1173.0,310.2 1173.5,300.8 1174.0,305.4 1174.5,302.3 1175.0,307.0 1175.5,303.1 1176.0,309.0 1176.5,301.7 1177.0,308.2 1177.5,301.9 1178.0,310.1 1178.5,304.5 1179.0,307.3 1179.5,302.2 1180.0,305.7 1180.5,299.8 1181.0,309.4 1181.5,301.1 1182.0,307.4 1182.5,303.1 1183.0,306.4 1183.5,302.6 1184.0,305.6 1184.5,300.0 1185.0,307.7 1185.5,300.0 1186.0,309.4 1186.5,303.7 1187.0,308.0 1187.5,301.7 1188.0,309.0 1188.5,304.3 1189.0,307.3 1189.5,302.1 1190.0,309.0 1190.5,300.8 1191.0,309.5 1191.5,301.5 1192.0,308.8 1192.5,303.1 1193.0,308.6 1193.5,303.2 1194.0,307.3 1194.5,303.6 1195.0,313.0 1195.5,303.3 1196.0,308.7 1196.5,300.4 1197.0,310.8 1197.5,301.7 1198.0,307.8 1198.5,301.8 1199.0,307.3 1199.5,301.9 1200.0,307.1 1200.5,302.3 1201.0,307.9 1201.5,299.0 1202.0,307.2 1202.5,302.9 1203.0,307.2 1203.5,301.5 1204.0,307.6 1204.5,298.5 1205.0,305.5 1205.5,299.9 1206.0,306.2 1206.5,301.7 1207.0,308.8 1207.5,300.9 1208.0,306.7 1208.5,302.5 1209.0,309.1 1209.5,298.2 1210.0,306.0 1210.5,300.2 1211.0,307.8 1211.5,301.4 1212.0,308.7 1212.5,299.4 1213.0,305.8 1213.5,298.4 1214.0,304.6 1214.5,300.5 1215.0,305.3 1215.5,298.5 1216.0,302.8 1216.5,296.8 1217.0,304.1 1217.5,297.7 1218.0,300.6 1218.5,295.6 1219.0,301.3 1219.5,294.6 1220.0,300.1 1220.5,294.5 1221.0,298.8 1221.5,291.5 1222.0,303.2 1222.5,294.7 1223.0,299.5 1223.5,296.8 1224.0,303.7 1224.5,298.0 1225.0,303.5 1225.5,298.9 1226.0,304.0 1226.5,298.2 1227.0,305.1 1227.5,300.2 1228.0,305.0 1228.5,301.8 1229.0,306.8 1229.5,298.6 1230.0,305.5 1230.5,302.4 1231.0,306.0 1231.5,303.1 1232.0,310.9 1232.5,302.9 1233.0,308.8 1233.5,302.8 1234.0,307.5 1234.5,300.9 1235.0,308.7 1235.5,303.8 1236.0,306.7 1236.5,301.4 1237.0,306.0 1237.5,302.2 1238.0,308.1 1238.5,301.5 1239.0,308.4 1239.5,300.9 1240.0,308.3 1240.5,300.8 1241.0,308.8 1241.5,301.9 1242.0,307.8 1242.5,304.7 1243.0,309.6 1243.5,304.2 1244.0,308.0 1244.5,304.7 1245.0,309.5 1245.5,302.0 1246.0,309.2 1246.5,304.6 1247.0,308.0 1247.5,302.2 1248.0,308.2 1248.5,302.3 1249.0,308.8 1249.5,302.2 1250.0,309.5 1250.5,301.6 1251.0,309.0 1251.5,304.7 1252.0,311.8 1252.5,304.9 1253.0,311.8 1253.5,305.1 1254.0,309.2 1254.5,304.4 1255.0,310.1 1255.5,305.4 1256.0,309.4 1256.5,303.7 1257.0,309.6 1257.5,304.2 1258.0,308.9 1258.5,302.5 1259.0,308.7 1259.5,304.2 1260.0,308.7 1260.5,302.7 1261.0,310.9 1261.5,304.0 1262.0,308.6 1262.5,304.4 1263.0,309.6 1263.5,302.1 1264.0,309.5 1264.5,304.0 1265.0,308.3 1265.5,304.1 1266.0,310.9 1266.5,305.1 1267.0,311.1 1267.5,302.6 1268.0,311.5 1268.5,303.8 1269.0,309.6 1269.5,302.8 1270.0,307.5 1270.5,304.6 1271.0,309.1 1271.5,303.1 1272.0,310.2 1272.5,302.7 1273.0,309.7 1273.5,305.2 1274.0,310.3 1274.5,304.0 1275.0,309.5 1275.5,305.9 1276.0,308.6 1276.5,305.3 1277.0,310.1 1277.5,304.8 1278.0,309.2 1278.5,305.3 1279.0,308.6 1279.5,302.6 1280.0,309.5 1280.5,305.2 1281.0,308.1 1281.5,305.1 1282.0,313.8 1282.5,305.9 1283.0,308.6 1283.5,305.0 1284.0,309.9 1284.5,305.0 1285.0,312.8 1285.5,303.7 1286.0,309.6 1286.5,304.0 1287.0,309.4 1287.5,302.4 1288.0,308.5 1288.5,305.5 1289.0,312.1 1289.5,305.8 1290.0,310.3 1290.5,306.9 1291.0,309.1 1291.5,305.6 1292.0,310.6 1292.5,305.6 1293.0,310.9 1293.5,304.3 1294.0,310.4 1294.5,305.0 1295.0,309.2 1295.5,305.3 1296.0,309.9 1296.5,304.8 1297.0,308.3 1297.5,304.4 1298.0,309.6 1298.5,304.5 1299.0,310.3 1299.5,304.4 1300.0,307.8 1300.5,302.0 1301.0,307.8 1301.5,302.6 1302.0,308.3 1302.5,302.2 1303.0,307.9 1303.5,301.1 1304.0,306.7 1304.5,303.1 1305.0,308.8 1305.5,303.4 1306.0,307.2 1306.5,298.8 1307.0,308.9 1307.5,304.2 1308.0,310.0 1308.5,304.2 1309.0,308.7 1309.5,302.6 1310.0,306.9 1310.5,303.3 1311.0,307.6 1311.5,301.2 1312.0,309.7 1312.5,303.3 1313.0,307.4 1313.5,303.5 1314.0,308.5 1314.5,303.6 1315.0,308.4 1315.5,303.7 1316.0,309.8 1316.5,305.1 1317.0,309.5 1317.5,305.1 1318.0,308.8 1318.5,304.3 1319.0,311.6 1319.5,304.6 1320.0,308.9 1320.5,302.9 1321.0,310.9 1321.5,305.6 1322.0,310.2 1322.5,300.3 1323.0,309.1 1323.5,304.1 1324.0,308.9 1324.5,303.1 1325.0,311.9 1325.5,305.3 1326.0,311.9 1326.5,304.2 1327.0,308.9 1327.5,306.5 1328.0,308.9 1328.5,306.5 1329.0,310.2 1329.5,305.1 1330.0,310.3 1330.5,306.4 1331.0,309.2 1331.5,305.9 1332.0,310.4 1332.5,306.3 1333.0,312.4 1333.5,302.6 1334.0,309.2 1334.5,305.9 1335.0,309.7 1335.5,305.6 1336.0,309.9 1336.5,306.0 1337.0,309.1 1337.5,305.0 1338.0,310.4 1338.5,304.1 1339.0,309.5 1339.5,305.9 1340.0,310.2 1340.5,306.1 1341.0,309.3 1341.5,306.0 1342.0,310.1 1342.5,303.9 1343.0,309.5 1343.5,305.8 1344.0,311.2 1344.5,305.7 1345.0,308.7 1345.5,305.5 1346.0,309.9 1346.5,301.4 1347.0,309.6 1347.5,304.5 1348.0,308.6 1348.5,305.3 1349.0,309.4 1349.5,305.9 1350.0,309.4 1350.5,306.3 1351.0,310.5 1351.5,304.0 1352.0,310.7 1352.5,303.8 1353.0,311.3 1353.5,304.9 1354.0,309.6 1354.5,305.8 1355.0,310.5 1355.5,306.7 1356.0,309.6 1356.5,306.2 1357.0,309.6 1357.5,304.7 1358.0,311.6 1358.5,304.7 1359.0,313.9 1359.5,305.4 1360.0,311.2 1360.5,304.1 1361.0,309.9 1361.5,306.4 1362.0,310.9 1362.5,304.9 1363.0,309.4 1363.5,306.4 1364.0,311.1 1364.5,304.1 1365.0,309.5 1365.5,305.6 1366.0,308.6 1366.5,304.6 1367.0,309.3 1367.5,306.9 1368.0,310.2 1368.5,305.4 1369.0,310.2 1369.5,304.5 1370.0,310.2 1370.5,304.8 1371.0,309.6 1371.5,307.2 1372.0,310.7 1372.5,305.9 1373.0,310.0 1373.5,307.1 1374.0,311.6 1374.5,307.0 1375.0,310.0 1375.5,303.9 1376.0,311.0 1376.5,304.2 1377.0,309.7 1377.5,305.9 1378.0,311.8 1378.5,306.1 1379.0,309.7 1379.5,307.0 1380.0,310.9 1380.5,305.7 1381.0,311.4 1381.5,306.2 1382.0,310.1 1382.5,304.8 1383.0,311.1 1383.5,305.1 1384.0,310.6 1384.5,305.8 1385.0,310.5 1385.5,306.6 1386.0,311.0 1386.5,307.6 1387.0,310.9 1387.5,306.2 1388.0,309.7 1388.5,307.1 1389.0,309.6 1389.5,303.9 1390.0,312.6 1390.5,304.2 1391.0,308.3 1391.5,305.9 1392.0,308.0 1392.5,303.5 1393.0,309.0 1393.5,304.4 1394.0,308.6 1394.5,304.3 1395.0,307.8 1395.5,304.9 1396.0,308.4 1396.5,305.0 1397.0,309.6" stroke="#FF00FF" stroke-width="1.5" fill="none" stroke-linejoin="round" />
<path d="M788.0,359.7 788.5,348.8 789.0,354.3 789.5,345.9 790.0,356.8 790.5,346.6 791.0,356.0 791.5,342.6 792.0,357.2 792.5,348.5 793.0,355.7 793.5,347.6 794.0,359.1 794.5,347.7 795.0,362.1 795.5,346.7 796.0,357.5 796.5,346.2 797.0,358.0 797.5,343.7 798.0,363.8 798.5,348.1 799.0,357.4 799.5,350.5 800.0,358.5 800.5,344.4 801.0,361.0 801.5,345.3 802.0,355.6 802.5,347.7 803.0,355.1 803.5,349.9 804.0,356.7 804.5,349.2 805.0,358.4 805.5,349.7 806.0,356.8 806.5,345.7 807.0,356.5 807.5,347.3 808.0,361.2 808.5,350.7 809.0,357.1 809.5,348.3 810.0,356.9 810.5,350.3 811.0,362.3 811.5,351.3 812.0,360.1 812.5,348.5 813.0,359.8 813.5,349.9 814.0,361.9 814.5,347.5 815.0,359.3 815.5,350.8 816.0,359.2 816.5,351.5 817.0,359.7 817.5,346.6 818.0,359.3 818.5,348.9 819.0,360.1 819.5,352.1 820.0,357.6 820.5,346.3 821.0,357.8 821.5,349.8 822.0,356.9 822.5,352.1 823.0,359.0 823.5,350.8 824.0,360.8 824.5,351.1 825.0,360.8 825.5,351.1 826.0,358.6 826.5,352.1 827.0,361.1 827.5,348.5 828.0,360.4 828.5,351.9 829.0,360.4 829.5,352.0 830.0,359.4 830.5,351.7 831.0,363.1 831.5,351.4 832.0,357.4 832.5,348.1 833.0,359.3 833.5,347.1 834.0,359.6 834.5,347.5 835.0,358.1 835.5,352.1 836.0,358.8 836.5,353.5 837.0,359.6 837.5,347.2 838.0,359.2 838.5,353.0 839.0,359.5 839.5,351.0 840.0,360.5 840.5,349.0 841.0,359.6 841.5,352.2 842.0,361.5 842.5,351.5 843.0,362.2 843.5,353.6 844.0,363.8 844.5,353.2 845.0,367.3 845.5,353.2 846.0,360.3 846.5,350.9 847.0,360.1 847.5,351.3 848.0,359.9 848.5,352.3 849.0,360.6 849.5,352.2 850.0,359.3 850.5,353.6 851.0,360.5 851.5,350.9 852.0,361.2 852.5,351.5 853.0,362.6 853.5,351.9 854.0,361.1 854.5,355.7 855.0,362.9 855.5,355.9 856.0,363.5 856.5,353.9 857.0,364.4 857.5,356.0 858.0,361.8 858.5,356.4 859.0,364.3 859.5,353.8 860.0,362.2 860.5,353.5 861.0,362.5 861.5,356.3 862.0,365.4 862.5,357.1 863.0,361.6 863.5,356.8 864.0,362.0 864.5,351.1 865.0,364.7 865.5,354.6 866.0,366.5 866.5,353.9 867.0,361.5 867.5,353.7 868.0,364.2 868.5,354.8 869.0,361.9 869.5,352.3 870.0,360.0 870.5,353.8 871.0,363.8 871.5,355.1 872.0,360.2 872.5,355.8 873.0,362.3 873.5,350.7 874.0,359.3 874.5,354.5 875.0,359.2 875.5,350.6 876.0,359.8 876.5,353.9 877.0,359.2 877.5,353.6 878.0,359.7 878.5,352.7 879.0,359.0 879.5,353.0 880.0,360.1 880.5,351.3 881.0,360.3 881.5,351.9 882.0,360.4 882.5,348.6 883.0,357.3 883.5,350.9 884.0,360.8 884.5,350.5 885.0,355.7 885.5,348.1 886.0,355.2 886.5,350.1 887.0,355.4 887.5,344.0 888.0,351.5 888.5,344.9 889.0,350.6 889.5,341.7 890.0,352.3 890.5,342.8 891.0,354.0 891.5,344.3 892.0,350.6 892.5,347.3 893.0,355.1 893.5,348.3 894.0,354.8 894.5,346.5 895.0,358.6 895.5,349.1 896.0,362.9 896.5,354.3 897.0,359.3 897.5,354.1 898.0,360.0 898.5,351.6 899.0,359.9 899.5,355.6 900.0,361.4 900.5,356.1 901.0,366.8 901.5,356.3 902.0,362.3 902.5,354.4 903.0,365.1 903.5,356.2 904.0,363.9 904.5,357.4 905.0,363.9 905.5,354.2 906.0,365.0 906.5,357.0 907.0,363.4 907.5,356.5 908.0,362.8 908.5,358.7 909.0,367.7 909.5,358.4 910.0,365.0 910.5,358.5 911.0,366.7 911.5,356.8 912.0,365.9 912.5,357.8 913.0,363.3 913.5,357.6 914.0,366.0 914.5,358.7 915.0,366.7 915.5,358.2 916.0,365.4 916.5,358.7 917.0,364.1 917.5,359.5 918.0,364.1 918.5,358.6 919.0,365.8 919.5,354.6 920.0,365.0 920.5,358.3 921.0,366.5 921.5,358.1 922.0,368.2 922.5,360.7 923.0,364.8 923.5,356.7 924.0,365.5 924.5,360.5 925.0,365.0 925.5,356.1 926.0,367.2 926.5,357.9 927.0,365.7 927.5,359.8 928.0,365.9 928.5,355.4 929.0,366.5 929.5,354.8 930.0,365.7 930.5,356.0 931.0,367.4 931.5,357.0 932.0,369.6 932.5,355.1 933.0,368.8 933.5,358.8 934.0,365.4 934.5,358.8 935.0,366.3 935.5,354.6 936.0,361.8 936.5,355.2 937.0,363.6 937.5,352.0 938.0,358.2 938.5,353.2 939.0,356.0 939.5,349.6 940.0,354.9 940.5,342.8 941.0,350.8 941.5,336.6 942.0,342.9 942.5,334.7 943.0,337.7 943.5,327.3 944.0,330.1 944.5,320.2 945.0,324.7 945.5,318.5 946.0,326.7 946.5,323.4 947.0,336.4 947.5,328.8 948.0,339.4 948.5,336.4 949.0,346.2 949.5,335.4 950.0,353.9 950.5,348.2 951.0,354.6 951.5,351.1 952.0,366.5 952.5,354.6 953.0,360.5 953.5,353.9 954.0,366.0 954.5,357.4 955.0,365.7 955.5,352.8 956.0,366.9 956.5,356.1 957.0,368.7 957.5,359.1 958.0,368.8 958.5,361.2 959.0,365.8 959.5,360.1 960.0,366.4 960.5,357.1 961.0,367.0 961.5,360.2 962.0,368.5 962.5,360.5 963.0,368.1 963.5,357.5 964.0,368.5 964.5,360.5 965.0,372.7 965.5,362.8 966.0,369.8 966.5,360.4 967.0,369.1 967.5,362.1 968.0,372.8 968.5,360.1 969.0,369.2 969.5,362.4 970.0,367.5 970.5,363.3 971.0,368.6 971.5,363.0 972.0,368.7 972.5,361.5 973.0,367.1 973.5,362.2 974.0,368.4 974.5,362.1 975.0,369.3 975.5,363.4 976.0,372.0 976.5,362.2 977.0,367.5 977.5,361.1 978.0,370.4 978.5,360.9 979.0,370.5 979.5,359.4 980.0,370.9 980.5,360.5 981.0,370.6 981.5,361.3 982.0,371.7 982.5,363.3 983.0,370.3 983.5,360.3 984.0,375.2 984.5,363.1 985.0,368.6 985.5,363.3 986.0,374.3 986.5,364.1 987.0,369.9 987.5,364.3 988.0,369.5 988.5,364.6 989.0,369.0 989.5,363.6 990.0,372.7 990.5,363.2 991.0,370.3 991.5,360.1 992.0,371.0 992.5,362.2 993.0,368.0 993.5,364.3 994.0,368.8 994.5,363.8 995.0,372.2 995.5,363.8 996.0,372.2 996.5,362.1 997.0,369.2 997.5,359.6 998.0,369.9 998.5,361.4 999.0,368.1 999.5,364.1 1000.0,372.0 1000.5,364.8 1001.0,372.2 1001.5,364.0 1002.0,368.5 1002.5,362.6 1003.0,374.5 1003.5,364.0 1004.0,368.5 1004.5,364.4 1005.0,369.5 1005.5,362.9 1006.0,368.1 1006.5,361.1 1007.0,368.6 1007.5,362.3 1008.0,373.3 1008.5,363.8 1009.0,370.6 1009.5,364.3 1010.0,368.3 1010.5,362.9 1011.0,370.7 1011.5,362.6 1012.0,372.2 1012.5,363.6 1013.0,374.0 1013.5,363.7 1014.0,370.5 1014.5,363.6 1015.0,370.0 1015.5,356.7 1016.0,368.3 1016.5,359.3 1017.0,370.2 1017.5,362.8 1018.0,366.2 1018.5,354.9 1019.0,367.4 1019.5,361.7 1020.0,368.5 1020.5,360.4 1021.0,367.1 1021.5,359.6 1022.0,364.5 1022.5,359.0 1023.0,363.3 1023.5,358.1 1024.0,361.2 1024.5,355.9 1025.0,361.3 1025.5,356.7 1026.0,365.1 1026.5,357.0 1027.0,367.0 1027.5,359.3 1028.0,367.7 1028.5,360.3 1029.0,367.5 1029.5,358.8 1030.0,366.5 1030.5,359.2 1031.0,366.3 1031.5,362.8 1032.0,369.4 1032.5,360.3 1033.0,369.3 1033.5,363.6 1034.0,373.0 1034.5,363.2 1035.0,369.9 1035.5,360.8 1036.0,368.6 1036.5,361.8 1037.0,373.0 1037.5,364.0 1038.0,370.0 1038.5,365.9 1039.0,369.9 1039.5,365.9 1040.0,371.3 1040.5,365.0 1041.0,368.8 1041.5,364.8 1042.0,370.8 1042.5,362.1 1043.0,369.2 1043.5,365.6 1044.0,370.1 1044.5,364.2 1045.0,370.6 1045.5,363.9 1046.0,370.3 1046.5,365.8 1047.0,370.2 1047.5,364.5 1048.0,374.0 1048.5,366.4 1049.0,370.7 1049.5,363.4 1050.0,373.8 1050.5,365.9 1051.0,374.3 1051.5,366.2 1052.0,371.6 1052.5,363.4 1053.0,372.0 1053.5,366.2 1054.0,374.4 1054.5,363.2 1055.0,370.9 1055.5,365.6 1056.0,371.5 1056.5,363.7 1057.0,370.9 1057.5,364.2 1058.0,372.0 1058.5,366.6 1059.0,371.2 1059.5,366.7 1060.0,373.6 1060.5,365.2 1061.0,370.1 1061.5,364.2 1062.0,370.9 1062.5,363.0 1063.0,371.9 1063.5,364.6 1064.0,370.8 1064.5,363.4 1065.0,371.9 1065.5,365.1 1066.0,376.1 1066.5,365.3 1067.0,370.2 1067.5,364.1 1068.0,368.5 1068.5,363.9 1069.0,370.9 1069.5,362.0 1070.0,370.9 1070.5,364.2 1071.0,372.0 1071.5,366.3 1072.0,375.2 1072.5,363.6 1073.0,370.6 1073.5,364.1 1074.0,372.2 1074.5,366.0 1075.0,372.5 1075.5,364.4 1076.0,370.4 1076.5,365.8 1077.0,369.6 1077.5,364.5 1078.0,373.8 1078.5,365.2 1079.0,369.9 1079.5,363.7 1080.0,371.0 1080.5,363.6 1081.0,369.4 1081.5,360.3 1082.0,372.8 1082.5,364.2 1083.0,371.1 1083.5,363.6 1084.0,369.8 1084.5,364.3 1085.0,369.5 1085.5,365.2 1086.0,370.8 1086.5,362.3 1087.0,372.1 1087.5,364.7 1088.0,369.7 1088.5,366.1 1089.0,370.1 1089.5,362.8 1090.0,370.9 1090.5,364.9 1091.0,371.5 1091.5,366.6 1092.0,370.6 1092.5,365.5 1093.0,370.9 1093.5,365.3 1094.0,369.8 1094.5,363.3 1095.0,369.5 1095.5,365.8 1096.0,373.8 1096.5,366.4 1097.0,372.9 1097.5,366.5 1098.0,371.7 1098.5,367.4 1099.0,373.1 1099.5,365.1 1100.0,371.8 1100.5,366.8 1101.0,372.5 1101.5,366.5 1102.0,371.2 1102.5,367.0 1103.0,370.6 1103.5,365.3 1104.0,373.0 1104.5,367.1 1105.0,371.2 1105.5,367.2 1106.0,373.7 1106.5,367.2 1107.0,373.3 1107.5,365.3 1108.0,373.8 1108.5,366.2 1109.0,371.4 1109.5,366.6 1110.0,372.8 1110.5,364.2 1111.0,371.7 1111.5,367.5 1112.0,373.4 1112.5,363.4 1113.0,372.9 1113.5,367.1 1114.0,372.6 1114.5,363.8 1115.0,371.3 1115.5,366.0 1116.0,372.0 1116.5,367.6 1117.0,372.8 1117.5,368.2 1118.0,372.0 1118.5,365.1 1119.0,371.6 1119.5,368.0 1120.0,373.6 1120.5,366.2 1121.0,376.7 1121.5,366.9 1122.0,371.3 1122.5,367.7 1123.0,371.7 1123.5,364.5 1124.0,374.6 1124.5,364.4 1125.0,375.3 1125.5,366.6 1126.0,374.0 1126.5,366.5 1127.0,374.3 1127.5,364.4 1128.0,374.0 1128.5,366.8 1129.0,372.4 1129.5,367.3 1130.0,371.9 1130.5,366.7 1131.0,371.5 1131.5,367.0 1132.0,373.0 1132.5,364.8 1133.0,370.9 1133.5,365.3 1134.0,376.7 1134.5,366.2 1135.0,371.8 1135.5,367.2 1136.0,373.2 1136.5,366.6 1137.0,371.8 1137.5,365.8 1138.0,373.5 1138.5,364.9 1139.0,373.3 1139.5,364.9 1140.0,371.5 1140.5,364.6 1141.0,369.9 1141.5,366.1 1142.0,369.9 1142.5,361.8 1143.0,369.4 1143.5,364.3 1144.0,372.0 1144.5,364.9 1145.0,369.8 1145.5,364.5 1146.0,373.7 1146.5,359.8 1147.0,373.6 1147.5,364.5 1148.0,372.0 1148.5,364.5 1149.0,371.8 1149.5,366.6 1150.0,369.7 1150.5,365.0 1151.0,373.3 1151.5,366.8 1152.0,370.5 1152.5,364.3 1153.0,370.9 1153.5,365.6 1154.0,372.8 1154.5,365.7 1155.0,370.5 1155.5,365.0 1156.0,370.3 1156.5,364.3 1157.0,369.8 1157.5,363.4 1158.0,368.2 1158.5,359.9 1159.0,366.0 1159.5,361.7 1160.0,366.0 1160.5,361.6 1161.0,367.4 1161.5,360.6 1162.0,364.1 1162.5,358.4 1163.0,361.8 1163.5,356.4 1164.0,364.2 1164.5,358.3 1165.0,364.0 1165.5,358.5 1166.0,364.1 1166.5,360.7 1167.0,367.1 1167.5,360.0 1168.0,366.2 1168.5,361.9 1169.0,366.7 1169.5,363.8 1170.0,369.2 1170.5,364.0 1171.0,369.5 1171.5,364.3 1172.0,370.1 1172.5,362.6 1173.0,369.6 1173.5,362.9 1174.0,374.9 1174.5,366.0 1175.0,370.5 1175.5,365.6 1176.0,372.4 1176.5,365.8 1177.0,371.1 1177.5,366.2 1178.0,372.6 1178.5,367.5 1179.0,372.5 1179.5,368.2 1180.0,371.4 1180.5,367.5 1181.0,374.7 1181.5,367.4 1182.0,372.9 1182.5,365.6 1183.0,370.4 1183.5,364.9 1184.0,372.7 1184.5,367.2 1185.0,371.6 1185.5,365.7 1186.0,372.6 1186.5,366.4 1187.0,371.5 1187.5,366.6 1188.0,371.5 1188.5,368.1 1189.0,373.9 1189.5,366.2 1190.0,373.9 1190.5,367.8 1191.0,372.7 1191.5,367.0 1192.0,371.5 1192.5,367.4 1193.0,371.7 1193.5,366.2 1194.0,373.8 1194.5,365.7 1195.0,372.6 1195.5,365.2 1196.0,373.1 1196.5,367.4 1197.0,374.0 1197.5,366.6 1198.0,377.4 1198.5,364.8 1199.0,372.2 1199.5,365.1 1200.0,372.8 1200.5,366.9 1201.0,371.3 1201.5,364.9 1202.0,373.8 1202.5,368.4 1203.0,371.7 1203.5,367.6 1204.0,372.8 1204.5,364.3 1205.0,372.9 1205.5,365.6 1206.0,372.7 1206.5,364.5 1207.0,373.5 1207.5,366.5 1208.0,372.4 1208.5,366.4 1209.0,371.3 1209.5,365.8 1210.0,372.6 1210.5,367.3 1211.0,372.2 1211.5,367.7 1212.0,372.5 1212.5,366.9 1213.0,372.9 1213.5,365.6 1214.0,368.9 1214.5,362.6 1215.0,369.4 1215.5,356.6 1216.0,368.3 1216.5,360.4 1217.0,367.8 1217.5,360.2 1218.0,366.9 1218.5,360.0 1219.0,363.6 1219.5,357.1 1220.0,364.7 1220.5,357.8 1221.0,364.6 1221.5,357.8 1222.0,363.7 1222.5,357.8 1223.0,363.3 1223.5,358.3 1224.0,364.1 1224.5,362.0 1225.0,365.4 1225.5,362.9 1226.0,369.3 1226.5,363.4 1227.0,368.2 1227.5,364.2 1228.0,369.8 1228.5,363.3 1229.0,368.8 1229.5,364.0 1230.0,369.8 1230.5,362.9 1231.0,370.7 1231.5,362.8 1232.0,371.0 1232.5,366.5 1233.0,374.1 1233.5,366.7 1234.0,373.3 1234.5,368.6 1235.0,376.5 1235.5,369.3 1236.0,375.3 1236.5,367.3 1237.0,373.6 1237.5,368.4 1238.0,372.7 1238.5,368.9 1239.0,374.8 1239.5,368.8 1240.0,372.7 1240.5,367.6 1241.0,374.0 1241.5,367.6 1242.0,372.6 1242.5,367.5 1243.0,374.1 1243.5,366.5 1244.0,373.6 1244.5,367.8 1245.0,373.9 1245.5,367.6 1246.0,373.8 1246.5,368.9 1247.0,374.9 1247.5,366.6 1248.0,374.7 1248.5,364.0 1249.0,373.7 1249.5,369.3 1250.0,372.6 1250.5,366.3 1251.0,374.0 1251.5,368.2 1252.0,374.2 1252.5,366.7 1253.0,371.4 1253.5,365.2 1254.0,371.2 1254.5,367.3 1255.0,374.3 1255.5,367.1 1256.0,373.5 1256.5,366.8 1257.0,373.1 1257.5,366.8 1258.0,371.3 1258.5,365.6 1259.0,372.5 1259.5,367.5 1260.0,371.9 1260.5,368.1 1261.0,372.8 1261.5,367.8 1262.0,372.9 1262.5,367.4 1263.0,372.9 1263.5,369.3 1264.0,373.6 1264.5,369.1 1265.0,375.3 1265.5,368.1 1266.0,372.3 1266.5,368.5 1267.0,372.5 1267.5,367.9 1268.0,372.7 1268.5,367.4 1269.0,375.0 1269.5,365.4 1270.0,371.9 1270.5,368.7 1271.0,374.8 1271.5,368.8 1272.0,372.9 1272.5,368.5 1273.0,373.4 1273.5,368.6 1274.0,373.4 1274.5,370.1 1275.0,374.5 1275.5,369.4 1276.0,376.1 1276.5,365.5 1277.0,373.8 1277.5,369.6 1278.0,374.3 1278.5,367.1 1279.0,374.7 1279.5,370.5 1280.0,374.6 1280.5,367.2 1281.0,373.5 1281.5,369.6 1282.0,372.9 1282.5,369.8 1283.0,374.6 1283.5,366.8 1284.0,373.7 1284.5,368.2 1285.0,373.3 1285.5,367.0 1286.0,374.5 1286.5,368.6 1287.0,372.0 1287.5,367.7 1288.0,374.3 1288.5,368.5 1289.0,372.3 1289.5,367.2 1290.0,371.8 1290.5,366.3 1291.0,372.3 1291.5,364.0 1292.0,372.0 1292.5,368.4 1293.0,374.5 1293.5,366.5 1294.0,375.7 1294.5,369.9 1295.0,372.6 1295.5,369.4 1296.0,373.4 1296.5,366.8 1297.0,373.0 1297.5,367.1 1298.0,374.7 1298.5,366.9 1299.0,373.4 1299.5,369.0 1300.0,372.4 1300.5,369.4 1301.0,372.5 1301.5,369.7 1302.0,373.9 1302.5,367.9 1303.0,372.7 1303.5,370.3 1304.0,373.8 1304.5,369.8 1305.0,376.8 1305.5,370.7 1306.0,373.7 1306.5,370.2 1307.0,374.6 1307.5,370.3 1308.0,373.9 1308.5,370.1 1309.0,376.3 1309.5,368.5 1310.0,373.0 1310.5,369.7 1311.0,374.4 1311.5,368.2 1312.0,373.3 1312.5,369.2 1313.0,374.0 1313.5,368.6 1314.0,372.9 1314.5,368.5 1315.0,373.5 1315.5,368.0 1316.0,374.0 1316.5,367.8 1317.0,374.6 1317.5,369.1 1318.0,373.8 1318.5,368.9 1319.0,375.5 1319.5,369.8 1320.0,373.8 1320.5,370.0 1321.0,374.1 1321.5,364.6 1322.0,372.4 1322.5,367.5 1323.0,373.5 1323.5,368.7 1324.0,373.1 1324.5,366.0 1325.0,372.7 1325.5,367.5 1326.0,373.3 1326.5,366.4 1327.0,372.5 1327.5,369.1 1328.0,373.4 1328.5,366.9 1329.0,374.1 1329.5,369.8 1330.0,373.1 1330.5,369.5 1331.0,374.3 1331.5,370.1 1332.0,372.4 1332.5,367.0 1333.0,373.6 1333.5,368.9 1334.0,375.9 1334.5,368.2 1335.0,375.7 1335.5,369.6 1336.0,375.9 1336.5,371.5 1337.0,376.2 1337.5,371.0 1338.0,376.7 1338.5,368.3 1339.0,374.4 1339.5,369.4 1340.0,373.2 1340.5,369.9 1341.0,373.4 1341.5,370.0 1342.0,375.3 1342.5,367.6 1343.0,374.4 1343.5,367.7 1344.0,375.3 1344.5,368.6 1345.0,374.6 1345.5,368.1 1346.0,372.8 1346.5,367.3 1347.0,374.2 1347.5,368.8 1348.0,373.0 1348.5,368.9 1349.0,372.2 1349.5,367.5 1350.0,372.9 1350.5,367.3 1351.0,372.8 1351.5,369.8 1352.0,374.4 1352.5,369.6 1353.0,372.9 1353.5,367.5 1354.0,374.1 1354.5,369.8 1355.0,374.4 1355.5,371.0 1356.0,374.7 1356.5,370.9 1357.0,375.6 1357.5,368.8 1358.0,375.6 1358.5,369.6 1359.0,374.2 1359.5,370.1 1360.0,376.2 1360.5,370.3 1361.0,374.9 1361.5,372.2 1362.0,377.6 1362.5,372.3 1363.0,380.5 1363.5,372.1 1364.0,376.1 1364.5,369.1 1365.0,374.5 1365.5,371.9 1366.0,375.3 1366.5,372.1 1367.0,377.4 1367.5,369.5 1368.0,375.5 1368.5,368.4 1369.0,374.3 1369.5,371.3 1370.0,374.7 1370.5,370.9 1371.0,375.9 1371.5,370.7 1372.0,374.5 1372.5,371.2 1373.0,376.6 1373.5,370.9 1374.0,375.2 1374.5,369.9 1375.0,376.4 1375.5,370.3 1376.0,374.8 1376.5,370.0 1377.0,375.2 1377.5,370.5 1378.0,373.9 1378.5,370.9 1379.0,374.5 1379.5,370.4 1380.0,377.4 1380.5,370.7 1381.0,377.0 1381.5,369.8 1382.0,375.9 1382.5,370.7 1383.0,375.1 1383.5,371.6 1384.0,376.5 1384.5,370.9 1385.0,374.4 1385.5,368.9 1386.0,374.7 1386.5,368.5 1387.0,378.5 1387.5,370.4 1388.0,374.6 1388.5,371.7 1389.0,376.0 1389.5,369.7 1390.0,374.6 1390.5,370.3 1391.0,376.0 1391.5,372.0 1392.0,376.3 1392.5,372.6 1393.0,375.3 1393.5,371.3 1394.0,377.6 1394.5,371.5 1395.0,377.4 1395.5,370.4 1396.0,376.0 1396.5,369.3 1397.0,377.6" stroke="#008000" stroke-width="1.5" fill="none" stroke-linejoin="round" />
<path d="M787.5,41 H1397.5 V473 H787.5 Z" stroke="#000" stroke-width="2.4" fill="none"/>
<line x1="787.50" y1="473.00" x2="1397.50" y2="473.00" stroke="#000" stroke-width="2.8" stroke-linecap="butt"/>
<line x1="787.50" y1="401.80" x2="1397.50" y2="401.80" stroke="#000" stroke-width="2" stroke-linecap="butt"/>
<line x1="787.50" y1="427.10" x2="1397.50" y2="427.10" stroke="#000" stroke-width="2" stroke-linecap="butt"/>
<line x1="787.50" y1="452.50" x2="1397.50" y2="452.50" stroke="#000" stroke-width="2" stroke-linecap="butt"/>
<line x1="944.00" y1="401.80" x2="944.00" y2="381.00" stroke="#000" stroke-width="2" stroke-linecap="butt"/>
<line x1="961.00" y1="401.80" x2="961.00" y2="399.40" stroke="#000" stroke-width="2" stroke-linecap="butt"/>
<line x1="1021.70" y1="401.80" x2="1021.70" y2="397.20" stroke="#000" stroke-width="2" stroke-linecap="butt"/>
<line x1="1127.00" y1="401.80" x2="1127.00" y2="398.80" stroke="#000" stroke-width="2" stroke-linecap="butt"/>
<line x1="890.51" y1="401.80" x2="890.51" y2="395.00" stroke="#000" stroke-width="2" stroke-linecap="butt"/>
<line x1="1162.80" y1="401.80" x2="1162.80" y2="394.90" stroke="#000" stroke-width="2" stroke-linecap="butt"/>
<line x1="1219.70" y1="401.80" x2="1219.70" y2="393.00" stroke="#000" stroke-width="2" stroke-linecap="butt"/>
<line x1="1252.70" y1="401.80" x2="1252.70" y2="399.50" stroke="#000" stroke-width="2" stroke-linecap="butt"/>
<line x1="1305.50" y1="401.80" x2="1305.50" y2="399.50" stroke="#000" stroke-width="2" stroke-linecap="butt"/>
<line x1="1336.00" y1="401.80" x2="1336.00" y2="398.80" stroke="#000" stroke-width="2" stroke-linecap="butt"/>
<line x1="1346.50" y1="401.80" x2="1346.50" y2="399.50" stroke="#000" stroke-width="2" stroke-linecap="butt"/>
<line x1="1386.50" y1="401.80" x2="1386.50" y2="399.50" stroke="#000" stroke-width="2" stroke-linecap="butt"/>
<line x1="946.40" y1="427.10" x2="946.40" y2="406.10" stroke="#000" stroke-width="2" stroke-linecap="butt"/>
<line x1="962.00" y1="427.10" x2="962.00" y2="424.00" stroke="#000" stroke-width="2" stroke-linecap="butt"/>
<line x1="1021.50" y1="427.10" x2="1021.50" y2="420.00" stroke="#000" stroke-width="2" stroke-linecap="butt"/>
<line x1="890.51" y1="427.10" x2="890.51" y2="416.50" stroke="#000" stroke-width="2" stroke-linecap="butt"/>
<line x1="1163.80" y1="427.10" x2="1163.80" y2="418.40" stroke="#000" stroke-width="2" stroke-linecap="butt"/>
<line x1="1222.20" y1="427.10" x2="1222.20" y2="414.30" stroke="#000" stroke-width="2" stroke-linecap="butt"/>
<line x1="1342.20" y1="427.10" x2="1342.20" y2="422.20" stroke="#000" stroke-width="2" stroke-linecap="butt"/>
<line x1="1393.00" y1="427.10" x2="1393.00" y2="424.00" stroke="#000" stroke-width="2" stroke-linecap="butt"/>
<line x1="1024.40" y1="452.50" x2="1024.40" y2="431.50" stroke="#000" stroke-width="2" stroke-linecap="butt"/>
<line x1="1096.70" y1="452.50" x2="1096.70" y2="442.80" stroke="#000" stroke-width="2" stroke-linecap="butt"/>
<line x1="1337.90" y1="452.50" x2="1337.90" y2="447.30" stroke="#000" stroke-width="2" stroke-linecap="butt"/>
<line x1="788.00" y1="473.00" x2="788.00" y2="481.50" stroke="#000" stroke-width="2.6" stroke-linecap="butt"/>
<line x1="889.50" y1="473.00" x2="889.50" y2="477.50" stroke="#000" stroke-width="2.6" stroke-linecap="butt"/>
<line x1="991.00" y1="473.00" x2="991.00" y2="481.50" stroke="#000" stroke-width="2.6" stroke-linecap="butt"/>
<line x1="1092.50" y1="473.00" x2="1092.50" y2="477.50" stroke="#000" stroke-width="2.6" stroke-linecap="butt"/>
<line x1="1194.00" y1="473.00" x2="1194.00" y2="481.50" stroke="#000" stroke-width="2.6" stroke-linecap="butt"/>
<line x1="1295.50" y1="473.00" x2="1295.50" y2="477.50" stroke="#000" stroke-width="2.6" stroke-linecap="butt"/>
<line x1="1397.00" y1="473.00" x2="1397.00" y2="481.50" stroke="#000" stroke-width="2.6" stroke-linecap="butt"/>
<text x="1292.09" y="80.20" font-family="Liberation Sans" font-weight="bold" font-size="20.6" fill="#000" textLength="94.42" lengthAdjust="spacingAndGlyphs">Fe/Cu = 0</text>
<text x="1292.09" y="131.50" font-family="Liberation Sans" font-weight="bold" font-size="20.6" fill="#000" textLength="94.42" lengthAdjust="spacingAndGlyphs">Fe/Cu = 2</text>
<text x="1291.33" y="186.30" font-family="Liberation Sans" font-weight="bold" font-size="20.6" fill="#000" textLength="94.42" lengthAdjust="spacingAndGlyphs">Fe/Cu = 4</text>
<text x="1291.84" y="236.30" font-family="Liberation Sans" font-weight="bold" font-size="20.6" fill="#000" textLength="94.42" lengthAdjust="spacingAndGlyphs">Fe/Cu = 5</text>
<text x="1276.18" y="291.00" font-family="Liberation Sans" font-weight="bold" font-size="20.6" fill="#000" textLength="112.02" lengthAdjust="spacingAndGlyphs">Fe/Cu = 5.5</text>
<text x="1291.96" y="358.90" font-family="Liberation Sans" font-weight="bold" font-size="20.6" fill="#000" textLength="94.42" lengthAdjust="spacingAndGlyphs">Fe/Cu = 6</text>
<text x="792" y="391.3" font-family="Liberation Sans" font-weight="bold" font-size="19.5">Fe<tspan font-size="10.5">3</tspan>O<tspan font-size="10.5">4</tspan></text>
<text x="792" y="419.6" font-family="Liberation Sans" font-weight="bold" font-size="19.5">CuFe<tspan font-size="10.5">2</tspan>O<tspan font-size="10.5">4</tspan></text>
<text x="792" y="444.7" font-family="Liberation Sans" font-weight="bold" font-size="19.5">Cu</text>
<text x="776.69" y="501.55" font-family="Liberation Sans" font-weight="bold" font-size="19.5" fill="#000" textLength="22.82" lengthAdjust="spacingAndGlyphs">20</text>
<text x="980.09" y="501.55" font-family="Liberation Sans" font-weight="bold" font-size="19.5" fill="#000" textLength="22.40" lengthAdjust="spacingAndGlyphs">40</text>
<text x="1182.56" y="501.55" font-family="Liberation Sans" font-weight="bold" font-size="19.5" fill="#000" textLength="22.96" lengthAdjust="spacingAndGlyphs">60</text>
<text x="1385.69" y="501.55" font-family="Liberation Sans" font-weight="bold" font-size="19.5" fill="#000" textLength="22.82" lengthAdjust="spacingAndGlyphs">80</text>
<text x="1001.74" y="541.00" font-family="Liberation Sans" font-weight="bold" font-size="24.7" fill="#000" textLength="182.03" lengthAdjust="spacingAndGlyphs">2 theta (degree)</text>
<text transform="translate(766.40,315.86) rotate(-90)" x="0" y="0" font-family="Liberation Sans" font-weight="bold" font-size="24.3" textLength="167.43" lengthAdjust="spacingAndGlyphs">Intensity (a.u.)</text>
<text x="707.38" y="40.10" font-family="Liberation Serif" font-weight="normal" font-size="37.5" fill="#000" textLength="43.51" lengthAdjust="spacingAndGlyphs">(b)</text>
<line x1="378.50" y1="572.00" x2="378.50" y2="983.30" stroke="#000" stroke-width="2.2" stroke-linecap="butt"/>
<line x1="98.00" y1="777.30" x2="658.30" y2="777.30" stroke="#000" stroke-width="2.2" stroke-linecap="butt"/>
<rect x="380.87" y="738.53" width="8" height="8" fill="#000"/>
<rect x="387.23" y="729.90" width="8" height="8" fill="#000"/>
<rect x="393.60" y="725.21" width="8" height="8" fill="#000"/>
<rect x="399.96" y="722.34" width="8" height="8" fill="#000"/>
<rect x="425.42" y="716.34" width="8" height="8" fill="#000"/>
<rect x="450.88" y="713.29" width="8" height="8" fill="#000"/>
<rect x="476.34" y="711.49" width="8" height="8" fill="#000"/>
<rect x="501.80" y="710.42" width="8" height="8" fill="#000"/>
<rect x="527.26" y="709.18" width="8" height="8" fill="#000"/>
<rect x="552.72" y="708.28" width="8" height="8" fill="#000"/>
<rect x="578.18" y="707.62" width="8" height="8" fill="#000"/>
<rect x="603.64" y="707.13" width="8" height="8" fill="#000"/>
<rect x="629.10" y="706.72" width="8" height="8" fill="#000"/>
<rect x="368.13" y="808.07" width="8" height="8" fill="#000"/>
<rect x="361.77" y="816.70" width="8" height="8" fill="#000"/>
<rect x="355.40" y="821.39" width="8" height="8" fill="#000"/>
<rect x="349.04" y="824.26" width="8" height="8" fill="#000"/>
<rect x="323.58" y="830.26" width="8" height="8" fill="#000"/>
<rect x="298.12" y="833.31" width="8" height="8" fill="#000"/>
<rect x="272.66" y="835.11" width="8" height="8" fill="#000"/>
<rect x="247.20" y="836.18" width="8" height="8" fill="#000"/>
<rect x="221.74" y="837.42" width="8" height="8" fill="#000"/>
<rect x="196.28" y="838.32" width="8" height="8" fill="#000"/>
<rect x="170.82" y="838.98" width="8" height="8" fill="#000"/>
<rect x="145.36" y="839.47" width="8" height="8" fill="#000"/>
<rect x="119.90" y="839.88" width="8" height="8" fill="#000"/>
<rect x="374.50" y="773.30" width="8" height="8" fill="#000"/>
<circle cx="384.87" cy="704.31" r="4.6" fill="#FF0000"/>
<circle cx="391.23" cy="689.10" r="4.6" fill="#FF0000"/>
<circle cx="397.60" cy="680.96" r="4.6" fill="#FF0000"/>
<circle cx="403.96" cy="676.28" r="4.6" fill="#FF0000"/>
<circle cx="429.42" cy="667.73" r="4.6" fill="#FF0000"/>
<circle cx="454.88" cy="663.78" r="4.6" fill="#FF0000"/>
<circle cx="480.34" cy="661.48" r="4.6" fill="#FF0000"/>
<circle cx="505.80" cy="659.92" r="4.6" fill="#FF0000"/>
<circle cx="531.26" cy="658.93" r="4.6" fill="#FF0000"/>
<circle cx="556.72" cy="658.03" r="4.6" fill="#FF0000"/>
<circle cx="582.18" cy="657.12" r="4.6" fill="#FF0000"/>
<circle cx="607.64" cy="656.38" r="4.6" fill="#FF0000"/>
<circle cx="633.10" cy="655.89" r="4.6" fill="#FF0000"/>
<circle cx="372.13" cy="850.40" r="4.6" fill="#FF0000"/>
<circle cx="365.77" cy="865.71" r="4.6" fill="#FF0000"/>
<circle cx="359.40" cy="873.95" r="4.6" fill="#FF0000"/>
<circle cx="353.04" cy="878.73" r="4.6" fill="#FF0000"/>
<circle cx="327.58" cy="887.69" r="4.6" fill="#FF0000"/>
<circle cx="302.12" cy="891.64" r="4.6" fill="#FF0000"/>
<circle cx="276.66" cy="893.94" r="4.6" fill="#FF0000"/>
<circle cx="251.20" cy="895.50" r="4.6" fill="#FF0000"/>
<circle cx="225.74" cy="896.49" r="4.6" fill="#FF0000"/>
<circle cx="200.28" cy="897.39" r="4.6" fill="#FF0000"/>
<circle cx="174.82" cy="898.30" r="4.6" fill="#FF0000"/>
<circle cx="149.36" cy="899.04" r="4.6" fill="#FF0000"/>
<circle cx="123.90" cy="899.53" r="4.6" fill="#FF0000"/>
<circle cx="378.50" cy="777.30" r="4.6" fill="#FF0000"/>
<circle cx="383.59" cy="700.85" r="4.6" fill="#FF0000"/>
<circle cx="373.41" cy="853.75" r="4.6" fill="#FF0000"/>
<path d="M384.87,678.88 L390.62,688.88 L379.12,688.88 Z" fill="#0000FF"/>
<path d="M391.23,658.57 L396.98,668.57 L385.48,668.57 Z" fill="#0000FF"/>
<path d="M397.60,650.44 L403.35,660.44 L391.85,660.44 Z" fill="#0000FF"/>
<path d="M403.96,643.94 L409.71,653.94 L398.21,653.94 Z" fill="#0000FF"/>
<path d="M429.42,634.08 L435.17,644.08 L423.67,644.08 Z" fill="#0000FF"/>
<path d="M454.88,629.39 L460.63,639.39 L449.13,639.39 Z" fill="#0000FF"/>
<path d="M480.34,626.19 L486.09,636.19 L474.59,636.19 Z" fill="#0000FF"/>
<path d="M505.80,623.89 L511.55,633.89 L500.05,633.89 Z" fill="#0000FF"/>
<path d="M531.26,622.32 L537.01,632.32 L525.51,632.32 Z" fill="#0000FF"/>
<path d="M556.72,621.26 L562.47,631.26 L550.97,631.26 Z" fill="#0000FF"/>
<path d="M582.18,620.19 L587.93,630.19 L576.43,630.19 Z" fill="#0000FF"/>
<path d="M607.64,619.78 L613.39,629.78 L601.89,629.78 Z" fill="#0000FF"/>
<path d="M633.10,618.95 L638.85,628.95 L627.35,628.95 Z" fill="#0000FF"/>
<path d="M372.13,863.86 L377.88,873.86 L366.38,873.86 Z" fill="#0000FF"/>
<path d="M365.77,883.70 L371.52,893.70 L360.02,893.70 Z" fill="#0000FF"/>
<path d="M359.40,891.38 L365.15,901.38 L353.65,901.38 Z" fill="#0000FF"/>
<path d="M353.04,897.41 L358.79,907.41 L347.29,907.41 Z" fill="#0000FF"/>
<path d="M327.58,905.42 L333.33,915.42 L321.83,915.42 Z" fill="#0000FF"/>
<path d="M302.12,910.11 L307.87,920.11 L296.37,920.11 Z" fill="#0000FF"/>
<path d="M276.66,913.31 L282.41,923.31 L270.91,923.31 Z" fill="#0000FF"/>
<path d="M251.20,915.61 L256.95,925.61 L245.45,925.61 Z" fill="#0000FF"/>
<path d="M225.74,917.18 L231.49,927.18 L219.99,927.18 Z" fill="#0000FF"/>
<path d="M200.28,918.24 L206.03,928.24 L194.53,928.24 Z" fill="#0000FF"/>
<path d="M174.82,919.31 L180.57,929.31 L169.07,929.31 Z" fill="#0000FF"/>
<path d="M149.36,919.72 L155.11,929.72 L143.61,929.72 Z" fill="#0000FF"/>
<path d="M123.90,920.55 L129.65,930.55 L118.15,930.55 Z" fill="#0000FF"/>
<path d="M378.50,759.27 L384.25,769.27 L372.75,769.27 Z" fill="#0000FF"/>
<path d="M378.50,783.11 L384.25,793.11 L372.75,793.11 Z" fill="#0000FF"/>
<path d="M379.12,666.51 L390.62,666.51 L384.87,676.01 Z" fill="#FF00FF"/>
<path d="M385.48,645.14 L396.98,645.14 L391.23,654.64 Z" fill="#FF00FF"/>
<path d="M391.85,634.95 L403.35,634.95 L397.60,644.45 Z" fill="#FF00FF"/>
<path d="M398.21,628.86 L409.71,628.86 L403.96,638.36 Z" fill="#FF00FF"/>
<path d="M423.67,618.42 L435.17,618.42 L429.42,627.92 Z" fill="#FF00FF"/>
<path d="M449.13,613.16 L460.63,613.16 L454.88,622.66 Z" fill="#FF00FF"/>
<path d="M474.59,610.53 L486.09,610.53 L480.34,620.03 Z" fill="#FF00FF"/>
<path d="M500.05,608.48 L511.55,608.48 L505.80,617.98 Z" fill="#FF00FF"/>
<path d="M525.51,607.08 L537.01,607.08 L531.26,616.58 Z" fill="#FF00FF"/>
<path d="M550.97,605.77 L562.47,605.77 L556.72,615.27 Z" fill="#FF00FF"/>
<path d="M576.43,604.86 L587.93,604.86 L582.18,614.36 Z" fill="#FF00FF"/>
<path d="M601.89,604.37 L613.39,604.37 L607.64,613.87 Z" fill="#FF00FF"/>
<path d="M627.35,603.88 L638.85,603.88 L633.10,613.38 Z" fill="#FF00FF"/>
<path d="M366.38,878.93 L377.88,878.93 L372.13,888.43 Z" fill="#FF00FF"/>
<path d="M360.02,900.64 L371.52,900.64 L365.77,910.14 Z" fill="#FF00FF"/>
<path d="M353.65,911.17 L365.15,911.17 L359.40,920.67 Z" fill="#FF00FF"/>
<path d="M347.29,917.59 L358.79,917.59 L353.04,927.09 Z" fill="#FF00FF"/>
<path d="M321.83,929.39 L333.33,929.39 L327.58,938.89 Z" fill="#FF00FF"/>
<path d="M296.37,934.65 L307.87,934.65 L302.12,944.15 Z" fill="#FF00FF"/>
<path d="M270.91,937.28 L282.41,937.28 L276.66,946.78 Z" fill="#FF00FF"/>
<path d="M245.45,939.33 L256.95,939.33 L251.20,948.83 Z" fill="#FF00FF"/>
<path d="M219.99,940.73 L231.49,940.73 L225.74,950.23 Z" fill="#FF00FF"/>
<path d="M194.53,942.05 L206.03,942.05 L200.28,951.55 Z" fill="#FF00FF"/>
<path d="M169.07,942.95 L180.57,942.95 L174.82,952.45 Z" fill="#FF00FF"/>
<path d="M143.61,943.44 L155.11,943.44 L149.36,952.94 Z" fill="#FF00FF"/>
<path d="M118.15,943.94 L129.65,943.94 L123.90,953.44 Z" fill="#FF00FF"/>
<path d="M372.75,760.22 L384.25,760.22 L378.50,769.72 Z" fill="#FF00FF"/>
<path d="M372.75,784.88 L384.25,784.88 L378.50,794.38 Z" fill="#FF00FF"/>
<path d="M377.84,659.11 L389.34,659.11 L383.59,668.61 Z" fill="#FF00FF"/>
<path d="M367.66,885.99 L379.16,885.99 L373.41,895.49 Z" fill="#FF00FF"/>
<path d="M384.87,681.29 L390.62,687.04 L384.87,692.79 L379.12,687.04 Z" fill="#008000"/>
<path d="M391.23,661.81 L396.98,667.56 L391.23,673.31 L385.48,667.56 Z" fill="#008000"/>
<path d="M397.60,653.68 L403.35,659.43 L397.60,665.18 L391.85,659.43 Z" fill="#008000"/>
<path d="M403.96,647.59 L409.71,653.34 L403.96,659.09 L398.21,653.34 Z" fill="#008000"/>
<path d="M429.42,638.14 L435.17,643.89 L429.42,649.64 L423.67,643.89 Z" fill="#008000"/>
<path d="M454.88,633.87 L460.63,639.62 L454.88,645.37 L449.13,639.62 Z" fill="#008000"/>
<path d="M480.34,631.07 L486.09,636.82 L480.34,642.57 L474.59,636.82 Z" fill="#008000"/>
<path d="M505.80,628.93 L511.55,634.68 L505.80,640.43 L500.05,634.68 Z" fill="#008000"/>
<path d="M531.26,627.54 L537.01,633.29 L531.26,639.04 L525.51,633.29 Z" fill="#008000"/>
<path d="M556.72,626.63 L562.47,632.38 L556.72,638.13 L550.97,632.38 Z" fill="#008000"/>
<path d="M582.18,625.73 L587.93,631.48 L582.18,637.23 L576.43,631.48 Z" fill="#008000"/>
<path d="M607.64,625.48 L613.39,631.23 L607.64,636.98 L601.89,631.23 Z" fill="#008000"/>
<path d="M633.10,624.82 L638.85,630.57 L633.10,636.32 L627.35,630.57 Z" fill="#008000"/>
<path d="M372.13,861.96 L377.88,867.71 L372.13,873.46 L366.38,867.71 Z" fill="#008000"/>
<path d="M365.77,881.60 L371.52,887.35 L365.77,893.10 L360.02,887.35 Z" fill="#008000"/>
<path d="M359.40,889.89 L365.15,895.64 L359.40,901.39 L353.65,895.64 Z" fill="#008000"/>
<path d="M353.04,896.12 L358.79,901.87 L353.04,907.62 L347.29,901.87 Z" fill="#008000"/>
<path d="M327.58,906.19 L333.33,911.94 L327.58,917.69 L321.83,911.94 Z" fill="#008000"/>
<path d="M302.12,910.47 L307.87,916.22 L302.12,921.97 L296.37,916.22 Z" fill="#008000"/>
<path d="M276.66,913.26 L282.41,919.01 L276.66,924.76 L270.91,919.01 Z" fill="#008000"/>
<path d="M251.20,915.40 L256.95,921.15 L251.20,926.90 L245.45,921.15 Z" fill="#008000"/>
<path d="M225.74,916.80 L231.49,922.55 L225.74,928.30 L219.99,922.55 Z" fill="#008000"/>
<path d="M200.28,917.70 L206.03,923.45 L200.28,929.20 L194.53,923.45 Z" fill="#008000"/>
<path d="M174.82,918.61 L180.57,924.36 L174.82,930.11 L169.07,924.36 Z" fill="#008000"/>
<path d="M149.36,918.85 L155.11,924.60 L149.36,930.35 L143.61,924.60 Z" fill="#008000"/>
<path d="M123.90,919.51 L129.65,925.26 L123.90,931.01 L118.15,925.26 Z" fill="#008000"/>
<path d="M378.50,760.04 L384.25,765.79 L378.50,771.54 L372.75,765.79 Z" fill="#008000"/>
<path d="M378.50,783.06 L384.25,788.81 L378.50,794.56 L372.75,788.81 Z" fill="#008000"/>
<path d="M98,572 H658.3 V983.3 H98 Z" stroke="#000" stroke-width="3" fill="none"/>
<line x1="93.20" y1="982.80" x2="98.00" y2="982.80" stroke="#000" stroke-width="2.6" stroke-linecap="butt"/>
<line x1="89.00" y1="941.70" x2="98.00" y2="941.70" stroke="#000" stroke-width="2.6" stroke-linecap="butt"/>
<line x1="93.20" y1="900.60" x2="98.00" y2="900.60" stroke="#000" stroke-width="2.6" stroke-linecap="butt"/>
<line x1="89.00" y1="859.50" x2="98.00" y2="859.50" stroke="#000" stroke-width="2.6" stroke-linecap="butt"/>
<line x1="93.20" y1="818.40" x2="98.00" y2="818.40" stroke="#000" stroke-width="2.6" stroke-linecap="butt"/>
<line x1="89.00" y1="777.30" x2="98.00" y2="777.30" stroke="#000" stroke-width="2.6" stroke-linecap="butt"/>
<line x1="93.20" y1="736.20" x2="98.00" y2="736.20" stroke="#000" stroke-width="2.6" stroke-linecap="butt"/>
<line x1="89.00" y1="695.10" x2="98.00" y2="695.10" stroke="#000" stroke-width="2.6" stroke-linecap="butt"/>
<line x1="93.20" y1="654.00" x2="98.00" y2="654.00" stroke="#000" stroke-width="2.6" stroke-linecap="butt"/>
<line x1="89.00" y1="612.90" x2="98.00" y2="612.90" stroke="#000" stroke-width="2.6" stroke-linecap="butt"/>
<line x1="93.20" y1="571.80" x2="98.00" y2="571.80" stroke="#000" stroke-width="2.6" stroke-linecap="butt"/>
<line x1="123.90" y1="983.30" x2="123.90" y2="991.80" stroke="#000" stroke-width="2.6" stroke-linecap="butt"/>
<line x1="187.55" y1="983.30" x2="187.55" y2="988.10" stroke="#000" stroke-width="2.6" stroke-linecap="butt"/>
<line x1="251.20" y1="983.30" x2="251.20" y2="991.80" stroke="#000" stroke-width="2.6" stroke-linecap="butt"/>
<line x1="314.85" y1="983.30" x2="314.85" y2="988.10" stroke="#000" stroke-width="2.6" stroke-linecap="butt"/>
<line x1="378.50" y1="983.30" x2="378.50" y2="991.80" stroke="#000" stroke-width="2.6" stroke-linecap="butt"/>
<line x1="442.15" y1="983.30" x2="442.15" y2="988.10" stroke="#000" stroke-width="2.6" stroke-linecap="butt"/>
<line x1="505.80" y1="983.30" x2="505.80" y2="991.80" stroke="#000" stroke-width="2.6" stroke-linecap="butt"/>
<line x1="569.45" y1="983.30" x2="569.45" y2="988.10" stroke="#000" stroke-width="2.6" stroke-linecap="butt"/>
<line x1="633.10" y1="983.30" x2="633.10" y2="991.80" stroke="#000" stroke-width="2.6" stroke-linecap="butt"/>
<rect x="112.70" y="586.00" width="8" height="8" fill="#000"/>
<circle cx="116.70" cy="617.40" r="4.6" fill="#FF0000"/>
<path d="M116.70,639.10 L122.45,649.10 L110.95,649.10 Z" fill="#0000FF"/>
<path d="M110.95,667.45 L122.45,667.45 L116.70,676.95 Z" fill="#FF00FF"/>
<path d="M116.70,693.85 L122.45,699.60 L116.70,705.35 L110.95,699.60 Z" fill="#008000"/>
<text x="148.19" y="597.90" font-family="Liberation Sans" font-weight="bold" font-size="21.5" fill="#000" textLength="98.65" lengthAdjust="spacingAndGlyphs">Fe/Cu = 2</text>
<text x="148.19" y="625.30" font-family="Liberation Sans" font-weight="bold" font-size="21.5" fill="#000" textLength="98.65" lengthAdjust="spacingAndGlyphs">Fe/Cu = 4</text>
<text x="148.19" y="652.70" font-family="Liberation Sans" font-weight="bold" font-size="21.5" fill="#000" textLength="98.65" lengthAdjust="spacingAndGlyphs">Fe/Cu = 5</text>
<text x="148.19" y="680.10" font-family="Liberation Sans" font-weight="bold" font-size="21.5" fill="#000" textLength="117.04" lengthAdjust="spacingAndGlyphs">Fe/Cu = 5.5</text>
<text x="148.19" y="707.50" font-family="Liberation Sans" font-weight="bold" font-size="21.5" fill="#000" textLength="98.65" lengthAdjust="spacingAndGlyphs">Fe/Cu = 6</text>
<text x="60.66" y="619.55" font-family="Liberation Sans" font-weight="bold" font-size="21.3" fill="#000" textLength="23.40" lengthAdjust="spacingAndGlyphs">20</text>
<text x="60.66" y="701.75" font-family="Liberation Sans" font-weight="bold" font-size="21.3" fill="#000" textLength="23.40" lengthAdjust="spacingAndGlyphs">10</text>
<text x="72.41" y="783.95" font-family="Liberation Sans" font-weight="bold" font-size="21.3" fill="#000" textLength="11.70" lengthAdjust="spacingAndGlyphs">0</text>
<text x="48.41" y="866.15" font-family="Liberation Sans" font-weight="bold" font-size="21.3" fill="#000" textLength="35.68" lengthAdjust="spacingAndGlyphs">−10</text>
<text x="48.41" y="948.35" font-family="Liberation Sans" font-weight="bold" font-size="21.3" fill="#000" textLength="35.68" lengthAdjust="spacingAndGlyphs">−20</text>
<text x="109.06" y="1014.50" font-family="Liberation Sans" font-weight="bold" font-size="21.3" fill="#000" textLength="23.98" lengthAdjust="spacingAndGlyphs">−2</text>
<text x="236.12" y="1014.50" font-family="Liberation Sans" font-weight="bold" font-size="21.3" fill="#000" textLength="23.98" lengthAdjust="spacingAndGlyphs">−1</text>
<text x="372.62" y="1014.25" font-family="Liberation Sans" font-weight="bold" font-size="21.3" fill="#000" textLength="11.70" lengthAdjust="spacingAndGlyphs">0</text>
<text x="499.55" y="1014.50" font-family="Liberation Sans" font-weight="bold" font-size="21.3" fill="#000" textLength="11.70" lengthAdjust="spacingAndGlyphs">1</text>
<text x="627.28" y="1014.50" font-family="Liberation Sans" font-weight="bold" font-size="21.3" fill="#000" textLength="11.70" lengthAdjust="spacingAndGlyphs">2</text>
<text x="246.50" y="1055.00" font-family="Liberation Sans" font-weight="bold" font-size="26.2" fill="#000" textLength="264.44" lengthAdjust="spacingAndGlyphs">Magnetic Field (Tesla)</text>
<text transform="translate(46.70,857.36) rotate(-90)" x="0" y="0" font-family="Liberation Sans" font-weight="bold" font-size="27.5" textLength="199.73" lengthAdjust="spacingAndGlyphs">Moment (emu/g)</text>
<text x="8.49" y="565.60" font-family="Liberation Serif" font-weight="normal" font-size="37.5" fill="#000" textLength="38.61" lengthAdjust="spacingAndGlyphs">(c)</text>
<rect x="863.58" y="980.19" width="54.5" height="5.31" fill="#FF0000" stroke="#000" stroke-width="2.6"/>
<rect x="940.84" y="926.80" width="54.5" height="58.70" fill="#FF0000" stroke="#000" stroke-width="2.6"/>
<line x1="968.09" y1="923.34" x2="968.09" y2="930.52" stroke="#000" stroke-width="2.6" stroke-linecap="butt"/>
<line x1="963.09" y1="923.34" x2="973.09" y2="923.34" stroke="#000" stroke-width="2.6" stroke-linecap="butt"/>
<line x1="963.09" y1="930.52" x2="973.09" y2="930.52" stroke="#000" stroke-width="2.6" stroke-linecap="butt"/>
<rect x="1018.09" y="627.97" width="54.5" height="357.53" fill="#FF0000" stroke="#000" stroke-width="2.6"/>
<line x1="1045.34" y1="596.62" x2="1045.34" y2="659.31" stroke="#000" stroke-width="2.6" stroke-linecap="butt"/>
<line x1="1040.34" y1="596.62" x2="1050.34" y2="596.62" stroke="#000" stroke-width="2.6" stroke-linecap="butt"/>
<line x1="1040.34" y1="659.31" x2="1050.34" y2="659.31" stroke="#000" stroke-width="2.6" stroke-linecap="butt"/>
<rect x="1095.35" y="737.41" width="54.5" height="248.09" fill="#FF0000" stroke="#000" stroke-width="2.6"/>
<line x1="1122.60" y1="724.12" x2="1122.60" y2="750.16" stroke="#000" stroke-width="2.6" stroke-linecap="butt"/>
<line x1="1117.60" y1="724.12" x2="1127.60" y2="724.12" stroke="#000" stroke-width="2.6" stroke-linecap="butt"/>
<line x1="1117.60" y1="750.16" x2="1127.60" y2="750.16" stroke="#000" stroke-width="2.6" stroke-linecap="butt"/>
<rect x="1172.61" y="801.16" width="54.5" height="184.34" fill="#FF0000" stroke="#000" stroke-width="2.6"/>
<line x1="1199.86" y1="789.47" x2="1199.86" y2="812.31" stroke="#000" stroke-width="2.6" stroke-linecap="butt"/>
<line x1="1194.86" y1="789.47" x2="1204.86" y2="789.47" stroke="#000" stroke-width="2.6" stroke-linecap="butt"/>
<line x1="1194.86" y1="812.31" x2="1204.86" y2="812.31" stroke="#000" stroke-width="2.6" stroke-linecap="butt"/>
<rect x="1249.86" y="855.88" width="54.5" height="129.62" fill="#FF0000" stroke="#000" stroke-width="2.6"/>
<line x1="1277.11" y1="842.06" x2="1277.11" y2="869.69" stroke="#000" stroke-width="2.6" stroke-linecap="butt"/>
<line x1="1272.11" y1="842.06" x2="1282.11" y2="842.06" stroke="#000" stroke-width="2.6" stroke-linecap="butt"/>
<line x1="1272.11" y1="869.69" x2="1282.11" y2="869.69" stroke="#000" stroke-width="2.6" stroke-linecap="butt"/>
<rect x="1327.12" y="846.31" width="54.5" height="139.19" fill="#FF0000" stroke="#000" stroke-width="2.6"/>
<line x1="1354.37" y1="836.22" x2="1354.37" y2="855.88" stroke="#000" stroke-width="2.6" stroke-linecap="butt"/>
<line x1="1349.37" y1="836.22" x2="1359.37" y2="836.22" stroke="#000" stroke-width="2.6" stroke-linecap="butt"/>
<line x1="1349.37" y1="855.88" x2="1359.37" y2="855.88" stroke="#000" stroke-width="2.6" stroke-linecap="butt"/>
<path d="M852.2,560.5 H1393 V985.5 H852.2 Z" stroke="#000" stroke-width="3" fill="none"/>
<line x1="843.20" y1="985.50" x2="852.20" y2="985.50" stroke="#000" stroke-width="2.6" stroke-linecap="butt"/>
<line x1="847.40" y1="958.94" x2="852.20" y2="958.94" stroke="#000" stroke-width="2.6" stroke-linecap="butt"/>
<line x1="843.20" y1="932.38" x2="852.20" y2="932.38" stroke="#000" stroke-width="2.6" stroke-linecap="butt"/>
<line x1="847.40" y1="905.81" x2="852.20" y2="905.81" stroke="#000" stroke-width="2.6" stroke-linecap="butt"/>
<line x1="843.20" y1="879.25" x2="852.20" y2="879.25" stroke="#000" stroke-width="2.6" stroke-linecap="butt"/>
<line x1="847.40" y1="852.69" x2="852.20" y2="852.69" stroke="#000" stroke-width="2.6" stroke-linecap="butt"/>
<line x1="843.20" y1="826.12" x2="852.20" y2="826.12" stroke="#000" stroke-width="2.6" stroke-linecap="butt"/>
<line x1="847.40" y1="799.56" x2="852.20" y2="799.56" stroke="#000" stroke-width="2.6" stroke-linecap="butt"/>
<line x1="843.20" y1="773.00" x2="852.20" y2="773.00" stroke="#000" stroke-width="2.6" stroke-linecap="butt"/>
<line x1="847.40" y1="746.44" x2="852.20" y2="746.44" stroke="#000" stroke-width="2.6" stroke-linecap="butt"/>
<line x1="843.20" y1="719.88" x2="852.20" y2="719.88" stroke="#000" stroke-width="2.6" stroke-linecap="butt"/>
<line x1="847.40" y1="693.31" x2="852.20" y2="693.31" stroke="#000" stroke-width="2.6" stroke-linecap="butt"/>
<line x1="843.20" y1="666.75" x2="852.20" y2="666.75" stroke="#000" stroke-width="2.6" stroke-linecap="butt"/>
<line x1="847.40" y1="640.19" x2="852.20" y2="640.19" stroke="#000" stroke-width="2.6" stroke-linecap="butt"/>
<line x1="843.20" y1="613.62" x2="852.20" y2="613.62" stroke="#000" stroke-width="2.6" stroke-linecap="butt"/>
<line x1="847.40" y1="587.06" x2="852.20" y2="587.06" stroke="#000" stroke-width="2.6" stroke-linecap="butt"/>
<line x1="843.20" y1="560.50" x2="852.20" y2="560.50" stroke="#000" stroke-width="2.6" stroke-linecap="butt"/>
<line x1="852.20" y1="985.50" x2="852.20" y2="991.50" stroke="#000" stroke-width="2.6" stroke-linecap="butt"/>
<line x1="929.46" y1="985.50" x2="929.46" y2="991.50" stroke="#000" stroke-width="2.6" stroke-linecap="butt"/>
<line x1="1006.71" y1="985.50" x2="1006.71" y2="991.50" stroke="#000" stroke-width="2.6" stroke-linecap="butt"/>
<line x1="1083.97" y1="985.50" x2="1083.97" y2="991.50" stroke="#000" stroke-width="2.6" stroke-linecap="butt"/>
<line x1="1161.23" y1="985.50" x2="1161.23" y2="991.50" stroke="#000" stroke-width="2.6" stroke-linecap="butt"/>
<line x1="1238.49" y1="985.50" x2="1238.49" y2="991.50" stroke="#000" stroke-width="2.6" stroke-linecap="butt"/>
<line x1="1315.74" y1="985.50" x2="1315.74" y2="991.50" stroke="#000" stroke-width="2.6" stroke-linecap="butt"/>
<line x1="1393.00" y1="985.50" x2="1393.00" y2="991.50" stroke="#000" stroke-width="2.6" stroke-linecap="butt"/>
<text x="827.92" y="990.95" font-family="Liberation Sans" font-weight="bold" font-size="21.3" fill="#000" textLength="11.26" lengthAdjust="spacingAndGlyphs">0</text>
<text x="816.60" y="937.83" font-family="Liberation Sans" font-weight="bold" font-size="21.3" fill="#000" textLength="22.52" lengthAdjust="spacingAndGlyphs">10</text>
<text x="816.60" y="884.70" font-family="Liberation Sans" font-weight="bold" font-size="21.3" fill="#000" textLength="22.52" lengthAdjust="spacingAndGlyphs">20</text>
<text x="816.60" y="831.58" font-family="Liberation Sans" font-weight="bold" font-size="21.3" fill="#000" textLength="22.52" lengthAdjust="spacingAndGlyphs">30</text>
<text x="816.60" y="778.45" font-family="Liberation Sans" font-weight="bold" font-size="21.3" fill="#000" textLength="22.52" lengthAdjust="spacingAndGlyphs">40</text>
<text x="816.60" y="725.33" font-family="Liberation Sans" font-weight="bold" font-size="21.3" fill="#000" textLength="22.52" lengthAdjust="spacingAndGlyphs">50</text>
<text x="816.60" y="672.20" font-family="Liberation Sans" font-weight="bold" font-size="21.3" fill="#000" textLength="22.52" lengthAdjust="spacingAndGlyphs">60</text>
<text x="816.60" y="619.08" font-family="Liberation Sans" font-weight="bold" font-size="21.3" fill="#000" textLength="22.52" lengthAdjust="spacingAndGlyphs">70</text>
<text x="816.60" y="565.95" font-family="Liberation Sans" font-weight="bold" font-size="21.3" fill="#000" textLength="22.52" lengthAdjust="spacingAndGlyphs">80</text>
<text x="883.10" y="1012.20" font-family="Liberation Sans" font-weight="bold" font-size="21.3" fill="#000" textLength="20.25" lengthAdjust="spacingAndGlyphs">DI</text>
<text x="964.13" y="1011.95" font-family="Liberation Sans" font-weight="bold" font-size="21.3" fill="#000" textLength="11.26" lengthAdjust="spacingAndGlyphs">0</text>
<text x="1041.25" y="1012.20" font-family="Liberation Sans" font-weight="bold" font-size="21.3" fill="#000" textLength="11.26" lengthAdjust="spacingAndGlyphs">2</text>
<text x="1118.38" y="1012.20" font-family="Liberation Sans" font-weight="bold" font-size="21.3" fill="#000" textLength="11.26" lengthAdjust="spacingAndGlyphs">4</text>
<text x="1195.20" y="1011.95" font-family="Liberation Sans" font-weight="bold" font-size="21.3" fill="#000" textLength="11.26" lengthAdjust="spacingAndGlyphs">5</text>
<text x="1265.10" y="1011.95" font-family="Liberation Sans" font-weight="bold" font-size="21.3" fill="#000" textLength="28.15" lengthAdjust="spacingAndGlyphs">5.5</text>
<text x="1349.97" y="1011.95" font-family="Liberation Sans" font-weight="bold" font-size="21.3" fill="#000" textLength="11.26" lengthAdjust="spacingAndGlyphs">6</text>
<text x="883.66" y="978.52" font-family="Liberation Sans" font-weight="normal" font-size="20.5" fill="#000" textLength="23.27" lengthAdjust="spacingAndGlyphs">***</text>
<text x="958.62" y="917.83" font-family="Liberation Sans" font-weight="normal" font-size="20.5" fill="#000" textLength="23.27" lengthAdjust="spacingAndGlyphs">***</text>
<text x="1113.14" y="721.73" font-family="Liberation Sans" font-weight="normal" font-size="20.5" fill="#000" textLength="23.27" lengthAdjust="spacingAndGlyphs">***</text>
<text x="1190.39" y="789.42" font-family="Liberation Sans" font-weight="normal" font-size="20.5" fill="#000" textLength="23.27" lengthAdjust="spacingAndGlyphs">***</text>
<text x="1267.65" y="838.02" font-family="Liberation Sans" font-weight="normal" font-size="20.5" fill="#000" textLength="23.27" lengthAdjust="spacingAndGlyphs">***</text>
<text x="1344.91" y="831.92" font-family="Liberation Sans" font-weight="normal" font-size="20.5" fill="#000" textLength="23.27" lengthAdjust="spacingAndGlyphs">***</text>
<text x="1059.30" y="1043.40" font-family="Liberation Sans" font-weight="bold" font-size="26.8" fill="#000" textLength="127.48" lengthAdjust="spacingAndGlyphs">Fe/Cu ratio</text>
<text transform="translate(784.40,985.02) rotate(-90)" x="0" y="0" font-family="Liberation Sans" font-weight="bold" font-size="27.3" textLength="392.99" lengthAdjust="spacingAndGlyphs">Relative fluorescence intensity</text>
<text x="702.90" y="564.90" font-family="Liberation Serif" font-weight="normal" font-size="37.5" fill="#000" textLength="45.67" lengthAdjust="spacingAndGlyphs">(d)</text>
</svg></body></html>
